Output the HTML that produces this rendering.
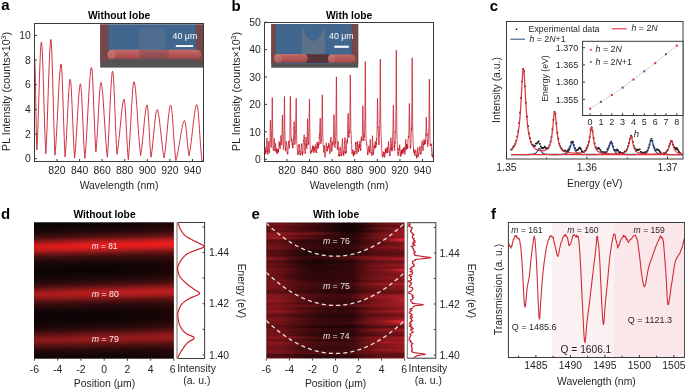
<!DOCTYPE html><html><head><meta charset="utf-8"><style>
html,body{margin:0;padding:0;background:#fff;}
svg{display:block;font-family:"Liberation Sans",sans-serif;will-change:transform;}
</style></head><body>
<svg width="685" height="390" viewBox="0 0 685 390">
<defs>
<clipPath id="clipa"><rect x="34.5" y="23" width="169" height="138.5"/></clipPath>
<clipPath id="clipb"><rect x="264.5" y="22" width="169.5" height="139.5"/></clipPath>
<clipPath id="clipc"><rect x="507" y="22" width="176" height="137"/></clipPath>
<clipPath id="clipe"><rect x="266.3" y="222.5" width="138.3" height="136.10000000000002"/></clipPath>
<clipPath id="clipf"><rect x="508.4" y="222.5" width="176.20000000000005" height="135.0"/></clipPath>
<linearGradient id="rod" x1="0" y1="0" x2="0" y2="1">
<stop offset="0" stop-color="#c46c6c"/><stop offset="0.3" stop-color="#bb5c5c"/><stop offset="0.8" stop-color="#a84e4e"/><stop offset="1" stop-color="#884040"/></linearGradient>
<linearGradient id="dgrad" gradientUnits="userSpaceOnUse" x1="104" y1="220.3" x2="104" y2="360.3" gradientTransform="rotate(-1.45 104 290)"><stop offset="0.0000" stop-color="#0b0304"/><stop offset="0.0071" stop-color="#0c0304"/><stop offset="0.0143" stop-color="#0d0405"/><stop offset="0.0214" stop-color="#0e0405"/><stop offset="0.0286" stop-color="#0f0405"/><stop offset="0.0357" stop-color="#110506"/><stop offset="0.0429" stop-color="#130506"/><stop offset="0.0500" stop-color="#160607"/><stop offset="0.0571" stop-color="#190708"/><stop offset="0.0643" stop-color="#1d0708"/><stop offset="0.0714" stop-color="#220809"/><stop offset="0.0786" stop-color="#27090a"/><stop offset="0.0857" stop-color="#2d0a0b"/><stop offset="0.0929" stop-color="#350c0d"/><stop offset="0.1000" stop-color="#3d0d0e"/><stop offset="0.1071" stop-color="#480f10"/><stop offset="0.1143" stop-color="#541112"/><stop offset="0.1214" stop-color="#631314"/><stop offset="0.1286" stop-color="#751617"/><stop offset="0.1357" stop-color="#891819"/><stop offset="0.1429" stop-color="#9e1b1c"/><stop offset="0.1500" stop-color="#b41c1d"/><stop offset="0.1571" stop-color="#c91c1d"/><stop offset="0.1643" stop-color="#db1c1d"/><stop offset="0.1714" stop-color="#e71c1d"/><stop offset="0.1786" stop-color="#ec1c1d"/><stop offset="0.1857" stop-color="#ec1c1d"/><stop offset="0.1929" stop-color="#e31c1d"/><stop offset="0.2000" stop-color="#d41c1d"/><stop offset="0.2071" stop-color="#c11c1d"/><stop offset="0.2143" stop-color="#ac1c1d"/><stop offset="0.2214" stop-color="#961a1b"/><stop offset="0.2286" stop-color="#811718"/><stop offset="0.2357" stop-color="#6e1516"/><stop offset="0.2429" stop-color="#5d1213"/><stop offset="0.2500" stop-color="#4f1011"/><stop offset="0.2571" stop-color="#430e0f"/><stop offset="0.2643" stop-color="#3a0d0e"/><stop offset="0.2714" stop-color="#310b0c"/><stop offset="0.2786" stop-color="#2b0a0b"/><stop offset="0.2857" stop-color="#25090a"/><stop offset="0.2929" stop-color="#200809"/><stop offset="0.3000" stop-color="#1c0708"/><stop offset="0.3071" stop-color="#180607"/><stop offset="0.3143" stop-color="#150607"/><stop offset="0.3214" stop-color="#130506"/><stop offset="0.3286" stop-color="#110506"/><stop offset="0.3357" stop-color="#100506"/><stop offset="0.3429" stop-color="#0f0405"/><stop offset="0.3500" stop-color="#0f0405"/><stop offset="0.3571" stop-color="#0f0405"/><stop offset="0.3643" stop-color="#0f0405"/><stop offset="0.3714" stop-color="#100506"/><stop offset="0.3786" stop-color="#110506"/><stop offset="0.3857" stop-color="#130506"/><stop offset="0.3929" stop-color="#150607"/><stop offset="0.4000" stop-color="#180607"/><stop offset="0.4071" stop-color="#1b0708"/><stop offset="0.4143" stop-color="#1f0809"/><stop offset="0.4214" stop-color="#23090a"/><stop offset="0.4286" stop-color="#290a0b"/><stop offset="0.4357" stop-color="#2f0b0c"/><stop offset="0.4429" stop-color="#360c0d"/><stop offset="0.4500" stop-color="#3f0d0e"/><stop offset="0.4571" stop-color="#4a0f10"/><stop offset="0.4643" stop-color="#571112"/><stop offset="0.4714" stop-color="#661314"/><stop offset="0.4786" stop-color="#761617"/><stop offset="0.4857" stop-color="#871819"/><stop offset="0.4929" stop-color="#981a1b"/><stop offset="0.5000" stop-color="#a71c1d"/><stop offset="0.5071" stop-color="#b21c1d"/><stop offset="0.5143" stop-color="#b91c1d"/><stop offset="0.5214" stop-color="#ba1c1d"/><stop offset="0.5286" stop-color="#b61c1d"/><stop offset="0.5357" stop-color="#ac1c1d"/><stop offset="0.5429" stop-color="#9e1b1c"/><stop offset="0.5500" stop-color="#8e191a"/><stop offset="0.5571" stop-color="#7d1718"/><stop offset="0.5643" stop-color="#6c1415"/><stop offset="0.5714" stop-color="#5d1213"/><stop offset="0.5786" stop-color="#4f1011"/><stop offset="0.5857" stop-color="#440e0f"/><stop offset="0.5929" stop-color="#3a0d0e"/><stop offset="0.6000" stop-color="#320b0c"/><stop offset="0.6071" stop-color="#2b0a0b"/><stop offset="0.6143" stop-color="#25090a"/><stop offset="0.6214" stop-color="#200809"/><stop offset="0.6286" stop-color="#1c0708"/><stop offset="0.6357" stop-color="#190708"/><stop offset="0.6429" stop-color="#160607"/><stop offset="0.6500" stop-color="#140506"/><stop offset="0.6571" stop-color="#120506"/><stop offset="0.6643" stop-color="#100506"/><stop offset="0.6714" stop-color="#100405"/><stop offset="0.6786" stop-color="#0f0405"/><stop offset="0.6857" stop-color="#0f0405"/><stop offset="0.6929" stop-color="#0f0405"/><stop offset="0.7000" stop-color="#100405"/><stop offset="0.7071" stop-color="#100506"/><stop offset="0.7143" stop-color="#120506"/><stop offset="0.7214" stop-color="#140506"/><stop offset="0.7286" stop-color="#160607"/><stop offset="0.7357" stop-color="#180607"/><stop offset="0.7429" stop-color="#1c0708"/><stop offset="0.7500" stop-color="#1f0809"/><stop offset="0.7571" stop-color="#24090a"/><stop offset="0.7643" stop-color="#290a0b"/><stop offset="0.7714" stop-color="#300b0c"/><stop offset="0.7786" stop-color="#370c0d"/><stop offset="0.7857" stop-color="#410e0f"/><stop offset="0.7929" stop-color="#4b0f10"/><stop offset="0.8000" stop-color="#571112"/><stop offset="0.8071" stop-color="#651314"/><stop offset="0.8143" stop-color="#721516"/><stop offset="0.8214" stop-color="#7f1718"/><stop offset="0.8286" stop-color="#8a1819"/><stop offset="0.8357" stop-color="#911a1b"/><stop offset="0.8429" stop-color="#951a1b"/><stop offset="0.8500" stop-color="#941a1b"/><stop offset="0.8571" stop-color="#8f191a"/><stop offset="0.8643" stop-color="#861819"/><stop offset="0.8714" stop-color="#7a1617"/><stop offset="0.8786" stop-color="#6d1415"/><stop offset="0.8857" stop-color="#5f1213"/><stop offset="0.8929" stop-color="#521011"/><stop offset="0.9000" stop-color="#470f10"/><stop offset="0.9071" stop-color="#3d0d0e"/><stop offset="0.9143" stop-color="#340c0d"/><stop offset="0.9214" stop-color="#2d0a0b"/><stop offset="0.9286" stop-color="#27090a"/><stop offset="0.9357" stop-color="#220809"/><stop offset="0.9429" stop-color="#1e0809"/><stop offset="0.9500" stop-color="#1a0708"/><stop offset="0.9571" stop-color="#170607"/><stop offset="0.9643" stop-color="#140607"/><stop offset="0.9714" stop-color="#120506"/><stop offset="0.9786" stop-color="#100506"/><stop offset="0.9857" stop-color="#0f0405"/><stop offset="0.9929" stop-color="#0e0405"/><stop offset="1.0000" stop-color="#0d0405"/></linearGradient>
<linearGradient id="dlr" x1="0" y1="0" x2="1" y2="0"><stop offset="0" stop-color="#000" stop-opacity="0.10"/><stop offset="0.5" stop-color="#000" stop-opacity="0"/><stop offset="1" stop-color="#f02020" stop-opacity="0.06"/></linearGradient>
<linearGradient id="er0"><stop offset="0.000" stop-color="#31080a"/><stop offset="0.015" stop-color="#580f13"/><stop offset="0.050" stop-color="#590f13"/><stop offset="0.100" stop-color="#5a0f13"/><stop offset="0.150" stop-color="#500d11"/><stop offset="0.200" stop-color="#460b0f"/><stop offset="0.250" stop-color="#3d0a0d"/><stop offset="0.300" stop-color="#38090c"/><stop offset="0.350" stop-color="#31080a"/><stop offset="0.400" stop-color="#2b0709"/><stop offset="0.450" stop-color="#240608"/><stop offset="0.500" stop-color="#1c0406"/><stop offset="0.550" stop-color="#160305"/><stop offset="0.600" stop-color="#140304"/><stop offset="0.640" stop-color="#150305"/><stop offset="0.670" stop-color="#1c0406"/><stop offset="0.700" stop-color="#260608"/><stop offset="0.750" stop-color="#37090c"/><stop offset="0.800" stop-color="#480c0f"/><stop offset="0.850" stop-color="#520d11"/><stop offset="0.900" stop-color="#580f13"/><stop offset="0.950" stop-color="#5d0f14"/><stop offset="1.000" stop-color="#611015"/></linearGradient>
<linearGradient id="er1"><stop offset="0.000" stop-color="#450b0f"/><stop offset="0.015" stop-color="#6c1217"/><stop offset="0.050" stop-color="#6c1217"/><stop offset="0.100" stop-color="#6c1217"/><stop offset="0.150" stop-color="#611014"/><stop offset="0.200" stop-color="#560e12"/><stop offset="0.250" stop-color="#4c0c10"/><stop offset="0.300" stop-color="#460b0f"/><stop offset="0.350" stop-color="#3e0a0d"/><stop offset="0.400" stop-color="#36090b"/><stop offset="0.450" stop-color="#2c0709"/><stop offset="0.500" stop-color="#220507"/><stop offset="0.550" stop-color="#190405"/><stop offset="0.600" stop-color="#160305"/><stop offset="0.640" stop-color="#180405"/><stop offset="0.670" stop-color="#210507"/><stop offset="0.700" stop-color="#2d0709"/><stop offset="0.750" stop-color="#410b0e"/><stop offset="0.800" stop-color="#560e12"/><stop offset="0.850" stop-color="#631015"/><stop offset="0.900" stop-color="#6c1217"/><stop offset="0.950" stop-color="#731318"/><stop offset="1.000" stop-color="#791419"/></linearGradient>
<linearGradient id="er2"><stop offset="0.000" stop-color="#4d0d10"/><stop offset="0.015" stop-color="#741318"/><stop offset="0.050" stop-color="#751319"/><stop offset="0.100" stop-color="#761419"/><stop offset="0.150" stop-color="#6c1217"/><stop offset="0.200" stop-color="#601014"/><stop offset="0.250" stop-color="#540e12"/><stop offset="0.300" stop-color="#4c0c10"/><stop offset="0.350" stop-color="#420b0e"/><stop offset="0.400" stop-color="#39090c"/><stop offset="0.450" stop-color="#2e070a"/><stop offset="0.500" stop-color="#230607"/><stop offset="0.550" stop-color="#1a0406"/><stop offset="0.600" stop-color="#170305"/><stop offset="0.640" stop-color="#190405"/><stop offset="0.670" stop-color="#210507"/><stop offset="0.700" stop-color="#2d070a"/><stop offset="0.750" stop-color="#430b0e"/><stop offset="0.800" stop-color="#590f13"/><stop offset="0.850" stop-color="#661115"/><stop offset="0.900" stop-color="#6f1217"/><stop offset="0.950" stop-color="#761419"/><stop offset="1.000" stop-color="#7d151a"/></linearGradient>
<linearGradient id="er3"><stop offset="0.000" stop-color="#440b0e"/><stop offset="0.015" stop-color="#6c1217"/><stop offset="0.050" stop-color="#6e1217"/><stop offset="0.100" stop-color="#701318"/><stop offset="0.150" stop-color="#671116"/><stop offset="0.200" stop-color="#5c0f13"/><stop offset="0.250" stop-color="#500d11"/><stop offset="0.300" stop-color="#480c0f"/><stop offset="0.350" stop-color="#3e0a0d"/><stop offset="0.400" stop-color="#35090b"/><stop offset="0.450" stop-color="#2a0709"/><stop offset="0.500" stop-color="#200507"/><stop offset="0.550" stop-color="#180405"/><stop offset="0.600" stop-color="#150304"/><stop offset="0.640" stop-color="#160305"/><stop offset="0.670" stop-color="#1e0506"/><stop offset="0.700" stop-color="#290609"/><stop offset="0.750" stop-color="#3c0a0d"/><stop offset="0.800" stop-color="#4f0d11"/><stop offset="0.850" stop-color="#5b0f13"/><stop offset="0.900" stop-color="#621015"/><stop offset="0.950" stop-color="#691116"/><stop offset="1.000" stop-color="#6e1217"/></linearGradient>
<linearGradient id="er4"><stop offset="0.000" stop-color="#3b0a0d"/><stop offset="0.015" stop-color="#631015"/><stop offset="0.050" stop-color="#651115"/><stop offset="0.100" stop-color="#691116"/><stop offset="0.150" stop-color="#601014"/><stop offset="0.200" stop-color="#550e12"/><stop offset="0.250" stop-color="#4a0c10"/><stop offset="0.300" stop-color="#420b0e"/><stop offset="0.350" stop-color="#39090c"/><stop offset="0.400" stop-color="#30080a"/><stop offset="0.450" stop-color="#270608"/><stop offset="0.500" stop-color="#1e0506"/><stop offset="0.550" stop-color="#160305"/><stop offset="0.600" stop-color="#130304"/><stop offset="0.640" stop-color="#150304"/><stop offset="0.670" stop-color="#1c0406"/><stop offset="0.700" stop-color="#260608"/><stop offset="0.750" stop-color="#37090c"/><stop offset="0.800" stop-color="#490c0f"/><stop offset="0.850" stop-color="#530e12"/><stop offset="0.900" stop-color="#5a0f13"/><stop offset="0.950" stop-color="#5f1014"/><stop offset="1.000" stop-color="#641115"/></linearGradient>
<linearGradient id="er5"><stop offset="0.000" stop-color="#3f0a0d"/><stop offset="0.015" stop-color="#661115"/><stop offset="0.050" stop-color="#651115"/><stop offset="0.100" stop-color="#641115"/><stop offset="0.150" stop-color="#580e12"/><stop offset="0.200" stop-color="#4b0c10"/><stop offset="0.250" stop-color="#410b0e"/><stop offset="0.300" stop-color="#3c0a0d"/><stop offset="0.350" stop-color="#36090b"/><stop offset="0.400" stop-color="#31080a"/><stop offset="0.450" stop-color="#2a0709"/><stop offset="0.500" stop-color="#210507"/><stop offset="0.550" stop-color="#1a0405"/><stop offset="0.600" stop-color="#170305"/><stop offset="0.640" stop-color="#190405"/><stop offset="0.670" stop-color="#220507"/><stop offset="0.700" stop-color="#2f080a"/><stop offset="0.750" stop-color="#460b0f"/><stop offset="0.800" stop-color="#5c0f13"/><stop offset="0.850" stop-color="#691116"/><stop offset="0.900" stop-color="#711318"/><stop offset="0.950" stop-color="#771419"/><stop offset="1.000" stop-color="#7b141a"/></linearGradient>
<linearGradient id="er6"><stop offset="0.000" stop-color="#480c0f"/><stop offset="0.015" stop-color="#6f1217"/><stop offset="0.050" stop-color="#6e1217"/><stop offset="0.100" stop-color="#6c1217"/><stop offset="0.150" stop-color="#5f1014"/><stop offset="0.200" stop-color="#530e11"/><stop offset="0.250" stop-color="#480c0f"/><stop offset="0.300" stop-color="#420b0e"/><stop offset="0.350" stop-color="#3c0a0d"/><stop offset="0.400" stop-color="#36090b"/><stop offset="0.450" stop-color="#2e070a"/><stop offset="0.500" stop-color="#240608"/><stop offset="0.550" stop-color="#1c0406"/><stop offset="0.600" stop-color="#190405"/><stop offset="0.640" stop-color="#1c0406"/><stop offset="0.670" stop-color="#260608"/><stop offset="0.700" stop-color="#33080b"/><stop offset="0.750" stop-color="#4b0c10"/><stop offset="0.800" stop-color="#631015"/><stop offset="0.850" stop-color="#711318"/><stop offset="0.900" stop-color="#7c151a"/><stop offset="0.950" stop-color="#84161c"/><stop offset="1.000" stop-color="#8a171d"/></linearGradient>
<linearGradient id="er7"><stop offset="0.000" stop-color="#4d0d10"/><stop offset="0.015" stop-color="#741318"/><stop offset="0.050" stop-color="#731318"/><stop offset="0.100" stop-color="#711318"/><stop offset="0.150" stop-color="#661116"/><stop offset="0.200" stop-color="#5b0f13"/><stop offset="0.250" stop-color="#510d11"/><stop offset="0.300" stop-color="#4a0c10"/><stop offset="0.350" stop-color="#400a0e"/><stop offset="0.400" stop-color="#37090c"/><stop offset="0.450" stop-color="#2e070a"/><stop offset="0.500" stop-color="#240608"/><stop offset="0.550" stop-color="#1b0406"/><stop offset="0.600" stop-color="#180405"/><stop offset="0.640" stop-color="#1b0406"/><stop offset="0.670" stop-color="#240608"/><stop offset="0.700" stop-color="#30080a"/><stop offset="0.750" stop-color="#460b0f"/><stop offset="0.800" stop-color="#5d0f14"/><stop offset="0.850" stop-color="#6c1217"/><stop offset="0.900" stop-color="#7c151a"/><stop offset="0.950" stop-color="#8c171e"/><stop offset="1.000" stop-color="#971920"/></linearGradient>
<linearGradient id="er8"><stop offset="0.000" stop-color="#3b0a0c"/><stop offset="0.015" stop-color="#621015"/><stop offset="0.050" stop-color="#611014"/><stop offset="0.100" stop-color="#611014"/><stop offset="0.150" stop-color="#560e12"/><stop offset="0.200" stop-color="#4c0d10"/><stop offset="0.250" stop-color="#430b0e"/><stop offset="0.300" stop-color="#3d0a0d"/><stop offset="0.350" stop-color="#34080b"/><stop offset="0.400" stop-color="#2d070a"/><stop offset="0.450" stop-color="#260608"/><stop offset="0.500" stop-color="#1f0507"/><stop offset="0.550" stop-color="#190405"/><stop offset="0.600" stop-color="#160305"/><stop offset="0.640" stop-color="#180405"/><stop offset="0.670" stop-color="#200507"/><stop offset="0.700" stop-color="#2b0709"/><stop offset="0.750" stop-color="#3d0a0d"/><stop offset="0.800" stop-color="#500d11"/><stop offset="0.850" stop-color="#5f1014"/><stop offset="0.900" stop-color="#731318"/><stop offset="0.950" stop-color="#8d171e"/><stop offset="1.000" stop-color="#9c1a21"/></linearGradient>
<linearGradient id="er9"><stop offset="0.000" stop-color="#3b0a0c"/><stop offset="0.015" stop-color="#631015"/><stop offset="0.050" stop-color="#651115"/><stop offset="0.100" stop-color="#681116"/><stop offset="0.150" stop-color="#601014"/><stop offset="0.200" stop-color="#570e12"/><stop offset="0.250" stop-color="#4f0d11"/><stop offset="0.300" stop-color="#4c0c10"/><stop offset="0.350" stop-color="#470c0f"/><stop offset="0.400" stop-color="#410b0e"/><stop offset="0.450" stop-color="#36090b"/><stop offset="0.500" stop-color="#290609"/><stop offset="0.550" stop-color="#1e0506"/><stop offset="0.600" stop-color="#190405"/><stop offset="0.640" stop-color="#190405"/><stop offset="0.670" stop-color="#210507"/><stop offset="0.700" stop-color="#2c0709"/><stop offset="0.750" stop-color="#3d0a0d"/><stop offset="0.800" stop-color="#4f0d11"/><stop offset="0.850" stop-color="#5e0f14"/><stop offset="0.900" stop-color="#711318"/><stop offset="0.950" stop-color="#8b171d"/><stop offset="1.000" stop-color="#9a1a21"/></linearGradient>
<linearGradient id="er10"><stop offset="0.000" stop-color="#520d11"/><stop offset="0.015" stop-color="#7a141a"/><stop offset="0.050" stop-color="#7c151a"/><stop offset="0.100" stop-color="#80151b"/><stop offset="0.150" stop-color="#781419"/><stop offset="0.200" stop-color="#6f1217"/><stop offset="0.250" stop-color="#671116"/><stop offset="0.300" stop-color="#641115"/><stop offset="0.350" stop-color="#5f1014"/><stop offset="0.400" stop-color="#560e12"/><stop offset="0.450" stop-color="#470c0f"/><stop offset="0.500" stop-color="#35080b"/><stop offset="0.550" stop-color="#260608"/><stop offset="0.600" stop-color="#1f0507"/><stop offset="0.640" stop-color="#200507"/><stop offset="0.670" stop-color="#2a0709"/><stop offset="0.700" stop-color="#36090b"/><stop offset="0.750" stop-color="#4a0c10"/><stop offset="0.800" stop-color="#5f1014"/><stop offset="0.850" stop-color="#6d1217"/><stop offset="0.900" stop-color="#7c151a"/><stop offset="0.950" stop-color="#8c171d"/><stop offset="1.000" stop-color="#971920"/></linearGradient>
<linearGradient id="er11"><stop offset="0.000" stop-color="#611014"/><stop offset="0.015" stop-color="#88171d"/><stop offset="0.050" stop-color="#8a171d"/><stop offset="0.100" stop-color="#8d181e"/><stop offset="0.150" stop-color="#85161c"/><stop offset="0.200" stop-color="#7b141a"/><stop offset="0.250" stop-color="#721318"/><stop offset="0.300" stop-color="#6e1217"/><stop offset="0.350" stop-color="#681116"/><stop offset="0.400" stop-color="#5f1014"/><stop offset="0.450" stop-color="#4f0d11"/><stop offset="0.500" stop-color="#3b0a0d"/><stop offset="0.550" stop-color="#2b0709"/><stop offset="0.600" stop-color="#250608"/><stop offset="0.640" stop-color="#270608"/><stop offset="0.670" stop-color="#31080a"/><stop offset="0.700" stop-color="#3e0a0d"/><stop offset="0.750" stop-color="#540e12"/><stop offset="0.800" stop-color="#6a1216"/><stop offset="0.850" stop-color="#791419"/><stop offset="0.900" stop-color="#84161c"/><stop offset="0.950" stop-color="#8e181e"/><stop offset="1.000" stop-color="#971920"/></linearGradient>
<linearGradient id="er12"><stop offset="0.000" stop-color="#691116"/><stop offset="0.015" stop-color="#90181e"/><stop offset="0.050" stop-color="#91181e"/><stop offset="0.100" stop-color="#91181f"/><stop offset="0.150" stop-color="#87161c"/><stop offset="0.200" stop-color="#7b151a"/><stop offset="0.250" stop-color="#711318"/><stop offset="0.300" stop-color="#6c1217"/><stop offset="0.350" stop-color="#651115"/><stop offset="0.400" stop-color="#5c0f13"/><stop offset="0.450" stop-color="#4e0d10"/><stop offset="0.500" stop-color="#3d0a0d"/><stop offset="0.550" stop-color="#2f070a"/><stop offset="0.600" stop-color="#2a0709"/><stop offset="0.640" stop-color="#2c0709"/><stop offset="0.670" stop-color="#38090c"/><stop offset="0.700" stop-color="#460b0f"/><stop offset="0.750" stop-color="#5d0f14"/><stop offset="0.800" stop-color="#741319"/><stop offset="0.850" stop-color="#83161c"/><stop offset="0.900" stop-color="#8e181e"/><stop offset="0.950" stop-color="#981920"/><stop offset="1.000" stop-color="#a01b22"/></linearGradient>
<linearGradient id="er13"><stop offset="0.000" stop-color="#6e1217"/><stop offset="0.015" stop-color="#95191f"/><stop offset="0.050" stop-color="#92181f"/><stop offset="0.100" stop-color="#8b171d"/><stop offset="0.150" stop-color="#79141a"/><stop offset="0.200" stop-color="#671116"/><stop offset="0.250" stop-color="#580e13"/><stop offset="0.300" stop-color="#4f0d11"/><stop offset="0.350" stop-color="#470c0f"/><stop offset="0.400" stop-color="#400b0e"/><stop offset="0.450" stop-color="#39090c"/><stop offset="0.500" stop-color="#30080a"/><stop offset="0.550" stop-color="#290609"/><stop offset="0.600" stop-color="#280608"/><stop offset="0.640" stop-color="#2b0709"/><stop offset="0.670" stop-color="#37090c"/><stop offset="0.700" stop-color="#440b0e"/><stop offset="0.750" stop-color="#5a0f13"/><stop offset="0.800" stop-color="#6f1217"/><stop offset="0.850" stop-color="#7c151a"/><stop offset="0.900" stop-color="#86161c"/><stop offset="0.950" stop-color="#8e181e"/><stop offset="1.000" stop-color="#961920"/></linearGradient>
<linearGradient id="er14"><stop offset="0.000" stop-color="#681116"/><stop offset="0.015" stop-color="#8e181e"/><stop offset="0.050" stop-color="#8c171d"/><stop offset="0.100" stop-color="#86161c"/><stop offset="0.150" stop-color="#741318"/><stop offset="0.200" stop-color="#621015"/><stop offset="0.250" stop-color="#530e11"/><stop offset="0.300" stop-color="#4a0c10"/><stop offset="0.350" stop-color="#430b0e"/><stop offset="0.400" stop-color="#3d0a0d"/><stop offset="0.450" stop-color="#37090c"/><stop offset="0.500" stop-color="#2f080a"/><stop offset="0.550" stop-color="#290609"/><stop offset="0.600" stop-color="#280608"/><stop offset="0.640" stop-color="#2b0709"/><stop offset="0.670" stop-color="#37090c"/><stop offset="0.700" stop-color="#440b0e"/><stop offset="0.750" stop-color="#580e13"/><stop offset="0.800" stop-color="#6b1217"/><stop offset="0.850" stop-color="#771419"/><stop offset="0.900" stop-color="#80151b"/><stop offset="0.950" stop-color="#88171d"/><stop offset="1.000" stop-color="#8f181e"/></linearGradient>
<linearGradient id="er15"><stop offset="0.000" stop-color="#681116"/><stop offset="0.015" stop-color="#90181e"/><stop offset="0.050" stop-color="#90181e"/><stop offset="0.100" stop-color="#8e181e"/><stop offset="0.150" stop-color="#80151b"/><stop offset="0.200" stop-color="#701318"/><stop offset="0.250" stop-color="#611014"/><stop offset="0.300" stop-color="#560e12"/><stop offset="0.350" stop-color="#4c0c10"/><stop offset="0.400" stop-color="#440b0e"/><stop offset="0.450" stop-color="#3b0a0d"/><stop offset="0.500" stop-color="#33080b"/><stop offset="0.550" stop-color="#2c0709"/><stop offset="0.600" stop-color="#2b0709"/><stop offset="0.640" stop-color="#2e070a"/><stop offset="0.670" stop-color="#3b0a0c"/><stop offset="0.700" stop-color="#480c0f"/><stop offset="0.750" stop-color="#5b0f13"/><stop offset="0.800" stop-color="#6d1217"/><stop offset="0.850" stop-color="#781419"/><stop offset="0.900" stop-color="#83161c"/><stop offset="0.950" stop-color="#8d181e"/><stop offset="1.000" stop-color="#95191f"/></linearGradient>
<linearGradient id="er16"><stop offset="0.000" stop-color="#741319"/><stop offset="0.015" stop-color="#9b1a21"/><stop offset="0.050" stop-color="#9b1a21"/><stop offset="0.100" stop-color="#991a20"/><stop offset="0.150" stop-color="#8a171d"/><stop offset="0.200" stop-color="#791419"/><stop offset="0.250" stop-color="#691116"/><stop offset="0.300" stop-color="#5e1014"/><stop offset="0.350" stop-color="#530e12"/><stop offset="0.400" stop-color="#4b0c10"/><stop offset="0.450" stop-color="#420b0e"/><stop offset="0.500" stop-color="#39090c"/><stop offset="0.550" stop-color="#32080b"/><stop offset="0.600" stop-color="#32080b"/><stop offset="0.640" stop-color="#36090b"/><stop offset="0.670" stop-color="#430b0e"/><stop offset="0.700" stop-color="#510d11"/><stop offset="0.750" stop-color="#651115"/><stop offset="0.800" stop-color="#781419"/><stop offset="0.850" stop-color="#87171d"/><stop offset="0.900" stop-color="#9b1a21"/><stop offset="0.950" stop-color="#b31e26"/><stop offset="1.000" stop-color="#c32129"/></linearGradient>
<linearGradient id="er17"><stop offset="0.000" stop-color="#470c0f"/><stop offset="0.015" stop-color="#6e1217"/><stop offset="0.050" stop-color="#6c1217"/><stop offset="0.100" stop-color="#6a1216"/><stop offset="0.150" stop-color="#5d0f14"/><stop offset="0.200" stop-color="#500d11"/><stop offset="0.250" stop-color="#440b0e"/><stop offset="0.300" stop-color="#3e0a0d"/><stop offset="0.350" stop-color="#39090c"/><stop offset="0.400" stop-color="#35090b"/><stop offset="0.450" stop-color="#31080a"/><stop offset="0.500" stop-color="#2d070a"/><stop offset="0.550" stop-color="#290709"/><stop offset="0.600" stop-color="#290609"/><stop offset="0.640" stop-color="#2c0709"/><stop offset="0.670" stop-color="#38090c"/><stop offset="0.700" stop-color="#440b0e"/><stop offset="0.750" stop-color="#550e12"/><stop offset="0.800" stop-color="#681116"/><stop offset="0.850" stop-color="#7c151a"/><stop offset="0.900" stop-color="#9f1b22"/><stop offset="0.950" stop-color="#cd222b"/><stop offset="1.000" stop-color="#e32630"/></linearGradient>
<linearGradient id="er18"><stop offset="0.000" stop-color="#3a090c"/><stop offset="0.015" stop-color="#601014"/><stop offset="0.050" stop-color="#5f1014"/><stop offset="0.100" stop-color="#5e0f14"/><stop offset="0.150" stop-color="#510d11"/><stop offset="0.200" stop-color="#440b0e"/><stop offset="0.250" stop-color="#3a090c"/><stop offset="0.300" stop-color="#35080b"/><stop offset="0.350" stop-color="#30080a"/><stop offset="0.400" stop-color="#2d070a"/><stop offset="0.450" stop-color="#2b0709"/><stop offset="0.500" stop-color="#280608"/><stop offset="0.550" stop-color="#250608"/><stop offset="0.600" stop-color="#240608"/><stop offset="0.640" stop-color="#260608"/><stop offset="0.670" stop-color="#32080b"/><stop offset="0.700" stop-color="#3e0a0d"/><stop offset="0.750" stop-color="#4d0d10"/><stop offset="0.800" stop-color="#5e1014"/><stop offset="0.850" stop-color="#721318"/><stop offset="0.900" stop-color="#961920"/><stop offset="0.950" stop-color="#c42129"/><stop offset="1.000" stop-color="#dc252e"/></linearGradient>
<linearGradient id="er19"><stop offset="0.000" stop-color="#31080a"/><stop offset="0.015" stop-color="#570e12"/><stop offset="0.050" stop-color="#570e12"/><stop offset="0.100" stop-color="#550e12"/><stop offset="0.150" stop-color="#490c0f"/><stop offset="0.200" stop-color="#3d0a0d"/><stop offset="0.250" stop-color="#33080b"/><stop offset="0.300" stop-color="#2e070a"/><stop offset="0.350" stop-color="#2a0709"/><stop offset="0.400" stop-color="#280609"/><stop offset="0.450" stop-color="#260608"/><stop offset="0.500" stop-color="#240608"/><stop offset="0.550" stop-color="#220507"/><stop offset="0.600" stop-color="#220507"/><stop offset="0.640" stop-color="#230607"/><stop offset="0.670" stop-color="#2f070a"/><stop offset="0.700" stop-color="#3a090c"/><stop offset="0.750" stop-color="#470c0f"/><stop offset="0.800" stop-color="#570e12"/><stop offset="0.850" stop-color="#651115"/><stop offset="0.900" stop-color="#7c151a"/><stop offset="0.950" stop-color="#95191f"/><stop offset="1.000" stop-color="#a21b22"/></linearGradient>
<linearGradient id="er20"><stop offset="0.000" stop-color="#3b0a0c"/><stop offset="0.015" stop-color="#611015"/><stop offset="0.050" stop-color="#601014"/><stop offset="0.100" stop-color="#5e1014"/><stop offset="0.150" stop-color="#510d11"/><stop offset="0.200" stop-color="#440b0e"/><stop offset="0.250" stop-color="#39090c"/><stop offset="0.300" stop-color="#34080b"/><stop offset="0.350" stop-color="#30080a"/><stop offset="0.400" stop-color="#2e070a"/><stop offset="0.450" stop-color="#2c0709"/><stop offset="0.500" stop-color="#290709"/><stop offset="0.550" stop-color="#270608"/><stop offset="0.600" stop-color="#270608"/><stop offset="0.640" stop-color="#2a0709"/><stop offset="0.670" stop-color="#36090b"/><stop offset="0.700" stop-color="#420b0e"/><stop offset="0.750" stop-color="#500d11"/><stop offset="0.800" stop-color="#5e1014"/><stop offset="0.850" stop-color="#691116"/><stop offset="0.900" stop-color="#761419"/><stop offset="0.950" stop-color="#82161b"/><stop offset="1.000" stop-color="#88171d"/></linearGradient>
<linearGradient id="er21"><stop offset="0.000" stop-color="#3f0a0d"/><stop offset="0.015" stop-color="#651115"/><stop offset="0.050" stop-color="#641115"/><stop offset="0.100" stop-color="#611014"/><stop offset="0.150" stop-color="#540e12"/><stop offset="0.200" stop-color="#470c0f"/><stop offset="0.250" stop-color="#3b0a0d"/><stop offset="0.300" stop-color="#36090b"/><stop offset="0.350" stop-color="#32080a"/><stop offset="0.400" stop-color="#30080a"/><stop offset="0.450" stop-color="#2e070a"/><stop offset="0.500" stop-color="#2c0709"/><stop offset="0.550" stop-color="#2a0709"/><stop offset="0.600" stop-color="#2a0709"/><stop offset="0.640" stop-color="#2c0709"/><stop offset="0.670" stop-color="#38090c"/><stop offset="0.700" stop-color="#430b0e"/><stop offset="0.750" stop-color="#4e0d11"/><stop offset="0.800" stop-color="#5a0f13"/><stop offset="0.850" stop-color="#611014"/><stop offset="0.900" stop-color="#691116"/><stop offset="0.950" stop-color="#701318"/><stop offset="1.000" stop-color="#771419"/></linearGradient>
<linearGradient id="er22"><stop offset="0.000" stop-color="#400a0e"/><stop offset="0.015" stop-color="#661115"/><stop offset="0.050" stop-color="#641115"/><stop offset="0.100" stop-color="#611015"/><stop offset="0.150" stop-color="#540e12"/><stop offset="0.200" stop-color="#460c0f"/><stop offset="0.250" stop-color="#3b0a0c"/><stop offset="0.300" stop-color="#36090b"/><stop offset="0.350" stop-color="#31080a"/><stop offset="0.400" stop-color="#30080a"/><stop offset="0.450" stop-color="#2e070a"/><stop offset="0.500" stop-color="#2d0709"/><stop offset="0.550" stop-color="#2b0709"/><stop offset="0.600" stop-color="#2c0709"/><stop offset="0.640" stop-color="#2e070a"/><stop offset="0.670" stop-color="#3a090c"/><stop offset="0.700" stop-color="#450b0f"/><stop offset="0.750" stop-color="#500d11"/><stop offset="0.800" stop-color="#5b0f13"/><stop offset="0.850" stop-color="#621015"/><stop offset="0.900" stop-color="#691116"/><stop offset="0.950" stop-color="#711318"/><stop offset="1.000" stop-color="#771419"/></linearGradient>
<linearGradient id="er23"><stop offset="0.000" stop-color="#440b0e"/><stop offset="0.015" stop-color="#6a1216"/><stop offset="0.050" stop-color="#681116"/><stop offset="0.100" stop-color="#651115"/><stop offset="0.150" stop-color="#560e12"/><stop offset="0.200" stop-color="#490c0f"/><stop offset="0.250" stop-color="#3d0a0d"/><stop offset="0.300" stop-color="#37090c"/><stop offset="0.350" stop-color="#33080b"/><stop offset="0.400" stop-color="#31080a"/><stop offset="0.450" stop-color="#30080a"/><stop offset="0.500" stop-color="#2f070a"/><stop offset="0.550" stop-color="#2d070a"/><stop offset="0.600" stop-color="#2f070a"/><stop offset="0.640" stop-color="#32080b"/><stop offset="0.670" stop-color="#3f0a0d"/><stop offset="0.700" stop-color="#4b0c10"/><stop offset="0.750" stop-color="#590f13"/><stop offset="0.800" stop-color="#661115"/><stop offset="0.850" stop-color="#6c1217"/><stop offset="0.900" stop-color="#721318"/><stop offset="0.950" stop-color="#771419"/><stop offset="1.000" stop-color="#7d151a"/></linearGradient>
<linearGradient id="er24"><stop offset="0.000" stop-color="#4c0d10"/><stop offset="0.015" stop-color="#721318"/><stop offset="0.050" stop-color="#701318"/><stop offset="0.100" stop-color="#6b1217"/><stop offset="0.150" stop-color="#5c0f13"/><stop offset="0.200" stop-color="#4e0d10"/><stop offset="0.250" stop-color="#410b0e"/><stop offset="0.300" stop-color="#3b0a0d"/><stop offset="0.350" stop-color="#36090b"/><stop offset="0.400" stop-color="#35080b"/><stop offset="0.450" stop-color="#33080b"/><stop offset="0.500" stop-color="#32080b"/><stop offset="0.550" stop-color="#31080a"/><stop offset="0.600" stop-color="#34080b"/><stop offset="0.640" stop-color="#37090c"/><stop offset="0.670" stop-color="#460b0f"/><stop offset="0.700" stop-color="#520e11"/><stop offset="0.750" stop-color="#601014"/><stop offset="0.800" stop-color="#6d1217"/><stop offset="0.850" stop-color="#741318"/><stop offset="0.900" stop-color="#7a141a"/><stop offset="0.950" stop-color="#81151b"/><stop offset="1.000" stop-color="#87161c"/></linearGradient>
<linearGradient id="er25"><stop offset="0.000" stop-color="#540e12"/><stop offset="0.015" stop-color="#7a141a"/><stop offset="0.050" stop-color="#771419"/><stop offset="0.100" stop-color="#721318"/><stop offset="0.150" stop-color="#621015"/><stop offset="0.200" stop-color="#520e11"/><stop offset="0.250" stop-color="#450b0f"/><stop offset="0.300" stop-color="#3e0a0d"/><stop offset="0.350" stop-color="#39090c"/><stop offset="0.400" stop-color="#38090c"/><stop offset="0.450" stop-color="#37090c"/><stop offset="0.500" stop-color="#36090b"/><stop offset="0.550" stop-color="#35090b"/><stop offset="0.600" stop-color="#38090c"/><stop offset="0.640" stop-color="#3d0a0d"/><stop offset="0.670" stop-color="#4b0c10"/><stop offset="0.700" stop-color="#590f13"/><stop offset="0.750" stop-color="#671116"/><stop offset="0.800" stop-color="#751319"/><stop offset="0.850" stop-color="#7c151a"/><stop offset="0.900" stop-color="#83161c"/><stop offset="0.950" stop-color="#8a171d"/><stop offset="1.000" stop-color="#91181e"/></linearGradient>
<linearGradient id="er26"><stop offset="0.000" stop-color="#510d11"/><stop offset="0.015" stop-color="#761419"/><stop offset="0.050" stop-color="#731318"/><stop offset="0.100" stop-color="#6e1217"/><stop offset="0.150" stop-color="#5e1014"/><stop offset="0.200" stop-color="#4e0d11"/><stop offset="0.250" stop-color="#410b0e"/><stop offset="0.300" stop-color="#3b0a0c"/><stop offset="0.350" stop-color="#35090b"/><stop offset="0.400" stop-color="#34080b"/><stop offset="0.450" stop-color="#33080b"/><stop offset="0.500" stop-color="#32080b"/><stop offset="0.550" stop-color="#31080a"/><stop offset="0.600" stop-color="#33080b"/><stop offset="0.640" stop-color="#37090c"/><stop offset="0.670" stop-color="#450b0f"/><stop offset="0.700" stop-color="#520d11"/><stop offset="0.750" stop-color="#601014"/><stop offset="0.800" stop-color="#6e1217"/><stop offset="0.850" stop-color="#751319"/><stop offset="0.900" stop-color="#7d151a"/><stop offset="0.950" stop-color="#84161c"/><stop offset="1.000" stop-color="#8b171d"/></linearGradient>
<linearGradient id="er27"><stop offset="0.000" stop-color="#450b0f"/><stop offset="0.015" stop-color="#6a1216"/><stop offset="0.050" stop-color="#671116"/><stop offset="0.100" stop-color="#631015"/><stop offset="0.150" stop-color="#530e12"/><stop offset="0.200" stop-color="#450b0e"/><stop offset="0.250" stop-color="#38090c"/><stop offset="0.300" stop-color="#32080b"/><stop offset="0.350" stop-color="#2e070a"/><stop offset="0.400" stop-color="#2d0709"/><stop offset="0.450" stop-color="#2c0709"/><stop offset="0.500" stop-color="#2c0709"/><stop offset="0.550" stop-color="#2b0709"/><stop offset="0.600" stop-color="#2d070a"/><stop offset="0.640" stop-color="#30080a"/><stop offset="0.670" stop-color="#3e0a0d"/><stop offset="0.700" stop-color="#4a0c10"/><stop offset="0.750" stop-color="#570e12"/><stop offset="0.800" stop-color="#631015"/><stop offset="0.850" stop-color="#6a1216"/><stop offset="0.900" stop-color="#701318"/><stop offset="0.950" stop-color="#771419"/><stop offset="1.000" stop-color="#7d151a"/></linearGradient>
<linearGradient id="er28"><stop offset="0.000" stop-color="#30080a"/><stop offset="0.015" stop-color="#560e12"/><stop offset="0.050" stop-color="#540e12"/><stop offset="0.100" stop-color="#510d11"/><stop offset="0.150" stop-color="#440b0e"/><stop offset="0.200" stop-color="#37090c"/><stop offset="0.250" stop-color="#2c0709"/><stop offset="0.300" stop-color="#270608"/><stop offset="0.350" stop-color="#240608"/><stop offset="0.400" stop-color="#230608"/><stop offset="0.450" stop-color="#240608"/><stop offset="0.500" stop-color="#240608"/><stop offset="0.550" stop-color="#250608"/><stop offset="0.600" stop-color="#260608"/><stop offset="0.640" stop-color="#280609"/><stop offset="0.670" stop-color="#35090b"/><stop offset="0.700" stop-color="#410b0e"/><stop offset="0.750" stop-color="#4c0c10"/><stop offset="0.800" stop-color="#560e12"/><stop offset="0.850" stop-color="#5a0f13"/><stop offset="0.900" stop-color="#5e0f14"/><stop offset="0.950" stop-color="#621015"/><stop offset="1.000" stop-color="#661115"/></linearGradient>
<linearGradient id="er29"><stop offset="0.000" stop-color="#37090c"/><stop offset="0.015" stop-color="#5c0f13"/><stop offset="0.050" stop-color="#5a0f13"/><stop offset="0.100" stop-color="#570e12"/><stop offset="0.150" stop-color="#480c0f"/><stop offset="0.200" stop-color="#3b0a0c"/><stop offset="0.250" stop-color="#2f080a"/><stop offset="0.300" stop-color="#2a0709"/><stop offset="0.350" stop-color="#260608"/><stop offset="0.400" stop-color="#250608"/><stop offset="0.450" stop-color="#260608"/><stop offset="0.500" stop-color="#270608"/><stop offset="0.550" stop-color="#280608"/><stop offset="0.600" stop-color="#2a0709"/><stop offset="0.640" stop-color="#2c0709"/><stop offset="0.670" stop-color="#3a090c"/><stop offset="0.700" stop-color="#460b0f"/><stop offset="0.750" stop-color="#510d11"/><stop offset="0.800" stop-color="#5c0f13"/><stop offset="0.850" stop-color="#601014"/><stop offset="0.900" stop-color="#651115"/><stop offset="0.950" stop-color="#691116"/><stop offset="1.000" stop-color="#6e1217"/></linearGradient>
<linearGradient id="er30"><stop offset="0.000" stop-color="#290709"/><stop offset="0.015" stop-color="#4f0d11"/><stop offset="0.050" stop-color="#4d0d10"/><stop offset="0.100" stop-color="#4a0c10"/><stop offset="0.150" stop-color="#3d0a0d"/><stop offset="0.200" stop-color="#31080a"/><stop offset="0.250" stop-color="#270608"/><stop offset="0.300" stop-color="#220507"/><stop offset="0.350" stop-color="#1f0507"/><stop offset="0.400" stop-color="#1f0507"/><stop offset="0.450" stop-color="#1f0507"/><stop offset="0.500" stop-color="#200507"/><stop offset="0.550" stop-color="#220507"/><stop offset="0.600" stop-color="#220507"/><stop offset="0.640" stop-color="#240608"/><stop offset="0.670" stop-color="#31080a"/><stop offset="0.700" stop-color="#3c0a0d"/><stop offset="0.750" stop-color="#470c0f"/><stop offset="0.800" stop-color="#500d11"/><stop offset="0.850" stop-color="#530e12"/><stop offset="0.900" stop-color="#560e12"/><stop offset="0.950" stop-color="#5a0f13"/><stop offset="1.000" stop-color="#5d0f14"/></linearGradient>
<linearGradient id="er31"><stop offset="0.000" stop-color="#3d0a0d"/><stop offset="0.015" stop-color="#631015"/><stop offset="0.050" stop-color="#611014"/><stop offset="0.100" stop-color="#5b0f13"/><stop offset="0.150" stop-color="#4b0c10"/><stop offset="0.200" stop-color="#3a090c"/><stop offset="0.250" stop-color="#2d070a"/><stop offset="0.300" stop-color="#260608"/><stop offset="0.350" stop-color="#220507"/><stop offset="0.400" stop-color="#220507"/><stop offset="0.450" stop-color="#220507"/><stop offset="0.500" stop-color="#230608"/><stop offset="0.550" stop-color="#250608"/><stop offset="0.600" stop-color="#260608"/><stop offset="0.640" stop-color="#280609"/><stop offset="0.670" stop-color="#36090b"/><stop offset="0.700" stop-color="#410b0e"/><stop offset="0.750" stop-color="#4c0c10"/><stop offset="0.800" stop-color="#560e12"/><stop offset="0.850" stop-color="#5a0f13"/><stop offset="0.900" stop-color="#5d0f14"/><stop offset="0.950" stop-color="#611015"/><stop offset="1.000" stop-color="#651115"/></linearGradient>
<linearGradient id="er32"><stop offset="0.000" stop-color="#35090b"/><stop offset="0.015" stop-color="#5a0f13"/><stop offset="0.050" stop-color="#590f13"/><stop offset="0.100" stop-color="#540e12"/><stop offset="0.150" stop-color="#440b0e"/><stop offset="0.200" stop-color="#34080b"/><stop offset="0.250" stop-color="#280608"/><stop offset="0.300" stop-color="#220507"/><stop offset="0.350" stop-color="#1e0506"/><stop offset="0.400" stop-color="#1e0506"/><stop offset="0.450" stop-color="#1f0507"/><stop offset="0.500" stop-color="#210507"/><stop offset="0.550" stop-color="#220507"/><stop offset="0.600" stop-color="#230507"/><stop offset="0.640" stop-color="#240608"/><stop offset="0.670" stop-color="#31080a"/><stop offset="0.700" stop-color="#3c0a0d"/><stop offset="0.750" stop-color="#460b0f"/><stop offset="0.800" stop-color="#4f0d11"/><stop offset="0.850" stop-color="#520d11"/><stop offset="0.900" stop-color="#550e12"/><stop offset="0.950" stop-color="#580f13"/><stop offset="1.000" stop-color="#5b0f13"/></linearGradient>
<linearGradient id="er33"><stop offset="0.000" stop-color="#34080b"/><stop offset="0.015" stop-color="#590f13"/><stop offset="0.050" stop-color="#560e12"/><stop offset="0.100" stop-color="#520d11"/><stop offset="0.150" stop-color="#430b0e"/><stop offset="0.200" stop-color="#36090b"/><stop offset="0.250" stop-color="#2c0709"/><stop offset="0.300" stop-color="#280608"/><stop offset="0.350" stop-color="#260608"/><stop offset="0.400" stop-color="#280609"/><stop offset="0.450" stop-color="#2c0709"/><stop offset="0.500" stop-color="#30080a"/><stop offset="0.550" stop-color="#33080b"/><stop offset="0.600" stop-color="#35080b"/><stop offset="0.640" stop-color="#36090b"/><stop offset="0.670" stop-color="#420b0e"/><stop offset="0.700" stop-color="#4c0c10"/><stop offset="0.750" stop-color="#540e12"/><stop offset="0.800" stop-color="#5c0f13"/><stop offset="0.850" stop-color="#5e1014"/><stop offset="0.900" stop-color="#611014"/><stop offset="0.950" stop-color="#651115"/><stop offset="1.000" stop-color="#6a1116"/></linearGradient>
<linearGradient id="er34"><stop offset="0.000" stop-color="#400a0d"/><stop offset="0.015" stop-color="#651115"/><stop offset="0.050" stop-color="#621015"/><stop offset="0.100" stop-color="#5d0f14"/><stop offset="0.150" stop-color="#4f0d11"/><stop offset="0.200" stop-color="#420b0e"/><stop offset="0.250" stop-color="#38090c"/><stop offset="0.300" stop-color="#35090b"/><stop offset="0.350" stop-color="#36090b"/><stop offset="0.400" stop-color="#3c0a0d"/><stop offset="0.450" stop-color="#450b0f"/><stop offset="0.500" stop-color="#4f0d11"/><stop offset="0.550" stop-color="#560e12"/><stop offset="0.600" stop-color="#5a0f13"/><stop offset="0.640" stop-color="#5b0f13"/><stop offset="0.670" stop-color="#651115"/><stop offset="0.700" stop-color="#6c1217"/><stop offset="0.750" stop-color="#701318"/><stop offset="0.800" stop-color="#731318"/><stop offset="0.850" stop-color="#721318"/><stop offset="0.900" stop-color="#721318"/><stop offset="0.950" stop-color="#751319"/><stop offset="1.000" stop-color="#791419"/></linearGradient>
<linearGradient id="er35"><stop offset="0.000" stop-color="#540e12"/><stop offset="0.015" stop-color="#781419"/><stop offset="0.050" stop-color="#741318"/><stop offset="0.100" stop-color="#6d1217"/><stop offset="0.150" stop-color="#5b0f13"/><stop offset="0.200" stop-color="#4a0c10"/><stop offset="0.250" stop-color="#3e0a0d"/><stop offset="0.300" stop-color="#38090c"/><stop offset="0.350" stop-color="#37090c"/><stop offset="0.400" stop-color="#3b0a0d"/><stop offset="0.450" stop-color="#430b0e"/><stop offset="0.500" stop-color="#4c0d10"/><stop offset="0.550" stop-color="#530e11"/><stop offset="0.600" stop-color="#590f13"/><stop offset="0.640" stop-color="#5c0f13"/><stop offset="0.670" stop-color="#681116"/><stop offset="0.700" stop-color="#721318"/><stop offset="0.750" stop-color="#7a141a"/><stop offset="0.800" stop-color="#80151b"/><stop offset="0.850" stop-color="#82161b"/><stop offset="0.900" stop-color="#86161c"/><stop offset="0.950" stop-color="#8b171d"/><stop offset="1.000" stop-color="#91181f"/></linearGradient>
<linearGradient id="er36"><stop offset="0.000" stop-color="#6c1217"/><stop offset="0.015" stop-color="#8f181e"/><stop offset="0.050" stop-color="#88171d"/><stop offset="0.100" stop-color="#7d151a"/><stop offset="0.150" stop-color="#661116"/><stop offset="0.200" stop-color="#510d11"/><stop offset="0.250" stop-color="#400a0d"/><stop offset="0.300" stop-color="#36090b"/><stop offset="0.350" stop-color="#32080b"/><stop offset="0.400" stop-color="#33080b"/><stop offset="0.450" stop-color="#38090c"/><stop offset="0.500" stop-color="#3e0a0d"/><stop offset="0.550" stop-color="#420b0e"/><stop offset="0.600" stop-color="#4c0c10"/><stop offset="0.640" stop-color="#540e12"/><stop offset="0.670" stop-color="#651115"/><stop offset="0.700" stop-color="#731318"/><stop offset="0.750" stop-color="#83161c"/><stop offset="0.800" stop-color="#91181f"/><stop offset="0.850" stop-color="#991a20"/><stop offset="0.900" stop-color="#a11b22"/><stop offset="0.950" stop-color="#a91c24"/><stop offset="1.000" stop-color="#b11e25"/></linearGradient>
<linearGradient id="er37"><stop offset="0.000" stop-color="#570e12"/><stop offset="0.015" stop-color="#7a141a"/><stop offset="0.050" stop-color="#751319"/><stop offset="0.100" stop-color="#6b1217"/><stop offset="0.150" stop-color="#560e12"/><stop offset="0.200" stop-color="#430b0e"/><stop offset="0.250" stop-color="#34080b"/><stop offset="0.300" stop-color="#2c0709"/><stop offset="0.350" stop-color="#270608"/><stop offset="0.400" stop-color="#280609"/><stop offset="0.450" stop-color="#2b0709"/><stop offset="0.500" stop-color="#30080a"/><stop offset="0.550" stop-color="#33080b"/><stop offset="0.600" stop-color="#3a090c"/><stop offset="0.640" stop-color="#410b0e"/><stop offset="0.670" stop-color="#510d11"/><stop offset="0.700" stop-color="#5f1014"/><stop offset="0.750" stop-color="#6f1217"/><stop offset="0.800" stop-color="#7c151a"/><stop offset="0.850" stop-color="#84161c"/><stop offset="0.900" stop-color="#8a171d"/><stop offset="0.950" stop-color="#91181f"/><stop offset="1.000" stop-color="#981920"/></linearGradient>
<linearGradient id="er38"><stop offset="0.000" stop-color="#4c0c10"/><stop offset="0.015" stop-color="#701318"/><stop offset="0.050" stop-color="#6b1217"/><stop offset="0.100" stop-color="#621015"/><stop offset="0.150" stop-color="#4f0d11"/><stop offset="0.200" stop-color="#3d0a0d"/><stop offset="0.250" stop-color="#2e070a"/><stop offset="0.300" stop-color="#270608"/><stop offset="0.350" stop-color="#230607"/><stop offset="0.400" stop-color="#240608"/><stop offset="0.450" stop-color="#270608"/><stop offset="0.500" stop-color="#2b0709"/><stop offset="0.550" stop-color="#2e070a"/><stop offset="0.600" stop-color="#34080b"/><stop offset="0.640" stop-color="#3a090c"/><stop offset="0.670" stop-color="#4a0c10"/><stop offset="0.700" stop-color="#570e12"/><stop offset="0.750" stop-color="#661115"/><stop offset="0.800" stop-color="#731318"/><stop offset="0.850" stop-color="#79141a"/><stop offset="0.900" stop-color="#7f151b"/><stop offset="0.950" stop-color="#85161c"/><stop offset="1.000" stop-color="#8b171d"/></linearGradient>
<linearGradient id="er39"><stop offset="0.000" stop-color="#36090b"/><stop offset="0.015" stop-color="#5a0f13"/><stop offset="0.050" stop-color="#560e12"/><stop offset="0.100" stop-color="#500d11"/><stop offset="0.150" stop-color="#3f0a0d"/><stop offset="0.200" stop-color="#30080a"/><stop offset="0.250" stop-color="#240608"/><stop offset="0.300" stop-color="#1f0507"/><stop offset="0.350" stop-color="#1c0406"/><stop offset="0.400" stop-color="#1d0406"/><stop offset="0.450" stop-color="#1f0507"/><stop offset="0.500" stop-color="#220507"/><stop offset="0.550" stop-color="#250608"/><stop offset="0.600" stop-color="#280609"/><stop offset="0.640" stop-color="#2c0709"/><stop offset="0.670" stop-color="#3a090c"/><stop offset="0.700" stop-color="#460b0f"/><stop offset="0.750" stop-color="#520d11"/><stop offset="0.800" stop-color="#5c0f13"/><stop offset="0.850" stop-color="#601014"/><stop offset="0.900" stop-color="#651115"/><stop offset="0.950" stop-color="#691116"/><stop offset="1.000" stop-color="#6e1217"/></linearGradient>
<linearGradient id="er40"><stop offset="0.000" stop-color="#3b0a0d"/><stop offset="0.015" stop-color="#5f1014"/><stop offset="0.050" stop-color="#5c0f13"/><stop offset="0.100" stop-color="#540e12"/><stop offset="0.150" stop-color="#430b0e"/><stop offset="0.200" stop-color="#33080b"/><stop offset="0.250" stop-color="#260608"/><stop offset="0.300" stop-color="#200507"/><stop offset="0.350" stop-color="#1d0406"/><stop offset="0.400" stop-color="#1e0506"/><stop offset="0.450" stop-color="#210507"/><stop offset="0.500" stop-color="#240608"/><stop offset="0.550" stop-color="#270608"/><stop offset="0.600" stop-color="#2b0709"/><stop offset="0.640" stop-color="#2f080a"/><stop offset="0.670" stop-color="#3d0a0d"/><stop offset="0.700" stop-color="#4a0c10"/><stop offset="0.750" stop-color="#560e12"/><stop offset="0.800" stop-color="#611015"/><stop offset="0.850" stop-color="#661116"/><stop offset="0.900" stop-color="#6b1217"/><stop offset="0.950" stop-color="#701318"/><stop offset="1.000" stop-color="#751319"/></linearGradient>
<linearGradient id="er41"><stop offset="0.000" stop-color="#440b0e"/><stop offset="0.015" stop-color="#671116"/><stop offset="0.050" stop-color="#631015"/><stop offset="0.100" stop-color="#5b0f13"/><stop offset="0.150" stop-color="#480c0f"/><stop offset="0.200" stop-color="#37090c"/><stop offset="0.250" stop-color="#2a0709"/><stop offset="0.300" stop-color="#230507"/><stop offset="0.350" stop-color="#1f0507"/><stop offset="0.400" stop-color="#200507"/><stop offset="0.450" stop-color="#230607"/><stop offset="0.500" stop-color="#270608"/><stop offset="0.550" stop-color="#2a0709"/><stop offset="0.600" stop-color="#2f080a"/><stop offset="0.640" stop-color="#34080b"/><stop offset="0.670" stop-color="#430b0e"/><stop offset="0.700" stop-color="#500d11"/><stop offset="0.750" stop-color="#5d0f14"/><stop offset="0.800" stop-color="#691116"/><stop offset="0.850" stop-color="#6e1217"/><stop offset="0.900" stop-color="#741318"/><stop offset="0.950" stop-color="#79141a"/><stop offset="1.000" stop-color="#7f151b"/></linearGradient>
<linearGradient id="er42"><stop offset="0.000" stop-color="#460b0f"/><stop offset="0.015" stop-color="#6a1216"/><stop offset="0.050" stop-color="#661115"/><stop offset="0.100" stop-color="#5e1014"/><stop offset="0.150" stop-color="#4d0d10"/><stop offset="0.200" stop-color="#3d0a0d"/><stop offset="0.250" stop-color="#30080a"/><stop offset="0.300" stop-color="#2a0709"/><stop offset="0.350" stop-color="#260608"/><stop offset="0.400" stop-color="#280608"/><stop offset="0.450" stop-color="#2c0709"/><stop offset="0.500" stop-color="#2f080a"/><stop offset="0.550" stop-color="#31080a"/><stop offset="0.600" stop-color="#35090b"/><stop offset="0.640" stop-color="#3a090c"/><stop offset="0.670" stop-color="#490c0f"/><stop offset="0.700" stop-color="#570e12"/><stop offset="0.750" stop-color="#671116"/><stop offset="0.800" stop-color="#761419"/><stop offset="0.850" stop-color="#7f151b"/><stop offset="0.900" stop-color="#87161c"/><stop offset="0.950" stop-color="#8d171e"/><stop offset="1.000" stop-color="#91181e"/></linearGradient>
<linearGradient id="er43"><stop offset="0.000" stop-color="#450b0f"/><stop offset="0.015" stop-color="#691116"/><stop offset="0.050" stop-color="#651115"/><stop offset="0.100" stop-color="#5e1014"/><stop offset="0.150" stop-color="#4e0d10"/><stop offset="0.200" stop-color="#3e0a0d"/><stop offset="0.250" stop-color="#32080b"/><stop offset="0.300" stop-color="#2c0709"/><stop offset="0.350" stop-color="#290709"/><stop offset="0.400" stop-color="#2b0709"/><stop offset="0.450" stop-color="#2f070a"/><stop offset="0.500" stop-color="#32080b"/><stop offset="0.550" stop-color="#34080b"/><stop offset="0.600" stop-color="#37090c"/><stop offset="0.640" stop-color="#3b0a0d"/><stop offset="0.670" stop-color="#4b0c10"/><stop offset="0.700" stop-color="#590f13"/><stop offset="0.750" stop-color="#6a1216"/><stop offset="0.800" stop-color="#7a141a"/><stop offset="0.850" stop-color="#85161c"/><stop offset="0.900" stop-color="#8d181e"/><stop offset="0.950" stop-color="#93191f"/><stop offset="1.000" stop-color="#961920"/></linearGradient>
<linearGradient id="er44"><stop offset="0.000" stop-color="#400a0e"/><stop offset="0.015" stop-color="#641115"/><stop offset="0.050" stop-color="#611014"/><stop offset="0.100" stop-color="#5b0f13"/><stop offset="0.150" stop-color="#4b0c10"/><stop offset="0.200" stop-color="#3c0a0d"/><stop offset="0.250" stop-color="#31080a"/><stop offset="0.300" stop-color="#2b0709"/><stop offset="0.350" stop-color="#290609"/><stop offset="0.400" stop-color="#2a0709"/><stop offset="0.450" stop-color="#2e070a"/><stop offset="0.500" stop-color="#31080a"/><stop offset="0.550" stop-color="#32080b"/><stop offset="0.600" stop-color="#35090b"/><stop offset="0.640" stop-color="#39090c"/><stop offset="0.670" stop-color="#480c0f"/><stop offset="0.700" stop-color="#550e12"/><stop offset="0.750" stop-color="#661116"/><stop offset="0.800" stop-color="#761419"/><stop offset="0.850" stop-color="#80151b"/><stop offset="0.900" stop-color="#88171d"/><stop offset="0.950" stop-color="#8e181e"/><stop offset="1.000" stop-color="#91181e"/></linearGradient>
<linearGradient id="er45"><stop offset="0.000" stop-color="#400a0d"/><stop offset="0.015" stop-color="#651115"/><stop offset="0.050" stop-color="#631015"/><stop offset="0.100" stop-color="#5f1014"/><stop offset="0.150" stop-color="#4e0d11"/><stop offset="0.200" stop-color="#3d0a0d"/><stop offset="0.250" stop-color="#2f070a"/><stop offset="0.300" stop-color="#260608"/><stop offset="0.350" stop-color="#210507"/><stop offset="0.400" stop-color="#210507"/><stop offset="0.450" stop-color="#230507"/><stop offset="0.500" stop-color="#250608"/><stop offset="0.550" stop-color="#280609"/><stop offset="0.600" stop-color="#2d0709"/><stop offset="0.640" stop-color="#31080a"/><stop offset="0.670" stop-color="#400a0e"/><stop offset="0.700" stop-color="#4d0d10"/><stop offset="0.750" stop-color="#5b0f13"/><stop offset="0.800" stop-color="#661115"/><stop offset="0.850" stop-color="#6b1216"/><stop offset="0.900" stop-color="#701318"/><stop offset="0.950" stop-color="#761419"/><stop offset="1.000" stop-color="#7a141a"/></linearGradient>
<linearGradient id="er46"><stop offset="0.000" stop-color="#4f0d11"/><stop offset="0.015" stop-color="#741319"/><stop offset="0.050" stop-color="#731318"/><stop offset="0.100" stop-color="#6f1217"/><stop offset="0.150" stop-color="#5d0f14"/><stop offset="0.200" stop-color="#4a0c10"/><stop offset="0.250" stop-color="#39090c"/><stop offset="0.300" stop-color="#2e070a"/><stop offset="0.350" stop-color="#280608"/><stop offset="0.400" stop-color="#270608"/><stop offset="0.450" stop-color="#280609"/><stop offset="0.500" stop-color="#2b0709"/><stop offset="0.550" stop-color="#2f070a"/><stop offset="0.600" stop-color="#34080b"/><stop offset="0.640" stop-color="#3b090c"/><stop offset="0.670" stop-color="#4b0c10"/><stop offset="0.700" stop-color="#590f13"/><stop offset="0.750" stop-color="#681116"/><stop offset="0.800" stop-color="#741319"/><stop offset="0.850" stop-color="#7c151a"/><stop offset="0.900" stop-color="#88171d"/><stop offset="0.950" stop-color="#991920"/><stop offset="1.000" stop-color="#a31b22"/></linearGradient>
<linearGradient id="er47"><stop offset="0.000" stop-color="#4e0d10"/><stop offset="0.015" stop-color="#731318"/><stop offset="0.050" stop-color="#721318"/><stop offset="0.100" stop-color="#6e1217"/><stop offset="0.150" stop-color="#5d0f14"/><stop offset="0.200" stop-color="#4a0c10"/><stop offset="0.250" stop-color="#39090c"/><stop offset="0.300" stop-color="#2f080a"/><stop offset="0.350" stop-color="#290609"/><stop offset="0.400" stop-color="#270608"/><stop offset="0.450" stop-color="#290609"/><stop offset="0.500" stop-color="#2b0709"/><stop offset="0.550" stop-color="#2e070a"/><stop offset="0.600" stop-color="#34080b"/><stop offset="0.640" stop-color="#3a090c"/><stop offset="0.670" stop-color="#4a0c10"/><stop offset="0.700" stop-color="#580e12"/><stop offset="0.750" stop-color="#671116"/><stop offset="0.800" stop-color="#741318"/><stop offset="0.850" stop-color="#7f151b"/><stop offset="0.900" stop-color="#95191f"/><stop offset="0.950" stop-color="#b41e26"/><stop offset="1.000" stop-color="#c6212a"/></linearGradient>
<linearGradient id="er48"><stop offset="0.000" stop-color="#550e12"/><stop offset="0.015" stop-color="#79141a"/><stop offset="0.050" stop-color="#751319"/><stop offset="0.100" stop-color="#6e1217"/><stop offset="0.150" stop-color="#5c0f13"/><stop offset="0.200" stop-color="#4a0c10"/><stop offset="0.250" stop-color="#3b0a0c"/><stop offset="0.300" stop-color="#32080b"/><stop offset="0.350" stop-color="#2c0709"/><stop offset="0.400" stop-color="#2c0709"/><stop offset="0.450" stop-color="#2d070a"/><stop offset="0.500" stop-color="#30080a"/><stop offset="0.550" stop-color="#33080b"/><stop offset="0.600" stop-color="#39090c"/><stop offset="0.640" stop-color="#3f0a0d"/><stop offset="0.670" stop-color="#4e0d11"/><stop offset="0.700" stop-color="#5c0f13"/><stop offset="0.750" stop-color="#6b1217"/><stop offset="0.800" stop-color="#791419"/><stop offset="0.850" stop-color="#86161c"/><stop offset="0.900" stop-color="#9e1a21"/><stop offset="0.950" stop-color="#c12029"/><stop offset="1.000" stop-color="#d7242d"/></linearGradient>
<linearGradient id="er49"><stop offset="0.000" stop-color="#4a0c10"/><stop offset="0.015" stop-color="#6f1217"/><stop offset="0.050" stop-color="#6c1217"/><stop offset="0.100" stop-color="#671116"/><stop offset="0.150" stop-color="#570e12"/><stop offset="0.200" stop-color="#470c0f"/><stop offset="0.250" stop-color="#39090c"/><stop offset="0.300" stop-color="#31080a"/><stop offset="0.350" stop-color="#2b0709"/><stop offset="0.400" stop-color="#2a0709"/><stop offset="0.450" stop-color="#2b0709"/><stop offset="0.500" stop-color="#2d0709"/><stop offset="0.550" stop-color="#2e070a"/><stop offset="0.600" stop-color="#33080b"/><stop offset="0.640" stop-color="#38090c"/><stop offset="0.670" stop-color="#460c0f"/><stop offset="0.700" stop-color="#530e12"/><stop offset="0.750" stop-color="#611014"/><stop offset="0.800" stop-color="#6d1217"/><stop offset="0.850" stop-color="#761419"/><stop offset="0.900" stop-color="#84161c"/><stop offset="0.950" stop-color="#961920"/><stop offset="1.000" stop-color="#a31b22"/></linearGradient>
<linearGradient id="er50"><stop offset="0.000" stop-color="#510d11"/><stop offset="0.015" stop-color="#761419"/><stop offset="0.050" stop-color="#731318"/><stop offset="0.100" stop-color="#6e1217"/><stop offset="0.150" stop-color="#5d0f14"/><stop offset="0.200" stop-color="#4d0d10"/><stop offset="0.250" stop-color="#3e0a0d"/><stop offset="0.300" stop-color="#35090b"/><stop offset="0.350" stop-color="#2f080a"/><stop offset="0.400" stop-color="#2e070a"/><stop offset="0.450" stop-color="#2f070a"/><stop offset="0.500" stop-color="#30080a"/><stop offset="0.550" stop-color="#32080b"/><stop offset="0.600" stop-color="#37090c"/><stop offset="0.640" stop-color="#3c0a0d"/><stop offset="0.670" stop-color="#4b0c10"/><stop offset="0.700" stop-color="#590f13"/><stop offset="0.750" stop-color="#671116"/><stop offset="0.800" stop-color="#731318"/><stop offset="0.850" stop-color="#7a141a"/><stop offset="0.900" stop-color="#82161b"/><stop offset="0.950" stop-color="#8b171d"/><stop offset="1.000" stop-color="#93191f"/></linearGradient>
<linearGradient id="er51"><stop offset="0.000" stop-color="#480c0f"/><stop offset="0.015" stop-color="#6d1217"/><stop offset="0.050" stop-color="#691116"/><stop offset="0.100" stop-color="#621015"/><stop offset="0.150" stop-color="#510d11"/><stop offset="0.200" stop-color="#400b0e"/><stop offset="0.250" stop-color="#33080b"/><stop offset="0.300" stop-color="#2d0709"/><stop offset="0.350" stop-color="#290609"/><stop offset="0.400" stop-color="#290609"/><stop offset="0.450" stop-color="#2a0709"/><stop offset="0.500" stop-color="#2d0709"/><stop offset="0.550" stop-color="#2e070a"/><stop offset="0.600" stop-color="#33080b"/><stop offset="0.640" stop-color="#37090c"/><stop offset="0.670" stop-color="#460b0f"/><stop offset="0.700" stop-color="#520e11"/><stop offset="0.750" stop-color="#601014"/><stop offset="0.800" stop-color="#6b1217"/><stop offset="0.850" stop-color="#711318"/><stop offset="0.900" stop-color="#761419"/><stop offset="0.950" stop-color="#7d151a"/><stop offset="1.000" stop-color="#83161c"/></linearGradient>
<linearGradient id="er52"><stop offset="0.000" stop-color="#4f0d11"/><stop offset="0.015" stop-color="#731318"/><stop offset="0.050" stop-color="#701318"/><stop offset="0.100" stop-color="#691116"/><stop offset="0.150" stop-color="#570e12"/><stop offset="0.200" stop-color="#460b0f"/><stop offset="0.250" stop-color="#38090c"/><stop offset="0.300" stop-color="#31080a"/><stop offset="0.350" stop-color="#2d070a"/><stop offset="0.400" stop-color="#2d0709"/><stop offset="0.450" stop-color="#2e070a"/><stop offset="0.500" stop-color="#30080a"/><stop offset="0.550" stop-color="#32080b"/><stop offset="0.600" stop-color="#36090c"/><stop offset="0.640" stop-color="#3b0a0d"/><stop offset="0.670" stop-color="#4a0c10"/><stop offset="0.700" stop-color="#570e12"/><stop offset="0.750" stop-color="#651115"/><stop offset="0.800" stop-color="#701318"/><stop offset="0.850" stop-color="#761419"/><stop offset="0.900" stop-color="#7c151a"/><stop offset="0.950" stop-color="#83161c"/><stop offset="1.000" stop-color="#8a171d"/></linearGradient>
<linearGradient id="er53"><stop offset="0.000" stop-color="#460b0f"/><stop offset="0.015" stop-color="#6b1217"/><stop offset="0.050" stop-color="#681116"/><stop offset="0.100" stop-color="#621015"/><stop offset="0.150" stop-color="#510d11"/><stop offset="0.200" stop-color="#420b0e"/><stop offset="0.250" stop-color="#35090b"/><stop offset="0.300" stop-color="#2f070a"/><stop offset="0.350" stop-color="#2b0709"/><stop offset="0.400" stop-color="#2a0709"/><stop offset="0.450" stop-color="#2b0709"/><stop offset="0.500" stop-color="#2d070a"/><stop offset="0.550" stop-color="#2e070a"/><stop offset="0.600" stop-color="#32080b"/><stop offset="0.640" stop-color="#36090b"/><stop offset="0.670" stop-color="#440b0e"/><stop offset="0.700" stop-color="#510d11"/><stop offset="0.750" stop-color="#5d0f14"/><stop offset="0.800" stop-color="#681116"/><stop offset="0.850" stop-color="#6e1217"/><stop offset="0.900" stop-color="#731318"/><stop offset="0.950" stop-color="#791419"/><stop offset="1.000" stop-color="#7f151b"/></linearGradient>
<linearGradient id="er54"><stop offset="0.000" stop-color="#4e0d10"/><stop offset="0.015" stop-color="#721318"/><stop offset="0.050" stop-color="#6e1217"/><stop offset="0.100" stop-color="#661116"/><stop offset="0.150" stop-color="#540e12"/><stop offset="0.200" stop-color="#430b0e"/><stop offset="0.250" stop-color="#36090b"/><stop offset="0.300" stop-color="#30080a"/><stop offset="0.350" stop-color="#2c0709"/><stop offset="0.400" stop-color="#2d0709"/><stop offset="0.450" stop-color="#2f070a"/><stop offset="0.500" stop-color="#31080a"/><stop offset="0.550" stop-color="#33080b"/><stop offset="0.600" stop-color="#38090c"/><stop offset="0.640" stop-color="#3d0a0d"/><stop offset="0.670" stop-color="#4c0d10"/><stop offset="0.700" stop-color="#590f13"/><stop offset="0.750" stop-color="#681116"/><stop offset="0.800" stop-color="#741318"/><stop offset="0.850" stop-color="#7a141a"/><stop offset="0.900" stop-color="#80151b"/><stop offset="0.950" stop-color="#87161c"/><stop offset="1.000" stop-color="#8d181e"/></linearGradient>
<linearGradient id="er55"><stop offset="0.000" stop-color="#4b0c10"/><stop offset="0.015" stop-color="#6f1217"/><stop offset="0.050" stop-color="#6a1216"/><stop offset="0.100" stop-color="#631015"/><stop offset="0.150" stop-color="#510d11"/><stop offset="0.200" stop-color="#400a0e"/><stop offset="0.250" stop-color="#34080b"/><stop offset="0.300" stop-color="#2e070a"/><stop offset="0.350" stop-color="#2b0709"/><stop offset="0.400" stop-color="#2b0709"/><stop offset="0.450" stop-color="#2d070a"/><stop offset="0.500" stop-color="#30080a"/><stop offset="0.550" stop-color="#32080a"/><stop offset="0.600" stop-color="#37090c"/><stop offset="0.640" stop-color="#3c0a0d"/><stop offset="0.670" stop-color="#4b0c10"/><stop offset="0.700" stop-color="#580e13"/><stop offset="0.750" stop-color="#661115"/><stop offset="0.800" stop-color="#721318"/><stop offset="0.850" stop-color="#781419"/><stop offset="0.900" stop-color="#7e151b"/><stop offset="0.950" stop-color="#84161c"/><stop offset="1.000" stop-color="#8b171d"/></linearGradient>
<linearGradient id="er56"><stop offset="0.000" stop-color="#550e12"/><stop offset="0.015" stop-color="#79141a"/><stop offset="0.050" stop-color="#741318"/><stop offset="0.100" stop-color="#6c1217"/><stop offset="0.150" stop-color="#590f13"/><stop offset="0.200" stop-color="#480c0f"/><stop offset="0.250" stop-color="#3b0a0c"/><stop offset="0.300" stop-color="#35090b"/><stop offset="0.350" stop-color="#31080a"/><stop offset="0.400" stop-color="#31080a"/><stop offset="0.450" stop-color="#33080b"/><stop offset="0.500" stop-color="#35090b"/><stop offset="0.550" stop-color="#36090c"/><stop offset="0.600" stop-color="#3c0a0d"/><stop offset="0.640" stop-color="#420b0e"/><stop offset="0.670" stop-color="#520d11"/><stop offset="0.700" stop-color="#5f1014"/><stop offset="0.750" stop-color="#6e1217"/><stop offset="0.800" stop-color="#7b141a"/><stop offset="0.850" stop-color="#82161b"/><stop offset="0.900" stop-color="#88171d"/><stop offset="0.950" stop-color="#8f181e"/><stop offset="1.000" stop-color="#971920"/></linearGradient>
<linearGradient id="er57"><stop offset="0.000" stop-color="#4d0d10"/><stop offset="0.015" stop-color="#721318"/><stop offset="0.050" stop-color="#6e1217"/><stop offset="0.100" stop-color="#681116"/><stop offset="0.150" stop-color="#570e12"/><stop offset="0.200" stop-color="#470c0f"/><stop offset="0.250" stop-color="#3a090c"/><stop offset="0.300" stop-color="#34080b"/><stop offset="0.350" stop-color="#30080a"/><stop offset="0.400" stop-color="#30080a"/><stop offset="0.450" stop-color="#31080a"/><stop offset="0.500" stop-color="#32080b"/><stop offset="0.550" stop-color="#33080b"/><stop offset="0.600" stop-color="#38090c"/><stop offset="0.640" stop-color="#3d0a0d"/><stop offset="0.670" stop-color="#4c0c10"/><stop offset="0.700" stop-color="#590f13"/><stop offset="0.750" stop-color="#671116"/><stop offset="0.800" stop-color="#731318"/><stop offset="0.850" stop-color="#791419"/><stop offset="0.900" stop-color="#7f151b"/><stop offset="0.950" stop-color="#86161c"/><stop offset="1.000" stop-color="#8c171d"/></linearGradient>
<linearGradient id="er58"><stop offset="0.000" stop-color="#590f13"/><stop offset="0.015" stop-color="#7f151b"/><stop offset="0.050" stop-color="#7d151a"/><stop offset="0.100" stop-color="#791419"/><stop offset="0.150" stop-color="#681116"/><stop offset="0.200" stop-color="#560e12"/><stop offset="0.250" stop-color="#470c0f"/><stop offset="0.300" stop-color="#3e0a0d"/><stop offset="0.350" stop-color="#37090c"/><stop offset="0.400" stop-color="#34080b"/><stop offset="0.450" stop-color="#33080b"/><stop offset="0.500" stop-color="#33080b"/><stop offset="0.550" stop-color="#32080b"/><stop offset="0.600" stop-color="#35090b"/><stop offset="0.640" stop-color="#39090c"/><stop offset="0.670" stop-color="#480c0f"/><stop offset="0.700" stop-color="#540e12"/><stop offset="0.750" stop-color="#611015"/><stop offset="0.800" stop-color="#6d1217"/><stop offset="0.850" stop-color="#731318"/><stop offset="0.900" stop-color="#781419"/><stop offset="0.950" stop-color="#7e151b"/><stop offset="1.000" stop-color="#84161c"/></linearGradient>
<linearGradient id="er59"><stop offset="0.000" stop-color="#510d11"/><stop offset="0.015" stop-color="#771419"/><stop offset="0.050" stop-color="#761419"/><stop offset="0.100" stop-color="#731318"/><stop offset="0.150" stop-color="#621015"/><stop offset="0.200" stop-color="#520d11"/><stop offset="0.250" stop-color="#430b0e"/><stop offset="0.300" stop-color="#3b090c"/><stop offset="0.350" stop-color="#34080b"/><stop offset="0.400" stop-color="#31080a"/><stop offset="0.450" stop-color="#30080a"/><stop offset="0.500" stop-color="#2f080a"/><stop offset="0.550" stop-color="#2f080a"/><stop offset="0.600" stop-color="#31080a"/><stop offset="0.640" stop-color="#34080b"/><stop offset="0.670" stop-color="#430b0e"/><stop offset="0.700" stop-color="#4f0d11"/><stop offset="0.750" stop-color="#5b0f13"/><stop offset="0.800" stop-color="#661115"/><stop offset="0.850" stop-color="#6b1217"/><stop offset="0.900" stop-color="#701318"/><stop offset="0.950" stop-color="#751319"/><stop offset="1.000" stop-color="#7b141a"/></linearGradient>
<linearGradient id="er60"><stop offset="0.000" stop-color="#500d11"/><stop offset="0.015" stop-color="#761419"/><stop offset="0.050" stop-color="#741318"/><stop offset="0.100" stop-color="#701318"/><stop offset="0.150" stop-color="#611015"/><stop offset="0.200" stop-color="#530e11"/><stop offset="0.250" stop-color="#470c0f"/><stop offset="0.300" stop-color="#410b0e"/><stop offset="0.350" stop-color="#3c0a0d"/><stop offset="0.400" stop-color="#3a090c"/><stop offset="0.450" stop-color="#3a090c"/><stop offset="0.500" stop-color="#39090c"/><stop offset="0.550" stop-color="#3a090c"/><stop offset="0.600" stop-color="#3e0a0d"/><stop offset="0.640" stop-color="#440b0e"/><stop offset="0.670" stop-color="#540e12"/><stop offset="0.700" stop-color="#621015"/><stop offset="0.750" stop-color="#721318"/><stop offset="0.800" stop-color="#80151b"/><stop offset="0.850" stop-color="#87171c"/><stop offset="0.900" stop-color="#8d181e"/><stop offset="0.950" stop-color="#92181f"/><stop offset="1.000" stop-color="#971920"/></linearGradient>
<linearGradient id="er61"><stop offset="0.000" stop-color="#550e12"/><stop offset="0.015" stop-color="#7b141a"/><stop offset="0.050" stop-color="#781419"/><stop offset="0.100" stop-color="#751319"/><stop offset="0.150" stop-color="#661116"/><stop offset="0.200" stop-color="#580e13"/><stop offset="0.250" stop-color="#4c0c10"/><stop offset="0.300" stop-color="#460b0f"/><stop offset="0.350" stop-color="#400b0e"/><stop offset="0.400" stop-color="#3f0a0d"/><stop offset="0.450" stop-color="#3e0a0d"/><stop offset="0.500" stop-color="#3d0a0d"/><stop offset="0.550" stop-color="#3e0a0d"/><stop offset="0.600" stop-color="#430b0e"/><stop offset="0.640" stop-color="#490c10"/><stop offset="0.670" stop-color="#5a0f13"/><stop offset="0.700" stop-color="#691116"/><stop offset="0.750" stop-color="#7b141a"/><stop offset="0.800" stop-color="#89171d"/><stop offset="0.850" stop-color="#91181f"/><stop offset="0.900" stop-color="#981920"/><stop offset="0.950" stop-color="#9d1a21"/><stop offset="1.000" stop-color="#a11b22"/></linearGradient>
<linearGradient id="er62"><stop offset="0.000" stop-color="#5d0f14"/><stop offset="0.015" stop-color="#83161c"/><stop offset="0.050" stop-color="#81151b"/><stop offset="0.100" stop-color="#7d151a"/><stop offset="0.150" stop-color="#6e1217"/><stop offset="0.200" stop-color="#5f1014"/><stop offset="0.250" stop-color="#530e11"/><stop offset="0.300" stop-color="#4c0c10"/><stop offset="0.350" stop-color="#460c0f"/><stop offset="0.400" stop-color="#440b0e"/><stop offset="0.450" stop-color="#430b0e"/><stop offset="0.500" stop-color="#420b0e"/><stop offset="0.550" stop-color="#420b0e"/><stop offset="0.600" stop-color="#480c0f"/><stop offset="0.640" stop-color="#4f0d11"/><stop offset="0.670" stop-color="#601014"/><stop offset="0.700" stop-color="#6f1217"/><stop offset="0.750" stop-color="#81151b"/><stop offset="0.800" stop-color="#91181e"/><stop offset="0.850" stop-color="#991a20"/><stop offset="0.900" stop-color="#a01b22"/><stop offset="0.950" stop-color="#a61c23"/><stop offset="1.000" stop-color="#aa1c24"/></linearGradient>
<linearGradient id="er63"><stop offset="0.000" stop-color="#500d11"/><stop offset="0.015" stop-color="#761419"/><stop offset="0.050" stop-color="#741318"/><stop offset="0.100" stop-color="#711318"/><stop offset="0.150" stop-color="#631015"/><stop offset="0.200" stop-color="#550e12"/><stop offset="0.250" stop-color="#490c10"/><stop offset="0.300" stop-color="#440b0e"/><stop offset="0.350" stop-color="#3e0a0d"/><stop offset="0.400" stop-color="#3c0a0d"/><stop offset="0.450" stop-color="#3b0a0c"/><stop offset="0.500" stop-color="#3a090c"/><stop offset="0.550" stop-color="#3a090c"/><stop offset="0.600" stop-color="#3e0a0d"/><stop offset="0.640" stop-color="#430b0e"/><stop offset="0.670" stop-color="#540e12"/><stop offset="0.700" stop-color="#621015"/><stop offset="0.750" stop-color="#711318"/><stop offset="0.800" stop-color="#7f151b"/><stop offset="0.850" stop-color="#86161c"/><stop offset="0.900" stop-color="#8c171d"/><stop offset="0.950" stop-color="#91181f"/><stop offset="1.000" stop-color="#95191f"/></linearGradient>
<linearGradient id="er64"><stop offset="0.000" stop-color="#510d11"/><stop offset="0.015" stop-color="#771419"/><stop offset="0.050" stop-color="#751319"/><stop offset="0.100" stop-color="#721318"/><stop offset="0.150" stop-color="#641015"/><stop offset="0.200" stop-color="#560e12"/><stop offset="0.250" stop-color="#490c10"/><stop offset="0.300" stop-color="#430b0e"/><stop offset="0.350" stop-color="#3e0a0d"/><stop offset="0.400" stop-color="#3b0a0d"/><stop offset="0.450" stop-color="#39090c"/><stop offset="0.500" stop-color="#38090c"/><stop offset="0.550" stop-color="#37090c"/><stop offset="0.600" stop-color="#3a090c"/><stop offset="0.640" stop-color="#3e0a0d"/><stop offset="0.670" stop-color="#4d0d10"/><stop offset="0.700" stop-color="#5a0f13"/><stop offset="0.750" stop-color="#671116"/><stop offset="0.800" stop-color="#731318"/><stop offset="0.850" stop-color="#79141a"/><stop offset="0.900" stop-color="#7f151b"/><stop offset="0.950" stop-color="#86161c"/><stop offset="1.000" stop-color="#8c171d"/></linearGradient>
<linearGradient id="er65"><stop offset="0.000" stop-color="#4e0d10"/><stop offset="0.015" stop-color="#741318"/><stop offset="0.050" stop-color="#721318"/><stop offset="0.100" stop-color="#701318"/><stop offset="0.150" stop-color="#621015"/><stop offset="0.200" stop-color="#540e12"/><stop offset="0.250" stop-color="#480c0f"/><stop offset="0.300" stop-color="#420b0e"/><stop offset="0.350" stop-color="#3d0a0d"/><stop offset="0.400" stop-color="#3a090c"/><stop offset="0.450" stop-color="#38090c"/><stop offset="0.500" stop-color="#37090c"/><stop offset="0.550" stop-color="#35090b"/><stop offset="0.600" stop-color="#38090c"/><stop offset="0.640" stop-color="#3c0a0d"/><stop offset="0.670" stop-color="#4b0c10"/><stop offset="0.700" stop-color="#580e12"/><stop offset="0.750" stop-color="#651115"/><stop offset="0.800" stop-color="#701318"/><stop offset="0.850" stop-color="#761419"/><stop offset="0.900" stop-color="#7c151a"/><stop offset="0.950" stop-color="#82161b"/><stop offset="1.000" stop-color="#89171d"/></linearGradient>
<linearGradient id="er66"><stop offset="0.000" stop-color="#4d0d10"/><stop offset="0.015" stop-color="#741318"/><stop offset="0.050" stop-color="#721318"/><stop offset="0.100" stop-color="#6f1217"/><stop offset="0.150" stop-color="#621015"/><stop offset="0.200" stop-color="#540e12"/><stop offset="0.250" stop-color="#480c0f"/><stop offset="0.300" stop-color="#420b0e"/><stop offset="0.350" stop-color="#3d0a0d"/><stop offset="0.400" stop-color="#3a090c"/><stop offset="0.450" stop-color="#38090c"/><stop offset="0.500" stop-color="#36090c"/><stop offset="0.550" stop-color="#35090b"/><stop offset="0.600" stop-color="#38090c"/><stop offset="0.640" stop-color="#3c0a0d"/><stop offset="0.670" stop-color="#4a0c10"/><stop offset="0.700" stop-color="#570e12"/><stop offset="0.750" stop-color="#641115"/><stop offset="0.800" stop-color="#701318"/><stop offset="0.850" stop-color="#761419"/><stop offset="0.900" stop-color="#7b151a"/><stop offset="0.950" stop-color="#82161b"/><stop offset="1.000" stop-color="#88171d"/></linearGradient>
<linearGradient id="er67"><stop offset="0.000" stop-color="#480c0f"/><stop offset="0.015" stop-color="#6f1217"/><stop offset="0.050" stop-color="#6d1217"/><stop offset="0.100" stop-color="#6b1217"/><stop offset="0.150" stop-color="#5e0f14"/><stop offset="0.200" stop-color="#510d11"/><stop offset="0.250" stop-color="#450b0f"/><stop offset="0.300" stop-color="#3f0a0d"/><stop offset="0.350" stop-color="#3a090c"/><stop offset="0.400" stop-color="#38090c"/><stop offset="0.450" stop-color="#35090b"/><stop offset="0.500" stop-color="#34080b"/><stop offset="0.550" stop-color="#33080b"/><stop offset="0.600" stop-color="#35090b"/><stop offset="0.640" stop-color="#38090c"/><stop offset="0.670" stop-color="#470c0f"/><stop offset="0.700" stop-color="#530e12"/><stop offset="0.750" stop-color="#601014"/><stop offset="0.800" stop-color="#6b1217"/><stop offset="0.850" stop-color="#711318"/><stop offset="0.900" stop-color="#761419"/><stop offset="0.950" stop-color="#7c151a"/><stop offset="1.000" stop-color="#82161b"/></linearGradient>
<linearGradient id="er68"><stop offset="0.000" stop-color="#410b0e"/><stop offset="0.015" stop-color="#671116"/><stop offset="0.050" stop-color="#661116"/><stop offset="0.100" stop-color="#641115"/><stop offset="0.150" stop-color="#580e12"/><stop offset="0.200" stop-color="#4b0c10"/><stop offset="0.250" stop-color="#400a0d"/><stop offset="0.300" stop-color="#3a090c"/><stop offset="0.350" stop-color="#35090b"/><stop offset="0.400" stop-color="#33080b"/><stop offset="0.450" stop-color="#31080a"/><stop offset="0.500" stop-color="#30080a"/><stop offset="0.550" stop-color="#2f070a"/><stop offset="0.600" stop-color="#30080a"/><stop offset="0.640" stop-color="#33080b"/><stop offset="0.670" stop-color="#410b0e"/><stop offset="0.700" stop-color="#4d0d10"/><stop offset="0.750" stop-color="#5a0f13"/><stop offset="0.800" stop-color="#641115"/><stop offset="0.850" stop-color="#691116"/><stop offset="0.900" stop-color="#6e1217"/><stop offset="0.950" stop-color="#731318"/><stop offset="1.000" stop-color="#781419"/></linearGradient>
<linearGradient id="er69"><stop offset="0.000" stop-color="#35090b"/><stop offset="0.015" stop-color="#5c0f13"/><stop offset="0.050" stop-color="#5b0f13"/><stop offset="0.100" stop-color="#5a0f13"/><stop offset="0.150" stop-color="#4e0d11"/><stop offset="0.200" stop-color="#420b0e"/><stop offset="0.250" stop-color="#38090c"/><stop offset="0.300" stop-color="#33080b"/><stop offset="0.350" stop-color="#2e070a"/><stop offset="0.400" stop-color="#2d0709"/><stop offset="0.450" stop-color="#2b0709"/><stop offset="0.500" stop-color="#2a0709"/><stop offset="0.550" stop-color="#290709"/><stop offset="0.600" stop-color="#2a0709"/><stop offset="0.640" stop-color="#2c0709"/><stop offset="0.670" stop-color="#3a090c"/><stop offset="0.700" stop-color="#450b0f"/><stop offset="0.750" stop-color="#510d11"/><stop offset="0.800" stop-color="#5a0f13"/><stop offset="0.850" stop-color="#5f1014"/><stop offset="0.900" stop-color="#621015"/><stop offset="0.950" stop-color="#671116"/><stop offset="1.000" stop-color="#6b1217"/></linearGradient>
<linearGradient id="er70"><stop offset="0.000" stop-color="#35080b"/><stop offset="0.015" stop-color="#5c0f13"/><stop offset="0.050" stop-color="#5d0f14"/><stop offset="0.100" stop-color="#5e0f14"/><stop offset="0.150" stop-color="#540e12"/><stop offset="0.200" stop-color="#4a0c10"/><stop offset="0.250" stop-color="#400a0e"/><stop offset="0.300" stop-color="#3b0a0d"/><stop offset="0.350" stop-color="#36090b"/><stop offset="0.400" stop-color="#32080b"/><stop offset="0.450" stop-color="#2f070a"/><stop offset="0.500" stop-color="#2c0709"/><stop offset="0.550" stop-color="#2b0709"/><stop offset="0.600" stop-color="#2e070a"/><stop offset="0.640" stop-color="#33080b"/><stop offset="0.670" stop-color="#430b0e"/><stop offset="0.700" stop-color="#510d11"/><stop offset="0.750" stop-color="#5d0f14"/><stop offset="0.800" stop-color="#641115"/><stop offset="0.850" stop-color="#631015"/><stop offset="0.900" stop-color="#621015"/><stop offset="0.950" stop-color="#641115"/><stop offset="1.000" stop-color="#681116"/></linearGradient>
<linearGradient id="er71"><stop offset="0.000" stop-color="#420b0e"/><stop offset="0.015" stop-color="#691116"/><stop offset="0.050" stop-color="#6a1216"/><stop offset="0.100" stop-color="#6b1217"/><stop offset="0.150" stop-color="#621015"/><stop offset="0.200" stop-color="#580f13"/><stop offset="0.250" stop-color="#4e0d11"/><stop offset="0.300" stop-color="#490c0f"/><stop offset="0.350" stop-color="#420b0e"/><stop offset="0.400" stop-color="#3c0a0d"/><stop offset="0.450" stop-color="#38090c"/><stop offset="0.500" stop-color="#34080b"/><stop offset="0.550" stop-color="#32080b"/><stop offset="0.600" stop-color="#37090c"/><stop offset="0.640" stop-color="#3e0a0d"/><stop offset="0.670" stop-color="#500d11"/><stop offset="0.700" stop-color="#601014"/><stop offset="0.750" stop-color="#6e1217"/><stop offset="0.800" stop-color="#741318"/><stop offset="0.850" stop-color="#711318"/><stop offset="0.900" stop-color="#701318"/><stop offset="0.950" stop-color="#721318"/><stop offset="1.000" stop-color="#761419"/></linearGradient>
<linearGradient id="er72"><stop offset="0.000" stop-color="#560e12"/><stop offset="0.015" stop-color="#7d151a"/><stop offset="0.050" stop-color="#7d151a"/><stop offset="0.100" stop-color="#7d151a"/><stop offset="0.150" stop-color="#731318"/><stop offset="0.200" stop-color="#681116"/><stop offset="0.250" stop-color="#5d0f14"/><stop offset="0.300" stop-color="#570e12"/><stop offset="0.350" stop-color="#4e0d11"/><stop offset="0.400" stop-color="#480c0f"/><stop offset="0.450" stop-color="#420b0e"/><stop offset="0.500" stop-color="#3d0a0d"/><stop offset="0.550" stop-color="#3b0a0d"/><stop offset="0.600" stop-color="#410b0e"/><stop offset="0.640" stop-color="#4a0c10"/><stop offset="0.670" stop-color="#5d0f14"/><stop offset="0.700" stop-color="#6d1217"/><stop offset="0.750" stop-color="#7d151a"/><stop offset="0.800" stop-color="#85161c"/><stop offset="0.850" stop-color="#84161c"/><stop offset="0.900" stop-color="#84161c"/><stop offset="0.950" stop-color="#87171d"/><stop offset="1.000" stop-color="#8d171e"/></linearGradient>
<linearGradient id="er73"><stop offset="0.000" stop-color="#631015"/><stop offset="0.015" stop-color="#89171d"/><stop offset="0.050" stop-color="#87171d"/><stop offset="0.100" stop-color="#84161c"/><stop offset="0.150" stop-color="#761419"/><stop offset="0.200" stop-color="#681116"/><stop offset="0.250" stop-color="#5b0f13"/><stop offset="0.300" stop-color="#540e12"/><stop offset="0.350" stop-color="#4c0c10"/><stop offset="0.400" stop-color="#480c0f"/><stop offset="0.450" stop-color="#440b0e"/><stop offset="0.500" stop-color="#420b0e"/><stop offset="0.550" stop-color="#420b0e"/><stop offset="0.600" stop-color="#490c10"/><stop offset="0.640" stop-color="#520e11"/><stop offset="0.670" stop-color="#651115"/><stop offset="0.700" stop-color="#751319"/><stop offset="0.750" stop-color="#86161c"/><stop offset="0.800" stop-color="#93191f"/><stop offset="0.850" stop-color="#971920"/><stop offset="0.900" stop-color="#9a1a20"/><stop offset="0.950" stop-color="#9e1a21"/><stop offset="1.000" stop-color="#a31b22"/></linearGradient>
<linearGradient id="er74"><stop offset="0.000" stop-color="#651115"/><stop offset="0.015" stop-color="#8b171d"/><stop offset="0.050" stop-color="#89171d"/><stop offset="0.100" stop-color="#86161c"/><stop offset="0.150" stop-color="#781419"/><stop offset="0.200" stop-color="#6a1216"/><stop offset="0.250" stop-color="#5d0f14"/><stop offset="0.300" stop-color="#550e12"/><stop offset="0.350" stop-color="#4d0d10"/><stop offset="0.400" stop-color="#490c0f"/><stop offset="0.450" stop-color="#450b0f"/><stop offset="0.500" stop-color="#430b0e"/><stop offset="0.550" stop-color="#440b0e"/><stop offset="0.600" stop-color="#4d0d10"/><stop offset="0.640" stop-color="#580e12"/><stop offset="0.670" stop-color="#6b1217"/><stop offset="0.700" stop-color="#7d151a"/><stop offset="0.750" stop-color="#8f181e"/><stop offset="0.800" stop-color="#9c1a21"/><stop offset="0.850" stop-color="#9f1b21"/><stop offset="0.900" stop-color="#a01b22"/><stop offset="0.950" stop-color="#a21b22"/><stop offset="1.000" stop-color="#a71c23"/></linearGradient>
<linearGradient id="er75"><stop offset="0.000" stop-color="#641015"/><stop offset="0.015" stop-color="#8a171d"/><stop offset="0.050" stop-color="#88171d"/><stop offset="0.100" stop-color="#85161c"/><stop offset="0.150" stop-color="#771419"/><stop offset="0.200" stop-color="#691116"/><stop offset="0.250" stop-color="#5c0f13"/><stop offset="0.300" stop-color="#540e12"/><stop offset="0.350" stop-color="#4c0d10"/><stop offset="0.400" stop-color="#480c0f"/><stop offset="0.450" stop-color="#440b0e"/><stop offset="0.500" stop-color="#420b0e"/><stop offset="0.550" stop-color="#430b0e"/><stop offset="0.600" stop-color="#4c0c10"/><stop offset="0.640" stop-color="#560e12"/><stop offset="0.670" stop-color="#6a1216"/><stop offset="0.700" stop-color="#7b141a"/><stop offset="0.750" stop-color="#8e181e"/><stop offset="0.800" stop-color="#9a1a20"/><stop offset="0.850" stop-color="#9d1a21"/><stop offset="0.900" stop-color="#a01b22"/><stop offset="0.950" stop-color="#a31b22"/><stop offset="1.000" stop-color="#a81c23"/></linearGradient>
<linearGradient id="er76"><stop offset="0.000" stop-color="#5d0f14"/><stop offset="0.015" stop-color="#83161c"/><stop offset="0.050" stop-color="#81161b"/><stop offset="0.100" stop-color="#7f151b"/><stop offset="0.150" stop-color="#711318"/><stop offset="0.200" stop-color="#631015"/><stop offset="0.250" stop-color="#560e12"/><stop offset="0.300" stop-color="#4f0d11"/><stop offset="0.350" stop-color="#480c0f"/><stop offset="0.400" stop-color="#430b0e"/><stop offset="0.450" stop-color="#3f0a0d"/><stop offset="0.500" stop-color="#3d0a0d"/><stop offset="0.550" stop-color="#3d0a0d"/><stop offset="0.600" stop-color="#450b0f"/><stop offset="0.640" stop-color="#4d0d10"/><stop offset="0.670" stop-color="#5f1014"/><stop offset="0.700" stop-color="#6f1217"/><stop offset="0.750" stop-color="#81151b"/><stop offset="0.800" stop-color="#8d181e"/><stop offset="0.850" stop-color="#93181f"/><stop offset="0.900" stop-color="#9a1a20"/><stop offset="0.950" stop-color="#a51c23"/><stop offset="1.000" stop-color="#ad1d24"/></linearGradient>
<linearGradient id="er77"><stop offset="0.000" stop-color="#661116"/><stop offset="0.015" stop-color="#8d181e"/><stop offset="0.050" stop-color="#8c171e"/><stop offset="0.100" stop-color="#89171d"/><stop offset="0.150" stop-color="#79141a"/><stop offset="0.200" stop-color="#681116"/><stop offset="0.250" stop-color="#590f13"/><stop offset="0.300" stop-color="#4f0d11"/><stop offset="0.350" stop-color="#460b0f"/><stop offset="0.400" stop-color="#400a0e"/><stop offset="0.450" stop-color="#3c0a0d"/><stop offset="0.500" stop-color="#39090c"/><stop offset="0.550" stop-color="#37090c"/><stop offset="0.600" stop-color="#3b0a0c"/><stop offset="0.640" stop-color="#400a0d"/><stop offset="0.670" stop-color="#4f0d11"/><stop offset="0.700" stop-color="#5d0f14"/><stop offset="0.750" stop-color="#6c1217"/><stop offset="0.800" stop-color="#79141a"/><stop offset="0.850" stop-color="#84161c"/><stop offset="0.900" stop-color="#95191f"/><stop offset="0.950" stop-color="#ac1d24"/><stop offset="1.000" stop-color="#bb1f27"/></linearGradient>
<linearGradient id="er78"><stop offset="0.000" stop-color="#6b1217"/><stop offset="0.015" stop-color="#93181f"/><stop offset="0.050" stop-color="#92181f"/><stop offset="0.100" stop-color="#8f181e"/><stop offset="0.150" stop-color="#7e151a"/><stop offset="0.200" stop-color="#6b1217"/><stop offset="0.250" stop-color="#5a0f13"/><stop offset="0.300" stop-color="#4f0d11"/><stop offset="0.350" stop-color="#450b0f"/><stop offset="0.400" stop-color="#3f0a0d"/><stop offset="0.450" stop-color="#3b0a0c"/><stop offset="0.500" stop-color="#38090c"/><stop offset="0.550" stop-color="#36090b"/><stop offset="0.600" stop-color="#3a090c"/><stop offset="0.640" stop-color="#3f0a0d"/><stop offset="0.670" stop-color="#4e0d11"/><stop offset="0.700" stop-color="#5c0f13"/><stop offset="0.750" stop-color="#6b1216"/><stop offset="0.800" stop-color="#781419"/><stop offset="0.850" stop-color="#83161c"/><stop offset="0.900" stop-color="#94191f"/><stop offset="0.950" stop-color="#ab1d24"/><stop offset="1.000" stop-color="#ba1f27"/></linearGradient>
<linearGradient id="er79"><stop offset="0.000" stop-color="#6f1217"/><stop offset="0.015" stop-color="#961920"/><stop offset="0.050" stop-color="#96191f"/><stop offset="0.100" stop-color="#92181f"/><stop offset="0.150" stop-color="#81151b"/><stop offset="0.200" stop-color="#6e1217"/><stop offset="0.250" stop-color="#5d0f14"/><stop offset="0.300" stop-color="#520d11"/><stop offset="0.350" stop-color="#480c0f"/><stop offset="0.400" stop-color="#410b0e"/><stop offset="0.450" stop-color="#3c0a0d"/><stop offset="0.500" stop-color="#39090c"/><stop offset="0.550" stop-color="#37090c"/><stop offset="0.600" stop-color="#3b0a0d"/><stop offset="0.640" stop-color="#410b0e"/><stop offset="0.670" stop-color="#500d11"/><stop offset="0.700" stop-color="#5e1014"/><stop offset="0.750" stop-color="#6d1217"/><stop offset="0.800" stop-color="#7b141a"/><stop offset="0.850" stop-color="#84161c"/><stop offset="0.900" stop-color="#90181e"/><stop offset="0.950" stop-color="#9e1a21"/><stop offset="1.000" stop-color="#a91c24"/></linearGradient>
<linearGradient id="er80"><stop offset="0.000" stop-color="#5c0f13"/><stop offset="0.015" stop-color="#82161b"/><stop offset="0.050" stop-color="#80151b"/><stop offset="0.100" stop-color="#7e151b"/><stop offset="0.150" stop-color="#701318"/><stop offset="0.200" stop-color="#621015"/><stop offset="0.250" stop-color="#560e12"/><stop offset="0.300" stop-color="#4e0d10"/><stop offset="0.350" stop-color="#460b0f"/><stop offset="0.400" stop-color="#400a0e"/><stop offset="0.450" stop-color="#3c0a0d"/><stop offset="0.500" stop-color="#38090c"/><stop offset="0.550" stop-color="#37090c"/><stop offset="0.600" stop-color="#3c0a0d"/><stop offset="0.640" stop-color="#420b0e"/><stop offset="0.670" stop-color="#520d11"/><stop offset="0.700" stop-color="#601014"/><stop offset="0.750" stop-color="#721318"/><stop offset="0.800" stop-color="#82161b"/><stop offset="0.850" stop-color="#8e181e"/><stop offset="0.900" stop-color="#991a20"/><stop offset="0.950" stop-color="#a41b22"/><stop offset="1.000" stop-color="#ac1d24"/></linearGradient>
<linearGradient id="er81"><stop offset="0.000" stop-color="#4f0d11"/><stop offset="0.015" stop-color="#761419"/><stop offset="0.050" stop-color="#751319"/><stop offset="0.100" stop-color="#731318"/><stop offset="0.150" stop-color="#671116"/><stop offset="0.200" stop-color="#5a0f13"/><stop offset="0.250" stop-color="#4f0d11"/><stop offset="0.300" stop-color="#490c0f"/><stop offset="0.350" stop-color="#420b0e"/><stop offset="0.400" stop-color="#3e0a0d"/><stop offset="0.450" stop-color="#3a090c"/><stop offset="0.500" stop-color="#37090c"/><stop offset="0.550" stop-color="#36090b"/><stop offset="0.600" stop-color="#3a090c"/><stop offset="0.640" stop-color="#3f0a0d"/><stop offset="0.670" stop-color="#4e0d10"/><stop offset="0.700" stop-color="#5c0f13"/><stop offset="0.750" stop-color="#6c1217"/><stop offset="0.800" stop-color="#7c151a"/><stop offset="0.850" stop-color="#87171d"/><stop offset="0.900" stop-color="#92181f"/><stop offset="0.950" stop-color="#9b1a21"/><stop offset="1.000" stop-color="#a11b22"/></linearGradient>
<linearGradient id="er82"><stop offset="0.000" stop-color="#4d0d10"/><stop offset="0.015" stop-color="#741318"/><stop offset="0.050" stop-color="#741318"/><stop offset="0.100" stop-color="#741319"/><stop offset="0.150" stop-color="#6a1216"/><stop offset="0.200" stop-color="#611014"/><stop offset="0.250" stop-color="#590f13"/><stop offset="0.300" stop-color="#560e12"/><stop offset="0.350" stop-color="#520e11"/><stop offset="0.400" stop-color="#500d11"/><stop offset="0.450" stop-color="#4d0d10"/><stop offset="0.500" stop-color="#4b0c10"/><stop offset="0.550" stop-color="#490c10"/><stop offset="0.600" stop-color="#4c0c10"/><stop offset="0.640" stop-color="#4f0d11"/><stop offset="0.670" stop-color="#5d0f14"/><stop offset="0.700" stop-color="#691116"/><stop offset="0.750" stop-color="#761419"/><stop offset="0.800" stop-color="#82161b"/><stop offset="0.850" stop-color="#8a171d"/><stop offset="0.900" stop-color="#92181f"/><stop offset="0.950" stop-color="#991a20"/><stop offset="1.000" stop-color="#9e1a21"/></linearGradient>
<linearGradient id="er83"><stop offset="0.000" stop-color="#5f1014"/><stop offset="0.015" stop-color="#86161c"/><stop offset="0.050" stop-color="#85161c"/><stop offset="0.100" stop-color="#86161c"/><stop offset="0.150" stop-color="#7d151a"/><stop offset="0.200" stop-color="#741319"/><stop offset="0.250" stop-color="#6e1217"/><stop offset="0.300" stop-color="#6c1217"/><stop offset="0.350" stop-color="#691116"/><stop offset="0.400" stop-color="#661116"/><stop offset="0.450" stop-color="#631015"/><stop offset="0.500" stop-color="#601014"/><stop offset="0.550" stop-color="#5e1014"/><stop offset="0.600" stop-color="#621015"/><stop offset="0.640" stop-color="#651115"/><stop offset="0.670" stop-color="#721318"/><stop offset="0.700" stop-color="#7c151a"/><stop offset="0.750" stop-color="#86161c"/><stop offset="0.800" stop-color="#8d171e"/><stop offset="0.850" stop-color="#8f181e"/><stop offset="0.900" stop-color="#91181f"/><stop offset="0.950" stop-color="#95191f"/><stop offset="1.000" stop-color="#9b1a21"/></linearGradient>
<linearGradient id="er84"><stop offset="0.000" stop-color="#5b0f13"/><stop offset="0.015" stop-color="#82161b"/><stop offset="0.050" stop-color="#81151b"/><stop offset="0.100" stop-color="#80151b"/><stop offset="0.150" stop-color="#741318"/><stop offset="0.200" stop-color="#691116"/><stop offset="0.250" stop-color="#5e1014"/><stop offset="0.300" stop-color="#590f13"/><stop offset="0.350" stop-color="#530e11"/><stop offset="0.400" stop-color="#4e0d11"/><stop offset="0.450" stop-color="#4a0c10"/><stop offset="0.500" stop-color="#470c0f"/><stop offset="0.550" stop-color="#460b0f"/><stop offset="0.600" stop-color="#4a0c10"/><stop offset="0.640" stop-color="#4f0d11"/><stop offset="0.670" stop-color="#5d0f14"/><stop offset="0.700" stop-color="#6a1216"/><stop offset="0.750" stop-color="#771419"/><stop offset="0.800" stop-color="#81161b"/><stop offset="0.850" stop-color="#86161c"/><stop offset="0.900" stop-color="#8b171d"/><stop offset="0.950" stop-color="#91181f"/><stop offset="1.000" stop-color="#971920"/></linearGradient>
<linearGradient id="er85"><stop offset="0.000" stop-color="#5a0f13"/><stop offset="0.015" stop-color="#80151b"/><stop offset="0.050" stop-color="#7f151b"/><stop offset="0.100" stop-color="#7d151a"/><stop offset="0.150" stop-color="#6f1217"/><stop offset="0.200" stop-color="#611014"/><stop offset="0.250" stop-color="#540e12"/><stop offset="0.300" stop-color="#4c0c10"/><stop offset="0.350" stop-color="#430b0e"/><stop offset="0.400" stop-color="#3c0a0d"/><stop offset="0.450" stop-color="#37090c"/><stop offset="0.500" stop-color="#32080b"/><stop offset="0.550" stop-color="#30080a"/><stop offset="0.600" stop-color="#33080b"/><stop offset="0.640" stop-color="#37090c"/><stop offset="0.670" stop-color="#460c0f"/><stop offset="0.700" stop-color="#540e12"/><stop offset="0.750" stop-color="#641115"/><stop offset="0.800" stop-color="#721318"/><stop offset="0.850" stop-color="#7b141a"/><stop offset="0.900" stop-color="#83161c"/><stop offset="0.950" stop-color="#8c171d"/><stop offset="1.000" stop-color="#94191f"/></linearGradient>
<linearGradient id="er86"><stop offset="0.000" stop-color="#560e12"/><stop offset="0.015" stop-color="#7d151a"/><stop offset="0.050" stop-color="#7b151a"/><stop offset="0.100" stop-color="#79141a"/><stop offset="0.150" stop-color="#6c1217"/><stop offset="0.200" stop-color="#5e0f14"/><stop offset="0.250" stop-color="#510d11"/><stop offset="0.300" stop-color="#480c0f"/><stop offset="0.350" stop-color="#3f0a0d"/><stop offset="0.400" stop-color="#39090c"/><stop offset="0.450" stop-color="#33080b"/><stop offset="0.500" stop-color="#2e070a"/><stop offset="0.550" stop-color="#2b0709"/><stop offset="0.600" stop-color="#2d070a"/><stop offset="0.640" stop-color="#31080a"/><stop offset="0.670" stop-color="#400a0d"/><stop offset="0.700" stop-color="#4d0d10"/><stop offset="0.750" stop-color="#5d0f14"/><stop offset="0.800" stop-color="#6c1217"/><stop offset="0.850" stop-color="#751319"/><stop offset="0.900" stop-color="#7e151b"/><stop offset="0.950" stop-color="#87161c"/><stop offset="1.000" stop-color="#8f181e"/></linearGradient>
<linearGradient id="er87"><stop offset="0.000" stop-color="#530e12"/><stop offset="0.015" stop-color="#7a141a"/><stop offset="0.050" stop-color="#781419"/><stop offset="0.100" stop-color="#761419"/><stop offset="0.150" stop-color="#691116"/><stop offset="0.200" stop-color="#5b0f13"/><stop offset="0.250" stop-color="#4e0d10"/><stop offset="0.300" stop-color="#460b0f"/><stop offset="0.350" stop-color="#3d0a0d"/><stop offset="0.400" stop-color="#37090c"/><stop offset="0.450" stop-color="#31080a"/><stop offset="0.500" stop-color="#2c0709"/><stop offset="0.550" stop-color="#290709"/><stop offset="0.600" stop-color="#2c0709"/><stop offset="0.640" stop-color="#2f080a"/><stop offset="0.670" stop-color="#3e0a0d"/><stop offset="0.700" stop-color="#4b0c10"/><stop offset="0.750" stop-color="#5a0f13"/><stop offset="0.800" stop-color="#691116"/><stop offset="0.850" stop-color="#721318"/><stop offset="0.900" stop-color="#7a141a"/><stop offset="0.950" stop-color="#83161c"/><stop offset="1.000" stop-color="#8b171d"/></linearGradient>
<linearGradient id="er88"><stop offset="0.000" stop-color="#6b1216"/><stop offset="0.015" stop-color="#91181e"/><stop offset="0.050" stop-color="#8f181e"/><stop offset="0.100" stop-color="#8b171d"/><stop offset="0.150" stop-color="#7d151a"/><stop offset="0.200" stop-color="#6e1217"/><stop offset="0.250" stop-color="#601014"/><stop offset="0.300" stop-color="#560e12"/><stop offset="0.350" stop-color="#4b0c10"/><stop offset="0.400" stop-color="#430b0e"/><stop offset="0.450" stop-color="#3c0a0d"/><stop offset="0.500" stop-color="#37090c"/><stop offset="0.550" stop-color="#34080b"/><stop offset="0.600" stop-color="#39090c"/><stop offset="0.640" stop-color="#3f0a0d"/><stop offset="0.670" stop-color="#4f0d11"/><stop offset="0.700" stop-color="#5e1014"/><stop offset="0.750" stop-color="#701318"/><stop offset="0.800" stop-color="#80151b"/><stop offset="0.850" stop-color="#8a171d"/><stop offset="0.900" stop-color="#94191f"/><stop offset="0.950" stop-color="#9e1a21"/><stop offset="1.000" stop-color="#a71c23"/></linearGradient>
<linearGradient id="er89"><stop offset="0.000" stop-color="#6a1216"/><stop offset="0.015" stop-color="#90181e"/><stop offset="0.050" stop-color="#8e181e"/><stop offset="0.100" stop-color="#8b171d"/><stop offset="0.150" stop-color="#7d151a"/><stop offset="0.200" stop-color="#6e1217"/><stop offset="0.250" stop-color="#5f1014"/><stop offset="0.300" stop-color="#560e12"/><stop offset="0.350" stop-color="#4b0c10"/><stop offset="0.400" stop-color="#440b0e"/><stop offset="0.450" stop-color="#3d0a0d"/><stop offset="0.500" stop-color="#39090c"/><stop offset="0.550" stop-color="#38090c"/><stop offset="0.600" stop-color="#3e0a0d"/><stop offset="0.640" stop-color="#450b0f"/><stop offset="0.670" stop-color="#550e12"/><stop offset="0.700" stop-color="#641115"/><stop offset="0.750" stop-color="#751319"/><stop offset="0.800" stop-color="#83161c"/><stop offset="0.850" stop-color="#8c171d"/><stop offset="0.900" stop-color="#94191f"/><stop offset="0.950" stop-color="#9d1a21"/><stop offset="1.000" stop-color="#a61c23"/></linearGradient>
<linearGradient id="er90"><stop offset="0.000" stop-color="#5e1014"/><stop offset="0.015" stop-color="#85161c"/><stop offset="0.050" stop-color="#83161c"/><stop offset="0.100" stop-color="#80151b"/><stop offset="0.150" stop-color="#731318"/><stop offset="0.200" stop-color="#641115"/><stop offset="0.250" stop-color="#570e12"/><stop offset="0.300" stop-color="#4e0d10"/><stop offset="0.350" stop-color="#440b0e"/><stop offset="0.400" stop-color="#3d0a0d"/><stop offset="0.450" stop-color="#37090c"/><stop offset="0.500" stop-color="#34080b"/><stop offset="0.550" stop-color="#33080b"/><stop offset="0.600" stop-color="#38090c"/><stop offset="0.640" stop-color="#3e0a0d"/><stop offset="0.670" stop-color="#4d0d10"/><stop offset="0.700" stop-color="#5b0f13"/><stop offset="0.750" stop-color="#6a1216"/><stop offset="0.800" stop-color="#771419"/><stop offset="0.850" stop-color="#7f151b"/><stop offset="0.900" stop-color="#86161c"/><stop offset="0.950" stop-color="#8f181e"/><stop offset="1.000" stop-color="#971920"/></linearGradient>
<linearGradient id="er91"><stop offset="0.000" stop-color="#520d11"/><stop offset="0.015" stop-color="#791419"/><stop offset="0.050" stop-color="#771419"/><stop offset="0.100" stop-color="#751319"/><stop offset="0.150" stop-color="#681116"/><stop offset="0.200" stop-color="#5a0f13"/><stop offset="0.250" stop-color="#4d0d10"/><stop offset="0.300" stop-color="#450b0f"/><stop offset="0.350" stop-color="#3d0a0d"/><stop offset="0.400" stop-color="#37090c"/><stop offset="0.450" stop-color="#32080b"/><stop offset="0.500" stop-color="#2f070a"/><stop offset="0.550" stop-color="#2e070a"/><stop offset="0.600" stop-color="#32080b"/><stop offset="0.640" stop-color="#37090c"/><stop offset="0.670" stop-color="#460b0f"/><stop offset="0.700" stop-color="#530e11"/><stop offset="0.750" stop-color="#611014"/><stop offset="0.800" stop-color="#6d1217"/><stop offset="0.850" stop-color="#731318"/><stop offset="0.900" stop-color="#79141a"/><stop offset="0.950" stop-color="#81151b"/><stop offset="1.000" stop-color="#89171d"/></linearGradient>
<linearGradient id="er92"><stop offset="0.000" stop-color="#440b0e"/><stop offset="0.015" stop-color="#6b1217"/><stop offset="0.050" stop-color="#6a1216"/><stop offset="0.100" stop-color="#691116"/><stop offset="0.150" stop-color="#5c0f13"/><stop offset="0.200" stop-color="#4f0d11"/><stop offset="0.250" stop-color="#430b0e"/><stop offset="0.300" stop-color="#3c0a0d"/><stop offset="0.350" stop-color="#35080b"/><stop offset="0.400" stop-color="#30080a"/><stop offset="0.450" stop-color="#2c0709"/><stop offset="0.500" stop-color="#290709"/><stop offset="0.550" stop-color="#290609"/><stop offset="0.600" stop-color="#2c0709"/><stop offset="0.640" stop-color="#30080a"/><stop offset="0.670" stop-color="#3e0a0d"/><stop offset="0.700" stop-color="#4a0c10"/><stop offset="0.750" stop-color="#570e12"/><stop offset="0.800" stop-color="#631015"/><stop offset="0.850" stop-color="#681116"/><stop offset="0.900" stop-color="#6d1217"/><stop offset="0.950" stop-color="#741318"/><stop offset="1.000" stop-color="#7a141a"/></linearGradient>
<linearGradient id="er93"><stop offset="0.000" stop-color="#3c0a0d"/><stop offset="0.015" stop-color="#621015"/><stop offset="0.050" stop-color="#621015"/><stop offset="0.100" stop-color="#611014"/><stop offset="0.150" stop-color="#550e12"/><stop offset="0.200" stop-color="#480c0f"/><stop offset="0.250" stop-color="#3d0a0d"/><stop offset="0.300" stop-color="#36090b"/><stop offset="0.350" stop-color="#2f080a"/><stop offset="0.400" stop-color="#2b0709"/><stop offset="0.450" stop-color="#280608"/><stop offset="0.500" stop-color="#260608"/><stop offset="0.550" stop-color="#250608"/><stop offset="0.600" stop-color="#280608"/><stop offset="0.640" stop-color="#2c0709"/><stop offset="0.670" stop-color="#3a090c"/><stop offset="0.700" stop-color="#460b0f"/><stop offset="0.750" stop-color="#540e12"/><stop offset="0.800" stop-color="#5f1014"/><stop offset="0.850" stop-color="#641115"/><stop offset="0.900" stop-color="#691116"/><stop offset="0.950" stop-color="#6d1217"/><stop offset="1.000" stop-color="#721318"/></linearGradient>
<linearGradient id="er94"><stop offset="0.000" stop-color="#430b0e"/><stop offset="0.015" stop-color="#691116"/><stop offset="0.050" stop-color="#681116"/><stop offset="0.100" stop-color="#671116"/><stop offset="0.150" stop-color="#5b0f13"/><stop offset="0.200" stop-color="#4e0d10"/><stop offset="0.250" stop-color="#420b0e"/><stop offset="0.300" stop-color="#3b0a0c"/><stop offset="0.350" stop-color="#33080b"/><stop offset="0.400" stop-color="#2f070a"/><stop offset="0.450" stop-color="#2b0709"/><stop offset="0.500" stop-color="#280609"/><stop offset="0.550" stop-color="#280608"/><stop offset="0.600" stop-color="#2b0709"/><stop offset="0.640" stop-color="#30080a"/><stop offset="0.670" stop-color="#3e0a0d"/><stop offset="0.700" stop-color="#4b0c10"/><stop offset="0.750" stop-color="#590f13"/><stop offset="0.800" stop-color="#651115"/><stop offset="0.850" stop-color="#6b1216"/><stop offset="0.900" stop-color="#701318"/><stop offset="0.950" stop-color="#751319"/><stop offset="1.000" stop-color="#7a141a"/></linearGradient>
<linearGradient id="er95"><stop offset="0.000" stop-color="#4e0d11"/><stop offset="0.015" stop-color="#751319"/><stop offset="0.050" stop-color="#741318"/><stop offset="0.100" stop-color="#721318"/><stop offset="0.150" stop-color="#651115"/><stop offset="0.200" stop-color="#570e12"/><stop offset="0.250" stop-color="#4a0c10"/><stop offset="0.300" stop-color="#430b0e"/><stop offset="0.350" stop-color="#3a090c"/><stop offset="0.400" stop-color="#34080b"/><stop offset="0.450" stop-color="#2f080a"/><stop offset="0.500" stop-color="#2d0709"/><stop offset="0.550" stop-color="#2c0709"/><stop offset="0.600" stop-color="#30080a"/><stop offset="0.640" stop-color="#36090b"/><stop offset="0.670" stop-color="#450b0f"/><stop offset="0.700" stop-color="#530e11"/><stop offset="0.750" stop-color="#621015"/><stop offset="0.800" stop-color="#6f1217"/><stop offset="0.850" stop-color="#751319"/><stop offset="0.900" stop-color="#7b151a"/><stop offset="0.950" stop-color="#82161b"/><stop offset="1.000" stop-color="#88171d"/></linearGradient>
<linearGradient id="er96"><stop offset="0.000" stop-color="#590f13"/><stop offset="0.015" stop-color="#7f151b"/><stop offset="0.050" stop-color="#7e151a"/><stop offset="0.100" stop-color="#7b141a"/><stop offset="0.150" stop-color="#6e1217"/><stop offset="0.200" stop-color="#601014"/><stop offset="0.250" stop-color="#520e11"/><stop offset="0.300" stop-color="#4a0c10"/><stop offset="0.350" stop-color="#400a0e"/><stop offset="0.400" stop-color="#3a090c"/><stop offset="0.450" stop-color="#34080b"/><stop offset="0.500" stop-color="#31080a"/><stop offset="0.550" stop-color="#30080a"/><stop offset="0.600" stop-color="#35090b"/><stop offset="0.640" stop-color="#3c0a0d"/><stop offset="0.670" stop-color="#4b0c10"/><stop offset="0.700" stop-color="#5a0f13"/><stop offset="0.750" stop-color="#6a1216"/><stop offset="0.800" stop-color="#781419"/><stop offset="0.850" stop-color="#7f151b"/><stop offset="0.900" stop-color="#86161c"/><stop offset="0.950" stop-color="#8e181e"/><stop offset="1.000" stop-color="#95191f"/></linearGradient>
<linearGradient id="er97"><stop offset="0.000" stop-color="#5a0f13"/><stop offset="0.015" stop-color="#80151b"/><stop offset="0.050" stop-color="#7f151b"/><stop offset="0.100" stop-color="#7c151a"/><stop offset="0.150" stop-color="#6f1217"/><stop offset="0.200" stop-color="#601014"/><stop offset="0.250" stop-color="#530e12"/><stop offset="0.300" stop-color="#4a0c10"/><stop offset="0.350" stop-color="#410b0e"/><stop offset="0.400" stop-color="#3a090c"/><stop offset="0.450" stop-color="#35080b"/><stop offset="0.500" stop-color="#31080a"/><stop offset="0.550" stop-color="#31080a"/><stop offset="0.600" stop-color="#36090b"/><stop offset="0.640" stop-color="#3c0a0d"/><stop offset="0.670" stop-color="#4c0c10"/><stop offset="0.700" stop-color="#5a0f13"/><stop offset="0.750" stop-color="#6b1217"/><stop offset="0.800" stop-color="#791419"/><stop offset="0.850" stop-color="#81161b"/><stop offset="0.900" stop-color="#8b171d"/><stop offset="0.950" stop-color="#961920"/><stop offset="1.000" stop-color="#9f1b21"/></linearGradient>
<linearGradient id="er98"><stop offset="0.000" stop-color="#530e11"/><stop offset="0.015" stop-color="#79141a"/><stop offset="0.050" stop-color="#781419"/><stop offset="0.100" stop-color="#761419"/><stop offset="0.150" stop-color="#681116"/><stop offset="0.200" stop-color="#5b0f13"/><stop offset="0.250" stop-color="#4e0d10"/><stop offset="0.300" stop-color="#460b0f"/><stop offset="0.350" stop-color="#3d0a0d"/><stop offset="0.400" stop-color="#37090c"/><stop offset="0.450" stop-color="#32080b"/><stop offset="0.500" stop-color="#2f070a"/><stop offset="0.550" stop-color="#2e070a"/><stop offset="0.600" stop-color="#34080b"/><stop offset="0.640" stop-color="#3b0a0d"/><stop offset="0.670" stop-color="#4d0d10"/><stop offset="0.700" stop-color="#5e0f14"/><stop offset="0.750" stop-color="#731318"/><stop offset="0.800" stop-color="#86161c"/><stop offset="0.850" stop-color="#94191f"/><stop offset="0.900" stop-color="#a41c23"/><stop offset="0.950" stop-color="#b91f27"/><stop offset="1.000" stop-color="#c32129"/></linearGradient>
<linearGradient id="er99"><stop offset="0.000" stop-color="#550e12"/><stop offset="0.015" stop-color="#7c151a"/><stop offset="0.050" stop-color="#7a141a"/><stop offset="0.100" stop-color="#781419"/><stop offset="0.150" stop-color="#6b1216"/><stop offset="0.200" stop-color="#5d0f14"/><stop offset="0.250" stop-color="#500d11"/><stop offset="0.300" stop-color="#480c0f"/><stop offset="0.350" stop-color="#3f0a0d"/><stop offset="0.400" stop-color="#38090c"/><stop offset="0.450" stop-color="#33080b"/><stop offset="0.500" stop-color="#30080a"/><stop offset="0.550" stop-color="#30080a"/><stop offset="0.600" stop-color="#35090b"/><stop offset="0.640" stop-color="#3d0a0d"/><stop offset="0.670" stop-color="#4f0d11"/><stop offset="0.700" stop-color="#5f1014"/><stop offset="0.750" stop-color="#751319"/><stop offset="0.800" stop-color="#8a171d"/><stop offset="0.850" stop-color="#9c1a21"/><stop offset="0.900" stop-color="#bb1f27"/><stop offset="0.950" stop-color="#e32630"/><stop offset="1.000" stop-color="#e32630"/></linearGradient>
<linearGradient id="er100"><stop offset="0.000" stop-color="#4a0c10"/><stop offset="0.015" stop-color="#701318"/><stop offset="0.050" stop-color="#6f1217"/><stop offset="0.100" stop-color="#6d1217"/><stop offset="0.150" stop-color="#611014"/><stop offset="0.200" stop-color="#540e12"/><stop offset="0.250" stop-color="#490c0f"/><stop offset="0.300" stop-color="#430b0e"/><stop offset="0.350" stop-color="#3c0a0d"/><stop offset="0.400" stop-color="#38090c"/><stop offset="0.450" stop-color="#35090b"/><stop offset="0.500" stop-color="#34080b"/><stop offset="0.550" stop-color="#36090b"/><stop offset="0.600" stop-color="#3d0a0d"/><stop offset="0.640" stop-color="#440b0e"/><stop offset="0.670" stop-color="#540e12"/><stop offset="0.700" stop-color="#621015"/><stop offset="0.750" stop-color="#711318"/><stop offset="0.800" stop-color="#7e151b"/><stop offset="0.850" stop-color="#8b171d"/><stop offset="0.900" stop-color="#a81c23"/><stop offset="0.950" stop-color="#d3232c"/><stop offset="1.000" stop-color="#e32630"/></linearGradient>
<linearGradient id="er101"><stop offset="0.000" stop-color="#520d11"/><stop offset="0.015" stop-color="#781419"/><stop offset="0.050" stop-color="#771419"/><stop offset="0.100" stop-color="#751319"/><stop offset="0.150" stop-color="#681116"/><stop offset="0.200" stop-color="#5b0f13"/><stop offset="0.250" stop-color="#4f0d11"/><stop offset="0.300" stop-color="#480c0f"/><stop offset="0.350" stop-color="#410b0e"/><stop offset="0.400" stop-color="#3c0a0d"/><stop offset="0.450" stop-color="#39090c"/><stop offset="0.500" stop-color="#38090c"/><stop offset="0.550" stop-color="#39090c"/><stop offset="0.600" stop-color="#410b0e"/><stop offset="0.640" stop-color="#480c0f"/><stop offset="0.670" stop-color="#590f13"/><stop offset="0.700" stop-color="#681116"/><stop offset="0.750" stop-color="#781419"/><stop offset="0.800" stop-color="#84161c"/><stop offset="0.850" stop-color="#8d181e"/><stop offset="0.900" stop-color="#9d1a21"/><stop offset="0.950" stop-color="#b31e26"/><stop offset="1.000" stop-color="#c02028"/></linearGradient>
<linearGradient id="er102"><stop offset="0.000" stop-color="#4d0d10"/><stop offset="0.015" stop-color="#731318"/><stop offset="0.050" stop-color="#721318"/><stop offset="0.100" stop-color="#701318"/><stop offset="0.150" stop-color="#631015"/><stop offset="0.200" stop-color="#560e12"/><stop offset="0.250" stop-color="#4a0c10"/><stop offset="0.300" stop-color="#420b0e"/><stop offset="0.350" stop-color="#3a090c"/><stop offset="0.400" stop-color="#35080b"/><stop offset="0.450" stop-color="#30080a"/><stop offset="0.500" stop-color="#2d070a"/><stop offset="0.550" stop-color="#2d0709"/><stop offset="0.600" stop-color="#31080a"/><stop offset="0.640" stop-color="#36090b"/><stop offset="0.670" stop-color="#450b0f"/><stop offset="0.700" stop-color="#520e11"/><stop offset="0.750" stop-color="#621015"/><stop offset="0.800" stop-color="#721318"/><stop offset="0.850" stop-color="#7e151b"/><stop offset="0.900" stop-color="#8b171d"/><stop offset="0.950" stop-color="#961920"/><stop offset="1.000" stop-color="#9b1a21"/></linearGradient>
<linearGradient id="er103"><stop offset="0.000" stop-color="#3b0a0c"/><stop offset="0.015" stop-color="#621015"/><stop offset="0.050" stop-color="#611014"/><stop offset="0.100" stop-color="#601014"/><stop offset="0.150" stop-color="#540e12"/><stop offset="0.200" stop-color="#470c0f"/><stop offset="0.250" stop-color="#3c0a0d"/><stop offset="0.300" stop-color="#36090b"/><stop offset="0.350" stop-color="#30080a"/><stop offset="0.400" stop-color="#2c0709"/><stop offset="0.450" stop-color="#280609"/><stop offset="0.500" stop-color="#260608"/><stop offset="0.550" stop-color="#260608"/><stop offset="0.600" stop-color="#280609"/><stop offset="0.640" stop-color="#2c0709"/><stop offset="0.670" stop-color="#3a090c"/><stop offset="0.700" stop-color="#460c0f"/><stop offset="0.750" stop-color="#550e12"/><stop offset="0.800" stop-color="#631015"/><stop offset="0.850" stop-color="#6c1217"/><stop offset="0.900" stop-color="#761419"/><stop offset="0.950" stop-color="#7c151a"/><stop offset="1.000" stop-color="#7e151a"/></linearGradient>
<linearGradient id="er104"><stop offset="0.000" stop-color="#36090b"/><stop offset="0.015" stop-color="#5d0f14"/><stop offset="0.050" stop-color="#5d0f14"/><stop offset="0.100" stop-color="#5c0f13"/><stop offset="0.150" stop-color="#4f0d11"/><stop offset="0.200" stop-color="#410b0e"/><stop offset="0.250" stop-color="#34080b"/><stop offset="0.300" stop-color="#2d070a"/><stop offset="0.350" stop-color="#270608"/><stop offset="0.400" stop-color="#230608"/><stop offset="0.450" stop-color="#210507"/><stop offset="0.500" stop-color="#200507"/><stop offset="0.550" stop-color="#1f0507"/><stop offset="0.600" stop-color="#200507"/><stop offset="0.640" stop-color="#220507"/><stop offset="0.670" stop-color="#2f080a"/><stop offset="0.700" stop-color="#3a090c"/><stop offset="0.750" stop-color="#450b0f"/><stop offset="0.800" stop-color="#4f0d11"/><stop offset="0.850" stop-color="#520e11"/><stop offset="0.900" stop-color="#550e12"/><stop offset="0.950" stop-color="#590f13"/><stop offset="1.000" stop-color="#5c0f13"/></linearGradient>
<linearGradient id="er105"><stop offset="0.000" stop-color="#3c0a0d"/><stop offset="0.015" stop-color="#631015"/><stop offset="0.050" stop-color="#621015"/><stop offset="0.100" stop-color="#611014"/><stop offset="0.150" stop-color="#530e12"/><stop offset="0.200" stop-color="#450b0f"/><stop offset="0.250" stop-color="#38090c"/><stop offset="0.300" stop-color="#31080a"/><stop offset="0.350" stop-color="#2a0709"/><stop offset="0.400" stop-color="#270608"/><stop offset="0.450" stop-color="#240608"/><stop offset="0.500" stop-color="#220507"/><stop offset="0.550" stop-color="#220507"/><stop offset="0.600" stop-color="#230507"/><stop offset="0.640" stop-color="#250608"/><stop offset="0.670" stop-color="#32080b"/><stop offset="0.700" stop-color="#3e0a0d"/><stop offset="0.750" stop-color="#4a0c10"/><stop offset="0.800" stop-color="#540e12"/><stop offset="0.850" stop-color="#570e12"/><stop offset="0.900" stop-color="#5b0f13"/><stop offset="0.950" stop-color="#5f1014"/><stop offset="1.000" stop-color="#631015"/></linearGradient>
<linearGradient id="er106"><stop offset="0.000" stop-color="#430b0e"/><stop offset="0.015" stop-color="#6a1216"/><stop offset="0.050" stop-color="#691116"/><stop offset="0.100" stop-color="#681116"/><stop offset="0.150" stop-color="#5b0f13"/><stop offset="0.200" stop-color="#4e0d11"/><stop offset="0.250" stop-color="#430b0e"/><stop offset="0.300" stop-color="#3c0a0d"/><stop offset="0.350" stop-color="#35090b"/><stop offset="0.400" stop-color="#31080a"/><stop offset="0.450" stop-color="#2d070a"/><stop offset="0.500" stop-color="#2b0709"/><stop offset="0.550" stop-color="#2b0709"/><stop offset="0.600" stop-color="#2f070a"/><stop offset="0.640" stop-color="#34080b"/><stop offset="0.670" stop-color="#430b0e"/><stop offset="0.700" stop-color="#510d11"/><stop offset="0.750" stop-color="#611015"/><stop offset="0.800" stop-color="#701318"/><stop offset="0.850" stop-color="#771419"/><stop offset="0.900" stop-color="#7d151a"/><stop offset="0.950" stop-color="#82161b"/><stop offset="1.000" stop-color="#86161c"/></linearGradient>
<linearGradient id="er107"><stop offset="0.000" stop-color="#500d11"/><stop offset="0.015" stop-color="#761419"/><stop offset="0.050" stop-color="#751319"/><stop offset="0.100" stop-color="#731318"/><stop offset="0.150" stop-color="#661115"/><stop offset="0.200" stop-color="#580f13"/><stop offset="0.250" stop-color="#4c0c10"/><stop offset="0.300" stop-color="#450b0f"/><stop offset="0.350" stop-color="#3d0a0d"/><stop offset="0.400" stop-color="#38090c"/><stop offset="0.450" stop-color="#34080b"/><stop offset="0.500" stop-color="#31080a"/><stop offset="0.550" stop-color="#31080a"/><stop offset="0.600" stop-color="#36090b"/><stop offset="0.640" stop-color="#3c0a0d"/><stop offset="0.670" stop-color="#4d0d10"/><stop offset="0.700" stop-color="#5c0f13"/><stop offset="0.750" stop-color="#6e1217"/><stop offset="0.800" stop-color="#7f151b"/><stop offset="0.850" stop-color="#88171d"/><stop offset="0.900" stop-color="#8f181e"/><stop offset="0.950" stop-color="#95191f"/><stop offset="1.000" stop-color="#991920"/></linearGradient>
<linearGradient id="er108"><stop offset="0.000" stop-color="#550e12"/><stop offset="0.015" stop-color="#7c151a"/><stop offset="0.050" stop-color="#7a141a"/><stop offset="0.100" stop-color="#781419"/><stop offset="0.150" stop-color="#6b1216"/><stop offset="0.200" stop-color="#5d0f14"/><stop offset="0.250" stop-color="#500d11"/><stop offset="0.300" stop-color="#490c0f"/><stop offset="0.350" stop-color="#410b0e"/><stop offset="0.400" stop-color="#3b0a0d"/><stop offset="0.450" stop-color="#37090c"/><stop offset="0.500" stop-color="#34080b"/><stop offset="0.550" stop-color="#33080b"/><stop offset="0.600" stop-color="#39090c"/><stop offset="0.640" stop-color="#400a0d"/><stop offset="0.670" stop-color="#510d11"/><stop offset="0.700" stop-color="#601014"/><stop offset="0.750" stop-color="#731318"/><stop offset="0.800" stop-color="#83161c"/><stop offset="0.850" stop-color="#8d181e"/><stop offset="0.900" stop-color="#95191f"/><stop offset="0.950" stop-color="#9b1a21"/><stop offset="1.000" stop-color="#9f1b22"/></linearGradient>
<linearGradient id="er109"><stop offset="0.000" stop-color="#440b0e"/><stop offset="0.015" stop-color="#6b1217"/><stop offset="0.050" stop-color="#6a1216"/><stop offset="0.100" stop-color="#691116"/><stop offset="0.150" stop-color="#5c0f13"/><stop offset="0.200" stop-color="#4f0d11"/><stop offset="0.250" stop-color="#440b0e"/><stop offset="0.300" stop-color="#3d0a0d"/><stop offset="0.350" stop-color="#37090c"/><stop offset="0.400" stop-color="#33080b"/><stop offset="0.450" stop-color="#2f080a"/><stop offset="0.500" stop-color="#2d070a"/><stop offset="0.550" stop-color="#2d0709"/><stop offset="0.600" stop-color="#30080a"/><stop offset="0.640" stop-color="#35090b"/><stop offset="0.670" stop-color="#450b0e"/><stop offset="0.700" stop-color="#530e11"/><stop offset="0.750" stop-color="#631015"/><stop offset="0.800" stop-color="#711318"/><stop offset="0.850" stop-color="#781419"/><stop offset="0.900" stop-color="#7e151b"/><stop offset="0.950" stop-color="#83161c"/><stop offset="1.000" stop-color="#87161c"/></linearGradient>
<linearGradient id="er110"><stop offset="0.000" stop-color="#520e11"/><stop offset="0.015" stop-color="#791419"/><stop offset="0.050" stop-color="#771419"/><stop offset="0.100" stop-color="#741318"/><stop offset="0.150" stop-color="#641115"/><stop offset="0.200" stop-color="#540e12"/><stop offset="0.250" stop-color="#470c0f"/><stop offset="0.300" stop-color="#3f0a0d"/><stop offset="0.350" stop-color="#38090c"/><stop offset="0.400" stop-color="#34080b"/><stop offset="0.450" stop-color="#30080a"/><stop offset="0.500" stop-color="#2e070a"/><stop offset="0.550" stop-color="#2d070a"/><stop offset="0.600" stop-color="#30080a"/><stop offset="0.640" stop-color="#34080b"/><stop offset="0.670" stop-color="#420b0e"/><stop offset="0.700" stop-color="#4f0d11"/><stop offset="0.750" stop-color="#5c0f13"/><stop offset="0.800" stop-color="#681116"/><stop offset="0.850" stop-color="#6d1217"/><stop offset="0.900" stop-color="#731318"/><stop offset="0.950" stop-color="#781419"/><stop offset="1.000" stop-color="#7e151b"/></linearGradient>
<linearGradient id="er111"><stop offset="0.000" stop-color="#4c0d10"/><stop offset="0.015" stop-color="#731318"/><stop offset="0.050" stop-color="#721318"/><stop offset="0.100" stop-color="#6e1217"/><stop offset="0.150" stop-color="#5f1014"/><stop offset="0.200" stop-color="#500d11"/><stop offset="0.250" stop-color="#420b0e"/><stop offset="0.300" stop-color="#3b0a0d"/><stop offset="0.350" stop-color="#35080b"/><stop offset="0.400" stop-color="#31080a"/><stop offset="0.450" stop-color="#2e070a"/><stop offset="0.500" stop-color="#2c0709"/><stop offset="0.550" stop-color="#2b0709"/><stop offset="0.600" stop-color="#2d070a"/><stop offset="0.640" stop-color="#30080a"/><stop offset="0.670" stop-color="#3f0a0d"/><stop offset="0.700" stop-color="#4b0c10"/><stop offset="0.750" stop-color="#580e13"/><stop offset="0.800" stop-color="#631015"/><stop offset="0.850" stop-color="#681116"/><stop offset="0.900" stop-color="#6d1217"/><stop offset="0.950" stop-color="#721318"/><stop offset="1.000" stop-color="#771419"/></linearGradient>
<linearGradient id="er112"><stop offset="0.000" stop-color="#530e11"/><stop offset="0.015" stop-color="#7a141a"/><stop offset="0.050" stop-color="#79141a"/><stop offset="0.100" stop-color="#761419"/><stop offset="0.150" stop-color="#651115"/><stop offset="0.200" stop-color="#530e11"/><stop offset="0.250" stop-color="#430b0e"/><stop offset="0.300" stop-color="#3a090c"/><stop offset="0.350" stop-color="#32080b"/><stop offset="0.400" stop-color="#2e070a"/><stop offset="0.450" stop-color="#2b0709"/><stop offset="0.500" stop-color="#290709"/><stop offset="0.550" stop-color="#280609"/><stop offset="0.600" stop-color="#2a0709"/><stop offset="0.640" stop-color="#2d0709"/><stop offset="0.670" stop-color="#3a090c"/><stop offset="0.700" stop-color="#460b0f"/><stop offset="0.750" stop-color="#520e11"/><stop offset="0.800" stop-color="#5d0f14"/><stop offset="0.850" stop-color="#611015"/><stop offset="0.900" stop-color="#661115"/><stop offset="0.950" stop-color="#6a1216"/><stop offset="1.000" stop-color="#6f1217"/></linearGradient>
<linearGradient id="er113"><stop offset="0.000" stop-color="#4c0d10"/><stop offset="0.015" stop-color="#741318"/><stop offset="0.050" stop-color="#731318"/><stop offset="0.100" stop-color="#701318"/><stop offset="0.150" stop-color="#5f1014"/><stop offset="0.200" stop-color="#4e0d10"/><stop offset="0.250" stop-color="#3e0a0d"/><stop offset="0.300" stop-color="#35090b"/><stop offset="0.350" stop-color="#2e070a"/><stop offset="0.400" stop-color="#2b0709"/><stop offset="0.450" stop-color="#280609"/><stop offset="0.500" stop-color="#270608"/><stop offset="0.550" stop-color="#260608"/><stop offset="0.600" stop-color="#270608"/><stop offset="0.640" stop-color="#290709"/><stop offset="0.670" stop-color="#36090c"/><stop offset="0.700" stop-color="#420b0e"/><stop offset="0.750" stop-color="#4e0d10"/><stop offset="0.800" stop-color="#570e12"/><stop offset="0.850" stop-color="#5b0f13"/><stop offset="0.900" stop-color="#5f1014"/><stop offset="0.950" stop-color="#631015"/><stop offset="1.000" stop-color="#681116"/></linearGradient>
<linearGradient id="er114"><stop offset="0.000" stop-color="#520e11"/><stop offset="0.015" stop-color="#7a141a"/><stop offset="0.050" stop-color="#7b141a"/><stop offset="0.100" stop-color="#7f151b"/><stop offset="0.150" stop-color="#781419"/><stop offset="0.200" stop-color="#6d1217"/><stop offset="0.250" stop-color="#5d0f14"/><stop offset="0.300" stop-color="#4f0d11"/><stop offset="0.350" stop-color="#430b0e"/><stop offset="0.400" stop-color="#3c0a0d"/><stop offset="0.450" stop-color="#38090c"/><stop offset="0.500" stop-color="#35090b"/><stop offset="0.550" stop-color="#33080b"/><stop offset="0.600" stop-color="#37090c"/><stop offset="0.640" stop-color="#3b0a0c"/><stop offset="0.670" stop-color="#4a0c10"/><stop offset="0.700" stop-color="#570e12"/><stop offset="0.750" stop-color="#651115"/><stop offset="0.800" stop-color="#711318"/><stop offset="0.850" stop-color="#781419"/><stop offset="0.900" stop-color="#7e151a"/><stop offset="0.950" stop-color="#84161c"/><stop offset="1.000" stop-color="#8a171d"/></linearGradient>
<linearGradient id="er115"><stop offset="0.000" stop-color="#651115"/><stop offset="0.015" stop-color="#8c171d"/><stop offset="0.050" stop-color="#8d171e"/><stop offset="0.100" stop-color="#90181e"/><stop offset="0.150" stop-color="#88171d"/><stop offset="0.200" stop-color="#7c151a"/><stop offset="0.250" stop-color="#6b1216"/><stop offset="0.300" stop-color="#5c0f13"/><stop offset="0.350" stop-color="#4f0d11"/><stop offset="0.400" stop-color="#470c0f"/><stop offset="0.450" stop-color="#420b0e"/><stop offset="0.500" stop-color="#3e0a0d"/><stop offset="0.550" stop-color="#3c0a0d"/><stop offset="0.600" stop-color="#400b0e"/><stop offset="0.640" stop-color="#460b0f"/><stop offset="0.670" stop-color="#560e12"/><stop offset="0.700" stop-color="#641115"/><stop offset="0.750" stop-color="#731318"/><stop offset="0.800" stop-color="#81161b"/><stop offset="0.850" stop-color="#89171d"/><stop offset="0.900" stop-color="#90181e"/><stop offset="0.950" stop-color="#981920"/><stop offset="1.000" stop-color="#a01b22"/></linearGradient>
<linearGradient id="er116"><stop offset="0.000" stop-color="#5b0f13"/><stop offset="0.015" stop-color="#81161b"/><stop offset="0.050" stop-color="#80151b"/><stop offset="0.100" stop-color="#7e151b"/><stop offset="0.150" stop-color="#721318"/><stop offset="0.200" stop-color="#651115"/><stop offset="0.250" stop-color="#590f13"/><stop offset="0.300" stop-color="#520d11"/><stop offset="0.350" stop-color="#490c0f"/><stop offset="0.400" stop-color="#440b0e"/><stop offset="0.450" stop-color="#400a0d"/><stop offset="0.500" stop-color="#3d0a0d"/><stop offset="0.550" stop-color="#3c0a0d"/><stop offset="0.600" stop-color="#420b0e"/><stop offset="0.640" stop-color="#490c0f"/><stop offset="0.670" stop-color="#5a0f13"/><stop offset="0.700" stop-color="#691116"/><stop offset="0.750" stop-color="#7b141a"/><stop offset="0.800" stop-color="#89171d"/><stop offset="0.850" stop-color="#91181f"/><stop offset="0.900" stop-color="#981920"/><stop offset="0.950" stop-color="#9e1a21"/><stop offset="1.000" stop-color="#a31b22"/></linearGradient>
<linearGradient id="er117"><stop offset="0.000" stop-color="#440b0e"/><stop offset="0.015" stop-color="#6b1216"/><stop offset="0.050" stop-color="#6a1216"/><stop offset="0.100" stop-color="#6a1216"/><stop offset="0.150" stop-color="#5f1014"/><stop offset="0.200" stop-color="#540e12"/><stop offset="0.250" stop-color="#490c0f"/><stop offset="0.300" stop-color="#430b0e"/><stop offset="0.350" stop-color="#3c0a0d"/><stop offset="0.400" stop-color="#38090c"/><stop offset="0.450" stop-color="#35090b"/><stop offset="0.500" stop-color="#34080b"/><stop offset="0.550" stop-color="#34080b"/><stop offset="0.600" stop-color="#39090c"/><stop offset="0.640" stop-color="#3f0a0d"/><stop offset="0.670" stop-color="#4f0d11"/><stop offset="0.700" stop-color="#5e0f14"/><stop offset="0.750" stop-color="#6e1217"/><stop offset="0.800" stop-color="#7c151a"/><stop offset="0.850" stop-color="#82161b"/><stop offset="0.900" stop-color="#87171c"/><stop offset="0.950" stop-color="#8b171d"/><stop offset="1.000" stop-color="#8e181e"/></linearGradient>
<linearGradient id="er118"><stop offset="0.000" stop-color="#450b0f"/><stop offset="0.015" stop-color="#6c1217"/><stop offset="0.050" stop-color="#6b1217"/><stop offset="0.100" stop-color="#6b1217"/><stop offset="0.150" stop-color="#601014"/><stop offset="0.200" stop-color="#550e12"/><stop offset="0.250" stop-color="#4a0c10"/><stop offset="0.300" stop-color="#440b0e"/><stop offset="0.350" stop-color="#3d0a0d"/><stop offset="0.400" stop-color="#39090c"/><stop offset="0.450" stop-color="#36090b"/><stop offset="0.500" stop-color="#35080b"/><stop offset="0.550" stop-color="#35090b"/><stop offset="0.600" stop-color="#3a090c"/><stop offset="0.640" stop-color="#400a0d"/><stop offset="0.670" stop-color="#500d11"/><stop offset="0.700" stop-color="#5f1014"/><stop offset="0.750" stop-color="#6f1217"/><stop offset="0.800" stop-color="#7d151a"/><stop offset="0.850" stop-color="#84161c"/><stop offset="0.900" stop-color="#89171d"/><stop offset="0.950" stop-color="#8c171e"/><stop offset="1.000" stop-color="#8f181e"/></linearGradient>
<linearGradient id="er119"><stop offset="0.000" stop-color="#530e11"/><stop offset="0.015" stop-color="#79141a"/><stop offset="0.050" stop-color="#781419"/><stop offset="0.100" stop-color="#761419"/><stop offset="0.150" stop-color="#691116"/><stop offset="0.200" stop-color="#5c0f13"/><stop offset="0.250" stop-color="#500d11"/><stop offset="0.300" stop-color="#490c0f"/><stop offset="0.350" stop-color="#430b0e"/><stop offset="0.400" stop-color="#3f0a0d"/><stop offset="0.450" stop-color="#3b0a0d"/><stop offset="0.500" stop-color="#39090c"/><stop offset="0.550" stop-color="#37090c"/><stop offset="0.600" stop-color="#3a090c"/><stop offset="0.640" stop-color="#3e0a0d"/><stop offset="0.670" stop-color="#4e0d10"/><stop offset="0.700" stop-color="#5d0f14"/><stop offset="0.750" stop-color="#711318"/><stop offset="0.800" stop-color="#86161c"/><stop offset="0.850" stop-color="#93191f"/><stop offset="0.900" stop-color="#971920"/><stop offset="0.950" stop-color="#95191f"/><stop offset="1.000" stop-color="#93191f"/></linearGradient>
<linearGradient id="er120"><stop offset="0.000" stop-color="#681116"/><stop offset="0.015" stop-color="#8e181e"/><stop offset="0.050" stop-color="#8c171e"/><stop offset="0.100" stop-color="#89171d"/><stop offset="0.150" stop-color="#7b151a"/><stop offset="0.200" stop-color="#6d1217"/><stop offset="0.250" stop-color="#601014"/><stop offset="0.300" stop-color="#590f13"/><stop offset="0.350" stop-color="#510d11"/><stop offset="0.400" stop-color="#4c0c10"/><stop offset="0.450" stop-color="#480c0f"/><stop offset="0.500" stop-color="#440b0e"/><stop offset="0.550" stop-color="#410b0e"/><stop offset="0.600" stop-color="#460b0f"/><stop offset="0.640" stop-color="#4c0c10"/><stop offset="0.670" stop-color="#5c0f13"/><stop offset="0.700" stop-color="#6c1217"/><stop offset="0.750" stop-color="#82161b"/><stop offset="0.800" stop-color="#991a20"/><stop offset="0.850" stop-color="#a81c23"/><stop offset="0.900" stop-color="#ad1d24"/><stop offset="0.950" stop-color="#ac1d24"/><stop offset="1.000" stop-color="#ac1d24"/></linearGradient>
<linearGradient id="er121"><stop offset="0.000" stop-color="#621015"/><stop offset="0.015" stop-color="#88171d"/><stop offset="0.050" stop-color="#87161c"/><stop offset="0.100" stop-color="#84161c"/><stop offset="0.150" stop-color="#761419"/><stop offset="0.200" stop-color="#681116"/><stop offset="0.250" stop-color="#5c0f13"/><stop offset="0.300" stop-color="#550e12"/><stop offset="0.350" stop-color="#4d0d10"/><stop offset="0.400" stop-color="#490c0f"/><stop offset="0.450" stop-color="#450b0f"/><stop offset="0.500" stop-color="#410b0e"/><stop offset="0.550" stop-color="#3f0a0d"/><stop offset="0.600" stop-color="#430b0e"/><stop offset="0.640" stop-color="#480c0f"/><stop offset="0.670" stop-color="#570e12"/><stop offset="0.700" stop-color="#651115"/><stop offset="0.750" stop-color="#741318"/><stop offset="0.800" stop-color="#81151b"/><stop offset="0.850" stop-color="#89171d"/><stop offset="0.900" stop-color="#90181e"/><stop offset="0.950" stop-color="#971920"/><stop offset="1.000" stop-color="#9f1b21"/></linearGradient>
<linearGradient id="er122"><stop offset="0.000" stop-color="#5b0f13"/><stop offset="0.015" stop-color="#81161b"/><stop offset="0.050" stop-color="#80151b"/><stop offset="0.100" stop-color="#7d151a"/><stop offset="0.150" stop-color="#701318"/><stop offset="0.200" stop-color="#621015"/><stop offset="0.250" stop-color="#560e12"/><stop offset="0.300" stop-color="#4f0d11"/><stop offset="0.350" stop-color="#490c0f"/><stop offset="0.400" stop-color="#450b0f"/><stop offset="0.450" stop-color="#410b0e"/><stop offset="0.500" stop-color="#3e0a0d"/><stop offset="0.550" stop-color="#3c0a0d"/><stop offset="0.600" stop-color="#3f0a0d"/><stop offset="0.640" stop-color="#430b0e"/><stop offset="0.670" stop-color="#530e11"/><stop offset="0.700" stop-color="#601014"/><stop offset="0.750" stop-color="#6e1217"/><stop offset="0.800" stop-color="#7b141a"/><stop offset="0.850" stop-color="#82161b"/><stop offset="0.900" stop-color="#88171d"/><stop offset="0.950" stop-color="#8f181e"/><stop offset="1.000" stop-color="#971920"/></linearGradient>
<linearGradient id="er123"><stop offset="0.000" stop-color="#601014"/><stop offset="0.015" stop-color="#86161c"/><stop offset="0.050" stop-color="#84161c"/><stop offset="0.100" stop-color="#82161b"/><stop offset="0.150" stop-color="#741318"/><stop offset="0.200" stop-color="#661116"/><stop offset="0.250" stop-color="#5a0f13"/><stop offset="0.300" stop-color="#530e12"/><stop offset="0.350" stop-color="#4c0d10"/><stop offset="0.400" stop-color="#480c0f"/><stop offset="0.450" stop-color="#440b0e"/><stop offset="0.500" stop-color="#410b0e"/><stop offset="0.550" stop-color="#3e0a0d"/><stop offset="0.600" stop-color="#420b0e"/><stop offset="0.640" stop-color="#470c0f"/><stop offset="0.670" stop-color="#560e12"/><stop offset="0.700" stop-color="#641115"/><stop offset="0.750" stop-color="#721318"/><stop offset="0.800" stop-color="#7f151b"/><stop offset="0.850" stop-color="#86161c"/><stop offset="0.900" stop-color="#8e181e"/><stop offset="0.950" stop-color="#95191f"/><stop offset="1.000" stop-color="#9c1a21"/></linearGradient>
<linearGradient id="er124"><stop offset="0.000" stop-color="#4e0d11"/><stop offset="0.015" stop-color="#741318"/><stop offset="0.050" stop-color="#721318"/><stop offset="0.100" stop-color="#6e1217"/><stop offset="0.150" stop-color="#611014"/><stop offset="0.200" stop-color="#540e12"/><stop offset="0.250" stop-color="#4a0c10"/><stop offset="0.300" stop-color="#450b0f"/><stop offset="0.350" stop-color="#410b0e"/><stop offset="0.400" stop-color="#3f0a0d"/><stop offset="0.450" stop-color="#3d0a0d"/><stop offset="0.500" stop-color="#3b0a0d"/><stop offset="0.550" stop-color="#39090c"/><stop offset="0.600" stop-color="#3d0a0d"/><stop offset="0.640" stop-color="#410b0e"/><stop offset="0.670" stop-color="#500d11"/><stop offset="0.700" stop-color="#5d0f14"/><stop offset="0.750" stop-color="#6b1217"/><stop offset="0.800" stop-color="#771419"/><stop offset="0.850" stop-color="#7e151b"/><stop offset="0.900" stop-color="#84161c"/><stop offset="0.950" stop-color="#8b171d"/><stop offset="1.000" stop-color="#92181f"/></linearGradient>
<linearGradient id="er125"><stop offset="0.000" stop-color="#520d11"/><stop offset="0.015" stop-color="#781419"/><stop offset="0.050" stop-color="#751319"/><stop offset="0.100" stop-color="#721318"/><stop offset="0.150" stop-color="#641115"/><stop offset="0.200" stop-color="#570e12"/><stop offset="0.250" stop-color="#4d0d10"/><stop offset="0.300" stop-color="#480c0f"/><stop offset="0.350" stop-color="#430b0e"/><stop offset="0.400" stop-color="#420b0e"/><stop offset="0.450" stop-color="#3f0a0d"/><stop offset="0.500" stop-color="#3d0a0d"/><stop offset="0.550" stop-color="#3b0a0d"/><stop offset="0.600" stop-color="#3f0a0d"/><stop offset="0.640" stop-color="#430b0e"/><stop offset="0.670" stop-color="#530e11"/><stop offset="0.700" stop-color="#601014"/><stop offset="0.750" stop-color="#6e1217"/><stop offset="0.800" stop-color="#7a141a"/><stop offset="0.850" stop-color="#81151b"/><stop offset="0.900" stop-color="#88171d"/><stop offset="0.950" stop-color="#8f181e"/><stop offset="1.000" stop-color="#961920"/></linearGradient>
<linearGradient id="er126"><stop offset="0.000" stop-color="#460b0f"/><stop offset="0.015" stop-color="#6c1217"/><stop offset="0.050" stop-color="#6b1217"/><stop offset="0.100" stop-color="#6a1216"/><stop offset="0.150" stop-color="#5d0f14"/><stop offset="0.200" stop-color="#510d11"/><stop offset="0.250" stop-color="#460b0f"/><stop offset="0.300" stop-color="#410b0e"/><stop offset="0.350" stop-color="#3b0a0d"/><stop offset="0.400" stop-color="#39090c"/><stop offset="0.450" stop-color="#37090c"/><stop offset="0.500" stop-color="#36090b"/><stop offset="0.550" stop-color="#35090b"/><stop offset="0.600" stop-color="#39090c"/><stop offset="0.640" stop-color="#3e0a0d"/><stop offset="0.670" stop-color="#4e0d10"/><stop offset="0.700" stop-color="#5c0f13"/><stop offset="0.750" stop-color="#6b1217"/><stop offset="0.800" stop-color="#791419"/><stop offset="0.850" stop-color="#80151b"/><stop offset="0.900" stop-color="#85161c"/><stop offset="0.950" stop-color="#8a171d"/><stop offset="1.000" stop-color="#8d181e"/></linearGradient>
<linearGradient id="er127"><stop offset="0.000" stop-color="#480c0f"/><stop offset="0.015" stop-color="#6f1217"/><stop offset="0.050" stop-color="#6e1217"/><stop offset="0.100" stop-color="#6c1217"/><stop offset="0.150" stop-color="#601014"/><stop offset="0.200" stop-color="#530e12"/><stop offset="0.250" stop-color="#480c0f"/><stop offset="0.300" stop-color="#430b0e"/><stop offset="0.350" stop-color="#3d0a0d"/><stop offset="0.400" stop-color="#3b0a0d"/><stop offset="0.450" stop-color="#39090c"/><stop offset="0.500" stop-color="#38090c"/><stop offset="0.550" stop-color="#38090c"/><stop offset="0.600" stop-color="#3d0a0d"/><stop offset="0.640" stop-color="#430b0e"/><stop offset="0.670" stop-color="#540e12"/><stop offset="0.700" stop-color="#621015"/><stop offset="0.750" stop-color="#731318"/><stop offset="0.800" stop-color="#82161b"/><stop offset="0.850" stop-color="#8a171d"/><stop offset="0.900" stop-color="#90181e"/><stop offset="0.950" stop-color="#94191f"/><stop offset="1.000" stop-color="#971920"/></linearGradient>
<linearGradient id="er128"><stop offset="0.000" stop-color="#530e11"/><stop offset="0.015" stop-color="#79141a"/><stop offset="0.050" stop-color="#781419"/><stop offset="0.100" stop-color="#761419"/><stop offset="0.150" stop-color="#691116"/><stop offset="0.200" stop-color="#5c0f13"/><stop offset="0.250" stop-color="#500d11"/><stop offset="0.300" stop-color="#4b0c10"/><stop offset="0.350" stop-color="#450b0f"/><stop offset="0.400" stop-color="#420b0e"/><stop offset="0.450" stop-color="#400a0d"/><stop offset="0.500" stop-color="#3e0a0d"/><stop offset="0.550" stop-color="#3e0a0d"/><stop offset="0.600" stop-color="#430b0e"/><stop offset="0.640" stop-color="#4a0c10"/><stop offset="0.670" stop-color="#5b0f13"/><stop offset="0.700" stop-color="#6a1216"/><stop offset="0.750" stop-color="#7c151a"/><stop offset="0.800" stop-color="#8c171d"/><stop offset="0.850" stop-color="#94191f"/><stop offset="0.900" stop-color="#9b1a21"/><stop offset="0.950" stop-color="#a01b22"/><stop offset="1.000" stop-color="#a31b22"/></linearGradient>
<linearGradient id="er129"><stop offset="0.000" stop-color="#5e1014"/><stop offset="0.015" stop-color="#85161c"/><stop offset="0.050" stop-color="#83161c"/><stop offset="0.100" stop-color="#81151b"/><stop offset="0.150" stop-color="#731318"/><stop offset="0.200" stop-color="#661115"/><stop offset="0.250" stop-color="#5a0f13"/><stop offset="0.300" stop-color="#530e12"/><stop offset="0.350" stop-color="#4d0d10"/><stop offset="0.400" stop-color="#490c10"/><stop offset="0.450" stop-color="#460b0f"/><stop offset="0.500" stop-color="#420b0e"/><stop offset="0.550" stop-color="#3f0a0d"/><stop offset="0.600" stop-color="#410b0e"/><stop offset="0.640" stop-color="#440b0e"/><stop offset="0.670" stop-color="#520e11"/><stop offset="0.700" stop-color="#5e1014"/><stop offset="0.750" stop-color="#6b1217"/><stop offset="0.800" stop-color="#761419"/><stop offset="0.850" stop-color="#7d151a"/><stop offset="0.900" stop-color="#84161c"/><stop offset="0.950" stop-color="#8c171e"/><stop offset="1.000" stop-color="#95191f"/></linearGradient>
<linearGradient id="er130"><stop offset="0.000" stop-color="#540e12"/><stop offset="0.015" stop-color="#7b141a"/><stop offset="0.050" stop-color="#7a141a"/><stop offset="0.100" stop-color="#791419"/><stop offset="0.150" stop-color="#6d1217"/><stop offset="0.200" stop-color="#611014"/><stop offset="0.250" stop-color="#570e12"/><stop offset="0.300" stop-color="#530e12"/><stop offset="0.350" stop-color="#4f0d11"/><stop offset="0.400" stop-color="#4e0d10"/><stop offset="0.450" stop-color="#4b0c10"/><stop offset="0.500" stop-color="#480c0f"/><stop offset="0.550" stop-color="#440b0e"/><stop offset="0.600" stop-color="#440b0e"/><stop offset="0.640" stop-color="#450b0f"/><stop offset="0.670" stop-color="#520d11"/><stop offset="0.700" stop-color="#5c0f13"/><stop offset="0.750" stop-color="#651115"/><stop offset="0.800" stop-color="#6e1217"/><stop offset="0.850" stop-color="#721318"/><stop offset="0.900" stop-color="#771419"/><stop offset="0.950" stop-color="#7e151b"/><stop offset="1.000" stop-color="#87161c"/></linearGradient>
<linearGradient id="er131"><stop offset="0.000" stop-color="#440b0e"/><stop offset="0.015" stop-color="#6b1217"/><stop offset="0.050" stop-color="#6c1217"/><stop offset="0.100" stop-color="#6d1217"/><stop offset="0.150" stop-color="#641115"/><stop offset="0.200" stop-color="#5c0f13"/><stop offset="0.250" stop-color="#570e12"/><stop offset="0.300" stop-color="#580e12"/><stop offset="0.350" stop-color="#580f13"/><stop offset="0.400" stop-color="#5a0f13"/><stop offset="0.450" stop-color="#5b0f13"/><stop offset="0.500" stop-color="#5a0f13"/><stop offset="0.550" stop-color="#560e12"/><stop offset="0.600" stop-color="#520d11"/><stop offset="0.640" stop-color="#4f0d11"/><stop offset="0.670" stop-color="#590f13"/><stop offset="0.700" stop-color="#601014"/><stop offset="0.750" stop-color="#641115"/><stop offset="0.800" stop-color="#671116"/><stop offset="0.850" stop-color="#671116"/><stop offset="0.900" stop-color="#691116"/><stop offset="0.950" stop-color="#6e1217"/><stop offset="1.000" stop-color="#741318"/></linearGradient>
<linearGradient id="er132"><stop offset="0.000" stop-color="#270608"/><stop offset="0.015" stop-color="#4e0d11"/><stop offset="0.050" stop-color="#4f0d11"/><stop offset="0.100" stop-color="#500d11"/><stop offset="0.150" stop-color="#480c0f"/><stop offset="0.200" stop-color="#400a0e"/><stop offset="0.250" stop-color="#3b0a0c"/><stop offset="0.300" stop-color="#3c0a0d"/><stop offset="0.350" stop-color="#3d0a0d"/><stop offset="0.400" stop-color="#410b0e"/><stop offset="0.450" stop-color="#430b0e"/><stop offset="0.500" stop-color="#430b0e"/><stop offset="0.550" stop-color="#420b0e"/><stop offset="0.600" stop-color="#3f0a0d"/><stop offset="0.640" stop-color="#3d0a0d"/><stop offset="0.670" stop-color="#480c0f"/><stop offset="0.700" stop-color="#500d11"/><stop offset="0.750" stop-color="#550e12"/><stop offset="0.800" stop-color="#5a0f13"/><stop offset="0.850" stop-color="#5a0f13"/><stop offset="0.900" stop-color="#5a0f13"/><stop offset="0.950" stop-color="#5c0f13"/><stop offset="1.000" stop-color="#5e1014"/></linearGradient>
<linearGradient id="er133"><stop offset="0.000" stop-color="#250608"/><stop offset="0.015" stop-color="#4b0c10"/><stop offset="0.050" stop-color="#4b0c10"/><stop offset="0.100" stop-color="#4b0c10"/><stop offset="0.150" stop-color="#400a0e"/><stop offset="0.200" stop-color="#36090b"/><stop offset="0.250" stop-color="#2d070a"/><stop offset="0.300" stop-color="#2b0709"/><stop offset="0.350" stop-color="#290709"/><stop offset="0.400" stop-color="#2a0709"/><stop offset="0.450" stop-color="#2b0709"/><stop offset="0.500" stop-color="#2b0709"/><stop offset="0.550" stop-color="#2a0709"/><stop offset="0.600" stop-color="#290709"/><stop offset="0.640" stop-color="#2a0709"/><stop offset="0.670" stop-color="#37090c"/><stop offset="0.700" stop-color="#410b0e"/><stop offset="0.750" stop-color="#4a0c10"/><stop offset="0.800" stop-color="#520e11"/><stop offset="0.850" stop-color="#550e12"/><stop offset="0.900" stop-color="#570e12"/><stop offset="0.950" stop-color="#5a0f13"/><stop offset="1.000" stop-color="#5e0f14"/></linearGradient>
<linearGradient id="er134"><stop offset="0.000" stop-color="#2a0709"/><stop offset="0.015" stop-color="#510d11"/><stop offset="0.050" stop-color="#500d11"/><stop offset="0.100" stop-color="#4f0d11"/><stop offset="0.150" stop-color="#440b0e"/><stop offset="0.200" stop-color="#39090c"/><stop offset="0.250" stop-color="#2f080a"/><stop offset="0.300" stop-color="#2c0709"/><stop offset="0.350" stop-color="#290709"/><stop offset="0.400" stop-color="#290609"/><stop offset="0.450" stop-color="#290609"/><stop offset="0.500" stop-color="#280609"/><stop offset="0.550" stop-color="#280608"/><stop offset="0.600" stop-color="#280608"/><stop offset="0.640" stop-color="#290709"/><stop offset="0.670" stop-color="#37090c"/><stop offset="0.700" stop-color="#420b0e"/><stop offset="0.750" stop-color="#4c0d10"/><stop offset="0.800" stop-color="#550e12"/><stop offset="0.850" stop-color="#590f13"/><stop offset="0.900" stop-color="#5c0f13"/><stop offset="0.950" stop-color="#601014"/><stop offset="1.000" stop-color="#641115"/></linearGradient>
<linearGradient id="er135"><stop offset="0.000" stop-color="#38090c"/><stop offset="0.015" stop-color="#5f1014"/><stop offset="0.050" stop-color="#5e0f14"/><stop offset="0.100" stop-color="#5d0f14"/><stop offset="0.150" stop-color="#510d11"/><stop offset="0.200" stop-color="#450b0f"/><stop offset="0.250" stop-color="#3b0a0c"/><stop offset="0.300" stop-color="#37090c"/><stop offset="0.350" stop-color="#33080b"/><stop offset="0.400" stop-color="#32080a"/><stop offset="0.450" stop-color="#31080a"/><stop offset="0.500" stop-color="#2f080a"/><stop offset="0.550" stop-color="#2e070a"/><stop offset="0.600" stop-color="#2f080a"/><stop offset="0.640" stop-color="#31080a"/><stop offset="0.670" stop-color="#3f0a0d"/><stop offset="0.700" stop-color="#4b0c10"/><stop offset="0.750" stop-color="#560e12"/><stop offset="0.800" stop-color="#601014"/><stop offset="0.850" stop-color="#651115"/><stop offset="0.900" stop-color="#691116"/><stop offset="0.950" stop-color="#6e1217"/><stop offset="1.000" stop-color="#731318"/></linearGradient>
<linearGradient id="er136"><stop offset="0.000" stop-color="#4b0c10"/><stop offset="0.015" stop-color="#721318"/><stop offset="0.050" stop-color="#711318"/><stop offset="0.100" stop-color="#6f1217"/><stop offset="0.150" stop-color="#621015"/><stop offset="0.200" stop-color="#560e12"/><stop offset="0.250" stop-color="#4b0c10"/><stop offset="0.300" stop-color="#450b0f"/><stop offset="0.350" stop-color="#400a0e"/><stop offset="0.400" stop-color="#3e0a0d"/><stop offset="0.450" stop-color="#3b0a0d"/><stop offset="0.500" stop-color="#39090c"/><stop offset="0.550" stop-color="#37090c"/><stop offset="0.600" stop-color="#38090c"/><stop offset="0.640" stop-color="#3b0a0d"/><stop offset="0.670" stop-color="#4a0c10"/><stop offset="0.700" stop-color="#560e12"/><stop offset="0.750" stop-color="#631015"/><stop offset="0.800" stop-color="#6e1217"/><stop offset="0.850" stop-color="#731318"/><stop offset="0.900" stop-color="#791419"/><stop offset="0.950" stop-color="#7f151b"/><stop offset="1.000" stop-color="#84161c"/></linearGradient>
</defs>
<rect width="685" height="390" fill="#fff"/>
<text x="1.20" y="10.30" font-size="15" text-anchor="start" font-weight="bold" fill="#000" >a</text>
<text x="231.50" y="10.50" font-size="15" text-anchor="start" font-weight="bold" fill="#000" >b</text>
<text x="489.80" y="10.50" font-size="15" text-anchor="start" font-weight="bold" fill="#000" >c</text>
<text x="1.00" y="218.50" font-size="15" text-anchor="start" font-weight="bold" fill="#000" >d</text>
<text x="251.50" y="218.50" font-size="15" text-anchor="start" font-weight="bold" fill="#000" >e</text>
<text x="491.00" y="218.50" font-size="15" text-anchor="start" font-weight="bold" fill="#000" >f</text>
<text x="119.10" y="19.10" font-size="10.3" text-anchor="middle" font-weight="bold" fill="#000" >Without lobe</text>
<text x="349.10" y="19.20" font-size="10.3" text-anchor="middle" font-weight="bold" fill="#000" >With lobe</text>
<text x="104.50" y="218.20" font-size="10.3" text-anchor="middle" font-weight="bold" fill="#000" >Without lobe</text>
<text x="336.00" y="218.20" font-size="10.3" text-anchor="middle" font-weight="bold" fill="#000" >With lobe</text>
<g clip-path="url(#clipa)">
<path d="M34.60,60.00 L34.93,63.80 L35.26,74.62 L35.59,90.77 L35.91,109.69 L36.24,128.23 L36.57,143.01 L36.90,150.00 L37.22,144.22 L37.54,137.08 L37.86,129.17 L38.19,119.46 L38.51,109.71 L38.83,99.07 L39.15,88.23 L39.47,78.20 L39.79,68.19 L40.11,59.81 L40.44,52.26 L40.76,46.65 L41.08,43.20 L41.40,42.03 L41.71,43.03 L42.03,46.91 L42.34,53.00 L42.66,60.75 L42.97,69.43 L43.29,79.30 L43.60,90.38 L43.91,100.70 L44.23,112.13 L44.54,122.14 L44.86,131.64 L45.17,140.15 L45.49,147.53 L45.80,153.72 L46.16,147.32 L46.53,140.20 L46.89,131.54 L47.26,121.55 L47.62,111.06 L47.99,99.63 L48.35,88.43 L48.71,77.64 L49.08,67.77 L49.44,58.47 L49.81,50.71 L50.17,44.97 L50.54,40.99 L50.90,39.36 L51.19,41.25 L51.49,45.13 L51.78,50.83 L52.07,58.86 L52.36,68.08 L52.66,78.68 L52.95,89.64 L53.24,100.69 L53.54,112.43 L53.83,122.60 L54.12,132.75 L54.41,141.83 L54.71,148.91 L55.00,155.19 L55.44,150.10 L55.87,144.61 L56.31,137.70 L56.74,129.71 L57.18,121.41 L57.61,112.12 L58.05,103.42 L58.49,94.61 L58.92,86.42 L59.36,79.02 L59.79,73.13 L60.23,68.45 L60.66,65.01 L61.10,63.91 L61.39,64.74 L61.67,68.36 L61.96,73.16 L62.24,79.68 L62.53,87.01 L62.81,94.96 L63.10,103.93 L63.39,113.27 L63.67,121.88 L63.96,130.85 L64.24,138.65 L64.53,145.73 L64.81,151.73 L65.10,157.09 L65.46,152.57 L65.83,147.60 L66.19,141.75 L66.56,135.39 L66.92,127.58 L67.29,120.26 L67.65,112.68 L68.01,105.47 L68.38,98.45 L68.74,92.25 L69.11,86.59 L69.47,82.64 L69.84,79.94 L70.20,79.27 L70.51,80.38 L70.83,82.51 L71.14,86.63 L71.46,91.99 L71.77,98.31 L72.09,105.56 L72.40,113.19 L72.71,120.71 L73.03,128.22 L73.34,135.87 L73.66,142.62 L73.97,148.79 L74.29,154.19 L74.60,158.13 L75.01,154.15 L75.43,149.43 L75.84,143.82 L76.26,137.03 L76.67,130.75 L77.09,123.47 L77.50,116.28 L77.91,109.16 L78.33,102.27 L78.74,96.36 L79.16,91.17 L79.57,87.70 L79.99,84.78 L80.40,83.80 L80.71,84.89 L81.03,87.40 L81.34,91.40 L81.66,96.22 L81.97,102.14 L82.29,108.91 L82.60,116.00 L82.91,123.50 L83.23,130.51 L83.54,138.04 L83.86,144.26 L84.17,149.63 L84.49,154.53 L84.80,158.49 L85.28,153.73 L85.76,147.63 L86.24,141.16 L86.71,133.40 L87.19,124.52 L87.67,115.64 L88.15,106.39 L88.63,97.66 L89.11,89.65 L89.59,82.29 L90.06,76.52 L90.54,71.30 L91.02,68.09 L91.50,67.52 L91.81,68.35 L92.13,70.97 L92.44,75.64 L92.76,80.98 L93.07,88.10 L93.39,95.99 L93.70,104.00 L94.01,112.19 L94.33,120.11 L94.64,128.06 L94.96,135.20 L95.27,142.08 L95.59,147.40 L95.90,152.00 L96.26,148.06 L96.63,143.49 L96.99,138.61 L97.36,132.77 L97.72,126.23 L98.09,119.45 L98.45,112.66 L98.81,105.98 L99.18,99.42 L99.54,94.07 L99.91,89.29 L100.27,85.46 L100.64,83.10 L101.00,82.35 L101.45,83.33 L101.90,86.17 L102.35,90.22 L102.80,94.88 L103.25,101.17 L103.70,107.87 L104.15,114.96 L104.60,121.85 L105.05,128.98 L105.50,135.92 L105.95,142.29 L106.40,147.98 L106.85,153.10 L107.30,157.18 L107.68,152.65 L108.06,146.82 L108.44,140.39 L108.81,133.10 L109.19,124.61 L109.57,116.65 L109.95,108.39 L110.33,100.09 L110.71,92.38 L111.09,85.32 L111.46,79.32 L111.84,75.28 L112.22,72.03 L112.60,71.21 L112.91,72.44 L113.23,74.88 L113.54,79.21 L113.86,85.19 L114.17,91.70 L114.49,98.75 L114.80,106.68 L115.11,114.86 L115.43,123.49 L115.74,131.16 L116.06,137.85 L116.37,144.68 L116.69,150.19 L117.00,154.31 L117.51,151.23 L118.01,147.80 L118.52,143.32 L119.03,138.52 L119.54,134.08 L120.04,128.51 L120.55,123.03 L121.06,118.07 L121.56,112.81 L122.07,108.72 L122.58,104.99 L123.09,101.70 L123.59,99.86 L124.10,99.16 L124.40,99.92 L124.70,102.22 L125.00,105.12 L125.30,109.29 L125.60,113.90 L125.90,119.84 L126.20,125.20 L126.50,131.18 L126.80,137.13 L127.10,142.96 L127.40,147.80 L127.70,152.74 L128.00,156.36 L128.30,159.52 L128.71,155.44 L129.11,150.03 L129.52,144.36 L129.93,137.48 L130.34,130.09 L130.74,123.06 L131.15,114.96 L131.56,107.72 L131.96,100.91 L132.37,94.55 L132.78,89.14 L133.19,85.22 L133.59,82.58 L134.00,81.70 L134.47,82.21 L134.94,85.06 L135.41,88.68 L135.89,93.69 L136.36,99.96 L136.83,106.40 L137.30,113.51 L137.77,120.91 L138.24,128.22 L138.71,134.78 L139.19,141.26 L139.66,146.84 L140.13,151.64 L140.60,155.63 L141.06,152.83 L141.53,149.61 L141.99,145.71 L142.46,141.70 L142.92,136.82 L143.39,132.04 L143.85,127.12 L144.31,121.82 L144.78,117.51 L145.24,113.74 L145.71,110.26 L146.17,107.14 L146.64,105.41 L147.10,104.96 L147.38,105.40 L147.66,107.28 L147.94,109.86 L148.21,113.78 L148.49,118.01 L148.77,122.73 L149.05,127.18 L149.33,132.67 L149.61,137.68 L149.89,142.15 L150.16,147.13 L150.44,151.15 L150.72,153.99 L151.00,157.22 L151.44,154.36 L151.87,151.36 L152.31,148.11 L152.74,143.94 L153.18,139.08 L153.61,134.67 L154.05,130.10 L154.49,125.46 L154.92,121.14 L155.36,117.45 L155.79,114.55 L156.23,111.61 L156.66,110.37 L157.10,109.66 L157.60,110.01 L158.10,111.89 L158.60,114.61 L159.10,117.80 L159.60,121.37 L160.10,126.35 L160.60,130.85 L161.10,135.74 L161.60,139.85 L162.10,144.48 L162.60,148.49 L163.10,152.71 L163.60,155.51 L164.10,157.94 L164.57,155.37 L165.04,152.26 L165.51,148.13 L165.99,143.16 L166.46,138.13 L166.93,133.50 L167.40,128.03 L167.87,123.03 L168.34,117.85 L168.81,113.57 L169.29,110.42 L169.76,107.47 L170.23,105.41 L170.70,105.31 L171.07,105.84 L171.44,107.86 L171.81,110.26 L172.19,114.56 L172.56,118.47 L172.93,124.02 L173.30,129.07 L173.67,134.47 L174.04,140.05 L174.41,145.50 L174.79,149.84 L175.16,154.00 L175.53,157.90 L175.90,160.62 L176.52,158.43 L177.14,155.87 L177.76,152.73 L178.39,149.38 L179.01,145.73 L179.63,141.82 L180.25,138.20 L180.87,134.04 L181.49,130.60 L182.11,127.17 L182.74,124.58 L183.36,122.27 L183.98,121.06 L184.60,120.36 L184.91,121.33 L185.23,122.39 L185.54,123.94 L185.86,126.49 L186.17,129.59 L186.49,132.13 L186.80,135.96 L187.11,139.10 L187.43,142.53 L187.74,146.01 L188.06,148.69 L188.37,151.43 L188.69,153.81 L189.00,155.84 L189.56,152.73 L190.13,149.76 L190.69,145.78 L191.26,141.34 L191.82,136.43 L192.39,131.43 L192.95,126.22 L193.51,121.39 L194.08,116.79 L194.64,113.18 L195.21,109.40 L195.77,106.69 L196.34,104.89 L196.90,104.74 L197.26,105.51 L197.63,107.29 L197.99,109.95 L198.36,113.71 L198.72,118.25 L199.09,123.41 L199.45,128.58 L199.81,134.31 L200.18,139.66 L200.54,145.39 L200.91,150.24 L201.27,154.24 L201.64,157.68 L202.00,161.13 L203.30,161.00" fill="none" stroke="#cf3441" stroke-width="1.0" stroke-linejoin="round" />
</g>
<g clip-path="url(#clipb)">
<path d="M264.80,145.90 L264.92,147.15 L265.04,150.06 L265.16,147.62 L265.28,150.65 L265.40,150.12 L265.52,154.21 L265.64,151.27 L265.76,153.86 L265.88,152.77 L266.00,152.49 L266.12,150.86 L266.24,152.04 L266.36,151.39 L266.48,147.96 L266.60,146.41 L266.72,142.04 L266.84,137.98 L266.96,138.75 L267.08,140.66 L267.20,143.92 L267.32,145.71 L267.44,147.81 L267.56,152.30 L267.68,150.94 L267.80,153.96 L267.92,154.67 L268.04,150.29 L268.16,151.27 L268.28,147.05 L268.40,146.02 L268.52,144.58 L268.64,142.00 L268.76,141.22 L268.88,142.31 L269.00,144.76 L269.12,147.75 L269.24,150.27 L269.36,153.25 L269.48,152.41 L269.60,151.86 L269.72,149.45 L269.84,147.53 L269.96,141.64 L270.08,136.35 L270.20,131.94 L270.32,121.86 L270.44,120.01 L270.56,120.40 L270.68,126.79 L270.80,133.70 L270.92,137.38 L271.04,144.49 L271.16,145.76 L271.28,147.46 L271.40,142.62 L271.52,140.91 L271.64,137.87 L271.76,130.92 L271.88,130.36 L272.00,122.01 L272.12,107.78 L272.24,97.56 L272.36,101.08 L272.48,115.57 L272.60,126.82 L272.72,133.07 L272.84,142.59 L272.96,146.66 L273.08,149.40 L273.20,149.87 L273.32,150.68 L273.44,150.23 L273.56,148.67 L273.68,147.72 L273.80,147.27 L273.92,145.42 L274.04,141.02 L274.16,139.43 L274.28,138.35 L274.40,142.38 L274.52,141.78 L274.64,144.29 L274.76,150.13 L274.88,151.00 L275.00,150.09 L275.12,151.22 L275.24,146.52 L275.36,146.82 L275.48,143.47 L275.60,144.79 L275.72,146.16 L275.84,148.18 L275.96,149.08 L276.08,149.54 L276.20,152.12 L276.32,149.69 L276.44,150.30 L276.56,148.25 L276.68,149.69 L276.80,151.37 L276.92,152.74 L277.04,153.90 L277.16,151.66 L277.28,152.86 L277.40,153.52 L277.52,149.44 L277.64,149.85 L277.76,151.97 L277.88,148.98 L278.00,149.93 L278.12,151.20 L278.24,151.52 L278.36,149.55 L278.48,152.32 L278.60,150.35 L278.72,148.87 L278.84,147.88 L278.96,145.32 L279.08,141.42 L279.20,141.78 L279.32,143.45 L279.44,143.81 L279.56,145.33 L279.68,142.74 L279.80,146.78 L279.92,145.05 L280.04,147.08 L280.16,148.76 L280.28,146.71 L280.40,145.32 L280.52,145.26 L280.64,140.70 L280.76,139.89 L280.88,135.54 L281.00,138.21 L281.12,139.33 L281.24,141.44 L281.36,143.70 L281.48,144.32 L281.60,144.77 L281.72,141.43 L281.84,137.62 L281.96,136.80 L282.08,131.28 L282.20,121.99 L282.32,117.93 L282.44,114.99 L282.56,116.97 L282.68,126.69 L282.80,130.39 L282.92,136.76 L283.04,143.36 L283.16,145.72 L283.28,145.71 L283.40,149.50 L283.52,149.12 L283.64,146.15 L283.76,142.58 L283.88,140.92 L284.00,133.85 L284.12,127.70 L284.24,112.82 L284.36,101.05 L284.48,96.48 L284.60,109.40 L284.72,117.17 L284.84,131.00 L284.96,136.87 L285.08,140.89 L285.20,145.42 L285.32,148.63 L285.44,151.23 L285.56,148.15 L285.68,150.86 L285.80,145.83 L285.92,144.87 L286.04,143.12 L286.16,142.27 L286.28,142.77 L286.40,142.12 L286.52,141.51 L286.64,142.86 L286.76,145.67 L286.88,145.68 L287.00,150.51 L287.12,151.32 L287.24,153.31 L287.36,153.39 L287.48,151.85 L287.60,152.16 L287.72,154.44 L287.84,153.18 L287.96,152.72 L288.08,148.73 L288.20,147.47 L288.32,146.02 L288.44,143.78 L288.56,140.80 L288.68,142.86 L288.80,142.13 L288.92,143.25 L289.04,145.06 L289.16,145.83 L289.28,147.58 L289.40,148.56 L289.52,146.77 L289.64,145.87 L289.76,142.38 L289.88,137.05 L290.00,124.03 L290.12,112.58 L290.24,99.72 L290.36,96.27 L290.48,102.37 L290.60,108.41 L290.72,118.52 L290.84,123.07 L290.96,130.89 L291.08,134.35 L291.20,139.30 L291.32,139.94 L291.44,141.50 L291.56,141.84 L291.68,141.65 L291.80,139.83 L291.92,138.88 L292.04,140.59 L292.16,142.98 L292.28,144.97 L292.40,142.96 L292.52,143.91 L292.64,148.25 L292.76,146.65 L292.88,146.93 L293.00,147.61 L293.12,145.11 L293.24,143.77 L293.36,144.45 L293.48,137.03 L293.60,137.51 L293.72,134.13 L293.84,127.50 L293.96,128.35 L294.08,123.64 L294.20,121.56 L294.32,127.53 L294.44,134.08 L294.56,136.86 L294.68,142.05 L294.80,143.72 L294.92,144.56 L295.04,143.93 L295.16,142.42 L295.28,140.26 L295.40,135.54 L295.52,134.47 L295.64,128.72 L295.76,125.03 L295.88,115.43 L296.00,108.31 L296.12,100.26 L296.24,98.27 L296.36,111.69 L296.48,125.48 L296.60,133.04 L296.72,140.06 L296.84,143.38 L296.96,144.95 L297.08,145.10 L297.20,145.32 L297.32,149.79 L297.44,149.45 L297.56,153.16 L297.68,153.05 L297.80,154.83 L297.92,154.76 L298.04,153.75 L298.16,154.78 L298.28,154.28 L298.40,151.95 L298.52,153.17 L298.64,150.94 L298.76,148.00 L298.88,146.04 L299.00,144.27 L299.12,146.68 L299.24,144.91 L299.36,146.43 L299.48,145.63 L299.60,146.42 L299.72,151.16 L299.84,152.12 L299.96,150.88 L300.08,154.44 L300.20,153.81 L300.32,153.12 L300.44,155.27 L300.56,152.52 L300.68,154.66 L300.80,152.29 L300.92,151.49 L301.04,149.29 L301.16,148.36 L301.28,147.71 L301.40,143.53 L301.52,145.60 L301.64,144.02 L301.76,145.24 L301.88,145.85 L302.00,148.07 L302.12,150.99 L302.24,154.19 L302.36,152.36 L302.48,155.49 L302.60,151.65 L302.72,153.99 L302.84,153.22 L302.96,151.95 L303.08,149.44 L303.20,145.55 L303.32,143.15 L303.44,141.75 L303.56,140.14 L303.68,140.99 L303.80,139.49 L303.92,138.42 L304.04,136.88 L304.16,134.70 L304.28,136.08 L304.40,143.97 L304.52,143.41 L304.64,146.50 L304.76,150.82 L304.88,150.86 L305.00,150.98 L305.12,153.96 L305.24,151.48 L305.36,148.40 L305.48,147.18 L305.60,144.52 L305.72,145.73 L305.84,140.08 L305.96,139.71 L306.08,137.20 L306.20,142.03 L306.32,141.84 L306.44,145.78 L306.56,143.93 L306.68,145.43 L306.80,148.93 L306.92,146.64 L307.04,144.78 L307.16,137.69 L307.28,131.26 L307.40,127.26 L307.52,118.71 L307.64,120.16 L307.76,127.95 L307.88,132.32 L308.00,138.16 L308.12,140.52 L308.24,144.26 L308.36,144.98 L308.48,142.40 L308.60,143.52 L308.72,139.55 L308.84,132.40 L308.96,130.75 L309.08,125.70 L309.20,113.08 L309.32,108.34 L309.44,99.10 L309.56,102.31 L309.68,115.24 L309.80,127.82 L309.92,136.03 L310.04,144.86 L310.16,147.16 L310.28,151.38 L310.40,152.92 L310.52,153.57 L310.64,154.04 L310.76,153.87 L310.88,153.91 L311.00,151.17 L311.12,151.39 L311.24,151.66 L311.36,150.11 L311.48,150.57 L311.60,152.43 L311.72,151.56 L311.84,151.15 L311.96,151.85 L312.08,150.27 L312.20,149.97 L312.32,147.86 L312.44,150.22 L312.56,148.13 L312.68,146.24 L312.80,147.77 L312.92,145.59 L313.04,148.74 L313.16,146.34 L313.28,148.80 L313.40,147.56 L313.52,150.02 L313.64,150.54 L313.76,152.52 L313.88,152.94 L314.00,150.25 L314.12,150.80 L314.24,149.92 L314.36,150.94 L314.48,149.70 L314.60,146.93 L314.72,151.35 L314.84,150.83 L314.96,150.35 L315.08,150.64 L315.20,149.10 L315.32,145.29 L315.44,144.63 L315.56,146.24 L315.68,145.71 L315.80,147.08 L315.92,147.73 L316.04,149.62 L316.16,152.81 L316.28,151.41 L316.40,152.42 L316.52,153.05 L316.64,150.33 L316.76,147.61 L316.88,145.98 L317.00,142.66 L317.12,141.91 L317.24,144.36 L317.36,147.82 L317.48,147.50 L317.60,149.05 L317.72,147.17 L317.84,143.60 L317.96,145.97 L318.08,144.16 L318.20,144.69 L318.32,145.97 L318.44,146.34 L318.56,147.94 L318.68,144.40 L318.80,142.01 L318.92,144.91 L319.04,143.88 L319.16,141.58 L319.28,137.28 L319.40,138.47 L319.52,133.87 L319.64,135.25 L319.76,130.90 L319.88,126.99 L320.00,123.02 L320.12,122.44 L320.24,118.12 L320.36,124.06 L320.48,132.84 L320.60,135.70 L320.72,140.38 L320.84,144.07 L320.96,142.95 L321.08,139.53 L321.20,140.42 L321.32,141.03 L321.44,138.90 L321.56,137.12 L321.68,132.67 L321.80,129.00 L321.92,124.58 L322.04,115.46 L322.16,99.08 L322.28,94.87 L322.40,97.93 L322.52,114.15 L322.64,123.78 L322.76,133.34 L322.88,138.48 L323.00,140.70 L323.12,143.73 L323.24,144.83 L323.36,145.71 L323.48,148.03 L323.60,148.57 L323.72,150.93 L323.84,152.48 L323.96,149.22 L324.08,149.16 L324.20,146.43 L324.32,145.09 L324.44,148.10 L324.56,151.17 L324.68,153.00 L324.80,154.26 L324.92,156.10 L325.04,157.37 L325.16,156.41 L325.28,155.11 L325.40,153.89 L325.52,153.29 L325.64,151.49 L325.76,150.22 L325.88,149.91 L326.00,146.80 L326.12,147.09 L326.24,142.78 L326.36,142.78 L326.48,145.41 L326.60,146.29 L326.72,149.11 L326.84,148.66 L326.96,151.51 L327.08,150.50 L327.20,149.75 L327.32,149.89 L327.44,150.81 L327.56,150.04 L327.68,146.51 L327.80,146.13 L327.92,148.93 L328.04,148.12 L328.16,146.06 L328.28,145.83 L328.40,147.21 L328.52,145.76 L328.64,142.97 L328.76,146.97 L328.88,146.70 L329.00,145.36 L329.12,144.59 L329.24,145.09 L329.36,148.49 L329.48,148.36 L329.60,148.85 L329.72,153.06 L329.84,154.03 L329.96,153.60 L330.08,149.83 L330.20,150.30 L330.32,145.52 L330.44,140.63 L330.56,141.93 L330.68,139.02 L330.80,139.31 L330.92,137.13 L331.04,139.90 L331.16,141.69 L331.28,142.42 L331.40,146.07 L331.52,151.01 L331.64,149.14 L331.76,151.64 L331.88,148.35 L332.00,147.30 L332.12,148.07 L332.24,146.35 L332.36,145.20 L332.48,143.47 L332.60,143.00 L332.72,143.22 L332.84,141.27 L332.96,145.69 L333.08,143.84 L333.20,143.47 L333.32,140.99 L333.44,138.82 L333.56,132.13 L333.68,129.50 L333.80,123.02 L333.92,114.52 L334.04,115.50 L334.16,116.99 L334.28,125.35 L334.40,133.78 L334.52,138.05 L334.64,144.92 L334.76,145.79 L334.88,147.43 L335.00,147.80 L335.12,147.06 L335.24,145.21 L335.36,142.29 L335.48,143.33 L335.60,137.74 L335.72,136.41 L335.84,126.37 L335.96,122.10 L336.08,111.05 L336.20,97.25 L336.32,79.10 L336.44,76.92 L336.56,90.46 L336.68,111.30 L336.80,127.22 L336.92,135.48 L337.04,143.46 L337.16,144.61 L337.28,148.65 L337.40,147.93 L337.52,149.86 L337.64,146.51 L337.76,145.81 L337.88,144.08 L338.00,142.59 L338.12,141.31 L338.24,146.01 L338.36,148.81 L338.48,150.60 L338.60,151.79 L338.72,156.02 L338.84,154.80 L338.96,154.62 L339.08,154.59 L339.20,156.41 L339.32,155.70 L339.44,153.97 L339.56,155.53 L339.68,153.59 L339.80,151.55 L339.92,148.88 L340.04,149.78 L340.16,146.84 L340.28,148.38 L340.40,149.38 L340.52,149.71 L340.64,150.73 L340.76,152.28 L340.88,151.96 L341.00,156.03 L341.12,154.97 L341.24,155.33 L341.36,156.12 L341.48,152.83 L341.60,155.34 L341.72,153.54 L341.84,152.26 L341.96,147.29 L342.08,144.35 L342.20,143.52 L342.32,138.57 L342.44,139.58 L342.56,142.90 L342.68,142.44 L342.80,146.08 L342.92,151.25 L343.04,150.66 L343.16,155.14 L343.28,155.04 L343.40,155.12 L343.52,152.69 L343.64,155.73 L343.76,155.08 L343.88,155.25 L344.00,151.52 L344.12,153.09 L344.24,148.31 L344.36,148.68 L344.48,145.46 L344.60,141.43 L344.72,141.97 L344.84,138.72 L344.96,137.40 L345.08,139.17 L345.20,143.18 L345.32,145.39 L345.44,149.63 L345.56,152.09 L345.68,153.67 L345.80,151.67 L345.92,151.97 L346.04,150.55 L346.16,153.07 L346.28,149.55 L346.40,149.11 L346.52,146.76 L346.64,143.06 L346.76,143.21 L346.88,142.73 L347.00,141.13 L347.12,143.26 L347.24,139.18 L347.36,140.63 L347.48,141.64 L347.60,137.17 L347.72,130.12 L347.84,123.26 L347.96,118.75 L348.08,114.87 L348.20,113.30 L348.32,124.03 L348.44,131.97 L348.56,135.45 L348.68,136.30 L348.80,135.34 L348.92,137.70 L349.04,135.04 L349.16,131.36 L349.28,132.74 L349.40,133.14 L349.52,129.59 L349.64,130.29 L349.76,125.92 L349.88,121.34 L350.00,108.21 L350.12,93.75 L350.24,74.92 L350.36,75.63 L350.48,91.11 L350.60,108.73 L350.72,118.96 L350.84,128.02 L350.96,133.14 L351.08,132.84 L351.20,135.59 L351.32,138.15 L351.44,140.24 L351.56,144.14 L351.68,144.70 L351.80,149.25 L351.92,148.95 L352.04,153.97 L352.16,153.81 L352.28,153.25 L352.40,151.75 L352.52,152.13 L352.64,149.98 L352.76,151.11 L352.88,149.97 L353.00,150.27 L353.12,152.32 L353.24,155.52 L353.36,153.87 L353.48,156.42 L353.60,155.23 L353.72,155.38 L353.84,152.25 L353.96,154.16 L354.08,151.66 L354.20,154.10 L354.32,153.83 L354.44,152.15 L354.56,151.40 L354.68,155.04 L354.80,152.89 L354.92,153.30 L355.04,151.38 L355.16,152.06 L355.28,150.54 L355.40,148.65 L355.52,143.60 L355.64,143.82 L355.76,142.15 L355.88,143.76 L356.00,142.30 L356.12,143.04 L356.24,148.40 L356.36,148.32 L356.48,149.99 L356.60,150.66 L356.72,153.36 L356.84,153.03 L356.96,153.72 L357.08,150.51 L357.20,150.60 L357.32,146.72 L357.44,144.24 L357.56,140.96 L357.68,141.83 L357.80,145.77 L357.92,147.21 L358.04,148.47 L358.16,150.05 L358.28,149.70 L358.40,152.07 L358.52,150.37 L358.64,149.93 L358.76,149.43 L358.88,146.88 L359.00,147.16 L359.12,144.20 L359.24,148.24 L359.36,144.95 L359.48,146.35 L359.60,146.75 L359.72,147.12 L359.84,142.93 L359.96,140.95 L360.08,143.77 L360.20,144.15 L360.32,147.37 L360.44,150.93 L360.56,148.02 L360.68,150.50 L360.80,148.44 L360.92,144.86 L361.04,141.62 L361.16,139.25 L361.28,140.01 L361.40,136.75 L361.52,140.40 L361.64,139.39 L361.76,141.23 L361.88,139.91 L362.00,140.82 L362.12,139.77 L362.24,135.71 L362.36,132.95 L362.48,124.85 L362.60,116.97 L362.72,107.37 L362.84,105.84 L362.96,108.26 L363.08,119.74 L363.20,122.96 L363.32,130.65 L363.44,135.65 L363.56,139.97 L363.68,139.71 L363.80,139.31 L363.92,140.95 L364.04,134.84 L364.16,137.22 L364.28,135.33 L364.40,134.70 L364.52,132.45 L364.64,130.29 L364.76,121.88 L364.88,118.07 L365.00,102.21 L365.12,80.01 L365.24,61.69 L365.36,63.16 L365.48,82.30 L365.60,106.63 L365.72,120.93 L365.84,130.85 L365.96,135.27 L366.08,139.93 L366.20,141.63 L366.32,141.38 L366.44,143.20 L366.56,142.49 L366.68,144.52 L366.80,144.04 L366.92,145.93 L367.04,147.29 L367.16,148.20 L367.28,150.29 L367.40,150.82 L367.52,155.01 L367.64,152.61 L367.76,154.99 L367.88,155.04 L368.00,153.98 L368.12,150.81 L368.24,149.17 L368.36,148.21 L368.48,148.77 L368.60,148.26 L368.72,147.49 L368.84,145.87 L368.96,146.65 L369.08,150.40 L369.20,151.92 L369.32,149.03 L369.44,152.35 L369.56,153.00 L369.68,150.31 L369.80,149.78 L369.92,144.57 L370.04,143.54 L370.16,141.44 L370.28,139.39 L370.40,143.54 L370.52,145.18 L370.64,145.30 L370.76,148.64 L370.88,151.53 L371.00,153.53 L371.12,153.54 L371.24,152.69 L371.36,153.00 L371.48,153.21 L371.60,152.75 L371.72,155.98 L371.84,155.39 L371.96,150.46 L372.08,150.25 L372.20,145.25 L372.32,141.21 L372.44,135.69 L372.56,137.72 L372.68,141.36 L372.80,145.15 L372.92,146.05 L373.04,149.57 L373.16,154.44 L373.28,151.67 L373.40,154.72 L373.52,152.74 L373.64,152.60 L373.76,149.73 L373.88,149.80 L374.00,150.04 L374.12,146.93 L374.24,145.25 L374.36,147.71 L374.48,145.99 L374.60,147.52 L374.72,146.61 L374.84,144.55 L374.96,143.44 L375.08,142.28 L375.20,141.42 L375.32,145.01 L375.44,145.12 L375.56,148.24 L375.68,147.22 L375.80,145.67 L375.92,145.98 L376.04,146.79 L376.16,142.06 L376.28,144.89 L376.40,141.33 L376.52,138.19 L376.64,140.36 L376.76,138.93 L376.88,136.67 L377.00,132.23 L377.12,123.90 L377.24,119.52 L377.36,108.71 L377.48,98.30 L377.60,103.23 L377.72,108.45 L377.84,115.53 L377.96,124.39 L378.08,127.92 L378.20,127.00 L378.32,128.73 L378.44,133.01 L378.56,137.31 L378.68,141.87 L378.80,141.71 L378.92,144.98 L379.04,143.86 L379.16,144.02 L379.28,139.30 L379.40,136.48 L379.52,133.66 L379.64,129.22 L379.76,123.62 L379.88,114.49 L380.00,99.78 L380.12,74.28 L380.24,62.05 L380.36,59.21 L380.48,81.26 L380.60,101.89 L380.72,118.44 L380.84,124.77 L380.96,130.12 L381.08,134.45 L381.20,136.56 L381.32,137.11 L381.44,143.30 L381.56,143.84 L381.68,148.07 L381.80,150.78 L381.92,152.70 L382.04,153.62 L382.16,156.18 L382.28,156.14 L382.40,156.08 L382.52,156.77 L382.64,157.33 L382.76,154.96 L382.88,155.97 L383.00,154.19 L383.12,154.92 L383.24,151.71 L383.36,153.83 L383.48,152.40 L383.60,152.90 L383.72,151.99 L383.84,155.53 L383.96,154.93 L384.08,156.04 L384.20,155.77 L384.32,157.46 L384.44,156.17 L384.56,153.89 L384.68,157.01 L384.80,152.78 L384.92,151.98 L385.04,153.35 L385.16,153.75 L385.28,151.40 L385.40,148.67 L385.52,152.09 L385.64,149.10 L385.76,149.00 L385.88,151.76 L386.00,149.93 L386.12,151.74 L386.24,152.05 L386.36,150.90 L386.48,152.46 L386.60,151.49 L386.72,152.14 L386.84,152.82 L386.96,148.83 L387.08,151.35 L387.20,147.30 L387.32,149.26 L387.44,146.99 L387.56,149.36 L387.68,151.19 L387.80,153.06 L387.92,150.54 L388.04,149.95 L388.16,147.92 L388.28,147.36 L388.40,143.16 L388.52,141.43 L388.64,142.11 L388.76,144.55 L388.88,145.32 L389.00,148.82 L389.12,148.96 L389.24,152.07 L389.36,151.85 L389.48,152.48 L389.60,153.51 L389.72,156.04 L389.84,155.38 L389.96,156.03 L390.08,154.56 L390.20,154.49 L390.32,152.80 L390.44,148.87 L390.56,149.74 L390.68,143.18 L390.80,139.84 L390.92,137.75 L391.04,139.28 L391.16,140.34 L391.28,141.94 L391.40,143.47 L391.52,143.77 L391.64,149.46 L391.76,150.32 L391.88,147.45 L392.00,151.30 L392.12,146.82 L392.24,149.47 L392.36,143.90 L392.48,144.48 L392.60,141.08 L392.72,136.73 L392.84,132.90 L392.96,129.71 L393.08,121.84 L393.20,110.69 L393.32,105.78 L393.44,105.11 L393.56,109.87 L393.68,120.51 L393.80,129.94 L393.92,139.11 L394.04,143.40 L394.16,147.31 L394.28,145.16 L394.40,150.44 L394.52,150.38 L394.64,150.81 L394.76,147.52 L394.88,141.74 L395.00,143.60 L395.12,138.94 L395.24,135.77 L395.36,131.51 L395.48,132.99 L395.60,132.99 L395.72,126.67 L395.84,117.79 L395.96,108.78 L396.08,88.24 L396.20,62.65 L396.32,50.24 L396.44,71.75 L396.56,95.47 L396.68,111.10 L396.80,124.33 L396.92,133.23 L397.04,139.53 L397.16,141.21 L397.28,145.54 L397.40,147.94 L397.52,150.04 L397.64,148.40 L397.76,153.19 L397.88,153.03 L398.00,152.43 L398.12,155.51 L398.24,155.21 L398.36,153.72 L398.48,154.68 L398.60,155.80 L398.72,153.91 L398.84,150.97 L398.96,150.51 L399.08,148.37 L399.20,150.50 L399.32,149.06 L399.44,146.57 L399.56,147.97 L399.68,144.67 L399.80,148.54 L399.92,149.00 L400.04,149.22 L400.16,152.78 L400.28,152.71 L400.40,156.19 L400.52,155.78 L400.64,154.88 L400.76,155.92 L400.88,156.60 L401.00,153.17 L401.12,154.50 L401.24,151.26 L401.36,153.16 L401.48,150.57 L401.60,153.29 L401.72,151.13 L401.84,149.86 L401.96,151.22 L402.08,151.94 L402.20,149.37 L402.32,149.72 L402.44,150.83 L402.56,153.69 L402.68,154.17 L402.80,151.84 L402.92,153.23 L403.04,152.82 L403.16,150.34 L403.28,148.10 L403.40,150.90 L403.52,148.56 L403.64,148.12 L403.76,148.47 L403.88,152.24 L404.00,151.86 L404.12,147.66 L404.24,146.79 L404.36,149.84 L404.48,150.21 L404.60,149.11 L404.72,153.05 L404.84,154.15 L404.96,154.59 L405.08,152.78 L405.20,152.70 L405.32,148.32 L405.44,148.19 L405.56,141.29 L405.68,139.19 L405.80,140.42 L405.92,140.81 L406.04,143.29 L406.16,148.65 L406.28,146.91 L406.40,149.93 L406.52,148.75 L406.64,145.11 L406.76,146.42 L406.88,144.08 L407.00,145.54 L407.12,144.46 L407.24,148.99 L407.36,147.94 L407.48,148.25 L407.60,145.95 L407.72,148.22 L407.84,144.62 L407.96,139.97 L408.08,139.55 L408.20,139.52 L408.32,136.72 L408.44,136.03 L408.56,137.68 L408.68,137.19 L408.80,136.23 L408.92,130.91 L409.04,122.04 L409.16,116.04 L409.28,104.02 L409.40,103.45 L409.52,107.01 L409.64,114.41 L409.76,122.97 L409.88,131.08 L410.00,139.33 L410.12,143.33 L410.24,147.69 L410.36,147.14 L410.48,145.87 L410.60,148.76 L410.72,146.33 L410.84,144.74 L410.96,139.43 L411.08,135.99 L411.20,130.11 L411.32,130.52 L411.44,127.56 L411.56,129.95 L411.68,124.10 L411.80,113.33 L411.92,101.23 L412.04,76.24 L412.16,57.87 L412.28,65.11 L412.40,85.21 L412.52,101.98 L412.64,120.35 L412.76,128.12 L412.88,135.12 L413.00,139.60 L413.12,140.91 L413.24,145.53 L413.36,145.63 L413.48,147.50 L413.60,149.77 L413.72,152.12 L413.84,151.76 L413.96,149.42 L414.08,152.49 L414.20,151.57 L414.32,153.53 L414.44,152.08 L414.56,152.92 L414.68,152.59 L414.80,154.17 L414.92,155.87 L415.04,152.71 L415.16,152.74 L415.28,149.99 L415.40,150.71 L415.52,150.71 L415.64,150.07 L415.76,150.06 L415.88,150.51 L416.00,152.14 L416.12,152.50 L416.24,155.09 L416.36,157.23 L416.48,155.16 L416.60,156.15 L416.72,158.47 L416.84,157.34 L416.96,155.44 L417.08,156.06 L417.20,156.68 L417.32,152.04 L417.44,150.65 L417.56,150.98 L417.68,148.03 L417.80,147.53 L417.92,150.16 L418.04,150.35 L418.16,153.94 L418.28,157.04 L418.40,155.29 L418.52,154.69 L418.64,154.14 L418.76,154.51 L418.88,153.06 L419.00,152.91 L419.12,153.31 L419.24,153.62 L419.36,152.14 L419.48,151.61 L419.60,147.36 L419.72,147.30 L419.84,146.23 L419.96,146.37 L420.08,147.68 L420.20,147.53 L420.32,150.34 L420.44,151.05 L420.56,151.36 L420.68,153.73 L420.80,153.61 L420.92,153.17 L421.04,154.52 L421.16,153.88 L421.28,153.09 L421.40,150.17 L421.52,146.81 L421.64,147.33 L421.76,145.17 L421.88,143.91 L422.00,141.94 L422.12,140.56 L422.24,141.44 L422.36,144.06 L422.48,145.70 L422.60,147.84 L422.72,149.84 L422.84,149.99 L422.96,150.70 L423.08,150.94 L423.20,150.16 L423.32,146.14 L423.44,143.39 L423.56,143.68 L423.68,145.03 L423.80,141.27 L423.92,139.30 L424.04,139.69 L424.16,139.83 L424.28,140.52 L424.40,144.07 L424.52,143.25 L424.64,144.84 L424.76,140.12 L424.88,140.33 L425.00,141.86 L425.12,140.58 L425.24,140.72 L425.36,143.57 L425.48,144.02 L425.60,140.47 L425.72,136.09 L425.84,132.54 L425.96,131.13 L426.08,123.89 L426.20,118.12 L426.32,117.09 L426.44,119.17 L426.56,127.05 L426.68,131.41 L426.80,132.56 L426.92,135.61 L427.04,133.64 L427.16,138.58 L427.28,139.54 L427.40,141.50 L427.52,140.07 L427.64,144.53 L427.76,146.71 L427.88,145.58 L428.00,143.51 L428.12,144.07 L428.24,140.61 L428.36,137.75 L428.48,136.78 L428.60,134.74 L428.72,127.53 L428.84,126.44 L428.96,121.11 L429.08,109.98 L429.20,93.28 L429.32,79.19 L429.44,79.05 L429.56,96.02 L429.68,114.38 L429.80,125.48 L429.92,136.07 L430.04,141.29 L430.16,143.59 L430.28,146.04 L430.40,145.30 L430.52,144.88 L430.64,146.03 L430.76,145.80 L430.88,144.39 L431.00,144.95 L431.12,145.29 L431.24,143.72 L431.36,146.23 L431.48,149.43 L431.60,149.99 L431.72,152.13 L431.84,154.71 L431.96,156.16 L432.08,154.87 L432.20,154.65 L432.32,154.86 L432.44,156.09 L432.56,157.44 L432.68,155.03 L432.80,155.52 L432.92,154.03 L433.04,151.54 L433.16,149.95 L433.28,147.84 L433.40,142.25 L433.52,145.67 L433.64,142.12 L433.76,145.01" fill="none" stroke="#c61f30" stroke-width="0.8" stroke-linejoin="round" />
</g>
<line x1="34.50" y1="158.70" x2="37.00" y2="158.70" stroke="#3a3a3a" stroke-width="1" />
<text x="30.90" y="162.40" font-size="10.4" text-anchor="end" fill="#231f20" >0</text>
<line x1="34.50" y1="134.04" x2="37.00" y2="134.04" stroke="#3a3a3a" stroke-width="1" />
<text x="30.90" y="137.74" font-size="10.4" text-anchor="end" fill="#231f20" >2</text>
<line x1="34.50" y1="109.38" x2="37.00" y2="109.38" stroke="#3a3a3a" stroke-width="1" />
<text x="30.90" y="113.08" font-size="10.4" text-anchor="end" fill="#231f20" >4</text>
<line x1="34.50" y1="84.72" x2="37.00" y2="84.72" stroke="#3a3a3a" stroke-width="1" />
<text x="30.90" y="88.42" font-size="10.4" text-anchor="end" fill="#231f20" >6</text>
<line x1="34.50" y1="60.06" x2="37.00" y2="60.06" stroke="#3a3a3a" stroke-width="1" />
<text x="30.90" y="63.76" font-size="10.4" text-anchor="end" fill="#231f20" >8</text>
<line x1="34.50" y1="35.40" x2="37.00" y2="35.40" stroke="#3a3a3a" stroke-width="1" />
<text x="30.90" y="39.10" font-size="10.4" text-anchor="end" fill="#231f20" >10</text>
<line x1="56.99" y1="161.50" x2="56.99" y2="159.00" stroke="#3a3a3a" stroke-width="1" />
<text x="56.99" y="173.60" font-size="10.4" text-anchor="middle" fill="#231f20" >820</text>
<line x1="79.57" y1="161.50" x2="79.57" y2="159.00" stroke="#3a3a3a" stroke-width="1" />
<text x="79.57" y="173.60" font-size="10.4" text-anchor="middle" fill="#231f20" >840</text>
<line x1="102.16" y1="161.50" x2="102.16" y2="159.00" stroke="#3a3a3a" stroke-width="1" />
<text x="102.16" y="173.60" font-size="10.4" text-anchor="middle" fill="#231f20" >860</text>
<line x1="124.74" y1="161.50" x2="124.74" y2="159.00" stroke="#3a3a3a" stroke-width="1" />
<text x="124.74" y="173.60" font-size="10.4" text-anchor="middle" fill="#231f20" >880</text>
<line x1="147.33" y1="161.50" x2="147.33" y2="159.00" stroke="#3a3a3a" stroke-width="1" />
<text x="147.33" y="173.60" font-size="10.4" text-anchor="middle" fill="#231f20" >900</text>
<line x1="169.92" y1="161.50" x2="169.92" y2="159.00" stroke="#3a3a3a" stroke-width="1" />
<text x="169.92" y="173.60" font-size="10.4" text-anchor="middle" fill="#231f20" >920</text>
<line x1="192.50" y1="161.50" x2="192.50" y2="159.00" stroke="#3a3a3a" stroke-width="1" />
<text x="192.50" y="173.60" font-size="10.4" text-anchor="middle" fill="#231f20" >940</text>
<text x="119.00" y="188.60" font-size="10.4" text-anchor="middle" fill="#231f20" >Wavelength (nm)</text>
<text transform="translate(10.4,91.4) rotate(-90)" font-size="10.7" text-anchor="middle" fill="#231f20">PL Intensity (counts×10<tspan dy="-4.2" font-size="7.2">3</tspan><tspan dy="4.2">)</tspan></text>
<line x1="264.50" y1="159.20" x2="267.00" y2="159.20" stroke="#3a3a3a" stroke-width="1" />
<text x="260.90" y="162.90" font-size="10.4" text-anchor="end" fill="#231f20" >0</text>
<line x1="264.50" y1="131.80" x2="267.00" y2="131.80" stroke="#3a3a3a" stroke-width="1" />
<text x="260.90" y="135.50" font-size="10.4" text-anchor="end" fill="#231f20" >10</text>
<line x1="264.50" y1="104.40" x2="267.00" y2="104.40" stroke="#3a3a3a" stroke-width="1" />
<text x="260.90" y="108.10" font-size="10.4" text-anchor="end" fill="#231f20" >20</text>
<line x1="264.50" y1="77.00" x2="267.00" y2="77.00" stroke="#3a3a3a" stroke-width="1" />
<text x="260.90" y="80.70" font-size="10.4" text-anchor="end" fill="#231f20" >30</text>
<line x1="264.50" y1="49.60" x2="267.00" y2="49.60" stroke="#3a3a3a" stroke-width="1" />
<text x="260.90" y="53.30" font-size="10.4" text-anchor="end" fill="#231f20" >40</text>
<line x1="264.50" y1="22.20" x2="267.00" y2="22.20" stroke="#3a3a3a" stroke-width="1" />
<text x="260.90" y="25.90" font-size="10.4" text-anchor="end" fill="#231f20" >50</text>
<line x1="286.99" y1="161.50" x2="286.99" y2="159.00" stroke="#3a3a3a" stroke-width="1" />
<text x="286.99" y="173.60" font-size="10.4" text-anchor="middle" fill="#231f20" >820</text>
<line x1="309.57" y1="161.50" x2="309.57" y2="159.00" stroke="#3a3a3a" stroke-width="1" />
<text x="309.57" y="173.60" font-size="10.4" text-anchor="middle" fill="#231f20" >840</text>
<line x1="332.16" y1="161.50" x2="332.16" y2="159.00" stroke="#3a3a3a" stroke-width="1" />
<text x="332.16" y="173.60" font-size="10.4" text-anchor="middle" fill="#231f20" >860</text>
<line x1="354.74" y1="161.50" x2="354.74" y2="159.00" stroke="#3a3a3a" stroke-width="1" />
<text x="354.74" y="173.60" font-size="10.4" text-anchor="middle" fill="#231f20" >880</text>
<line x1="377.33" y1="161.50" x2="377.33" y2="159.00" stroke="#3a3a3a" stroke-width="1" />
<text x="377.33" y="173.60" font-size="10.4" text-anchor="middle" fill="#231f20" >900</text>
<line x1="399.92" y1="161.50" x2="399.92" y2="159.00" stroke="#3a3a3a" stroke-width="1" />
<text x="399.92" y="173.60" font-size="10.4" text-anchor="middle" fill="#231f20" >920</text>
<line x1="422.50" y1="161.50" x2="422.50" y2="159.00" stroke="#3a3a3a" stroke-width="1" />
<text x="422.50" y="173.60" font-size="10.4" text-anchor="middle" fill="#231f20" >940</text>
<text x="349.00" y="188.60" font-size="10.4" text-anchor="middle" fill="#231f20" >Wavelength (nm)</text>
<text transform="translate(240.4,91.4) rotate(-90)" font-size="10.7" text-anchor="middle" fill="#231f20">PL Intensity (counts×10<tspan dy="-4.2" font-size="7.2">3</tspan><tspan dy="4.2">)</tspan></text>
<rect x="100.20" y="24.50" width="102.80" height="43.10" fill="#535353" stroke="none" stroke-width="1" />
<rect x="108.50" y="24.50" width="87.30" height="35.10" fill="#41678f" stroke="none" stroke-width="1" />
<rect x="100.20" y="24.50" width="8.30" height="37.50" fill="#744848" stroke="none" stroke-width="1" />
<rect x="195.80" y="24.50" width="7.20" height="37.50" fill="#744848" stroke="none" stroke-width="1" />
<rect x="139.30" y="27.50" width="25.50" height="32.50" fill="#4f6d8f" stroke="none" stroke-width="1" />
<rect x="107.2" y="49.8" width="94.2" height="9.7" rx="4.6" fill="url(#rod)"/>
<rect x="139.50" y="49.80" width="29.50" height="9.70" fill="#4a4050" stroke="none" stroke-width="1" opacity="0.28"/>
<ellipse cx="111.6" cy="54.65" rx="3.9" ry="4.7" fill="#e0a0a0" opacity="0.28"/>
<text x="172.60" y="38.60" font-size="8.8" text-anchor="start" fill="#fff" >40 μm</text>
<rect x="175.80" y="45.10" width="17.20" height="1.90" fill="#fff" stroke="none" stroke-width="1" />
<rect x="271.20" y="24.10" width="87.00" height="43.60" fill="#535353" stroke="none" stroke-width="1" />
<rect x="275.80" y="24.10" width="75.90" height="39.40" fill="#41678f" stroke="none" stroke-width="1" />
<rect x="271.20" y="24.10" width="4.60" height="39.40" fill="#744848" stroke="none" stroke-width="1" />
<rect x="351.70" y="24.10" width="6.50" height="39.40" fill="#744848" stroke="none" stroke-width="1" />
<path d="M302,29 L302,63 L325,63 L325,28 L323.5,28 C321,38 316,41 313.5,41 C310,41 305,37 303.5,29 Z" fill="#5d7189"/>
<rect x="304" y="54.3" width="26" height="8.6" rx="3" fill="#553539"/>
<rect x="273.8" y="54" width="34" height="8.8" rx="4.4" fill="url(#rod)"/>
<rect x="327.8" y="54.6" width="27.8" height="8.5" rx="4.2" fill="url(#rod)"/>
<ellipse cx="278" cy="58.4" rx="3.6" ry="4.3" fill="#e0a0a0" opacity="0.28"/>
<ellipse cx="331.5" cy="58.8" rx="3.4" ry="4.2" fill="#e0a0a0" opacity="0.22"/>
<text x="329.00" y="39.30" font-size="8.8" text-anchor="start" fill="#fff" >40 μm</text>
<rect x="334.40" y="45.70" width="14.40" height="2.10" fill="#fff" stroke="none" stroke-width="1" />
<rect x="34.50" y="23.50" width="169.00" height="138.00" fill="none" stroke="#3a3a3a" stroke-width="1" />
<rect x="264.50" y="22.50" width="169.00" height="139.00" fill="none" stroke="#3a3a3a" stroke-width="1" />
<g clip-path="url(#clipc)">
<path d="M510.45,148.72h1.7v1.7h-1.7zM511.43,147.88h1.7v1.7h-1.7zM512.41,146.18h1.7v1.7h-1.7zM513.39,145.11h1.7v1.7h-1.7zM514.37,143.05h1.7v1.7h-1.7zM515.35,140.13h1.7v1.7h-1.7zM516.33,135.66h1.7v1.7h-1.7zM517.31,130.52h1.7v1.7h-1.7zM518.29,122.11h1.7v1.7h-1.7zM519.27,111.73h1.7v1.7h-1.7zM520.25,97.00h1.7v1.7h-1.7zM521.23,80.63h1.7v1.7h-1.7zM522.21,68.21h1.7v1.7h-1.7zM523.19,70.61h1.7v1.7h-1.7zM524.17,85.52h1.7v1.7h-1.7zM525.15,101.91h1.7v1.7h-1.7zM526.13,115.68h1.7v1.7h-1.7zM527.11,125.26h1.7v1.7h-1.7zM528.09,132.48h1.7v1.7h-1.7zM529.07,137.31h1.7v1.7h-1.7zM530.05,140.94h1.7v1.7h-1.7zM531.03,143.63h1.7v1.7h-1.7zM532.01,144.41h1.7v1.7h-1.7zM532.99,144.78h1.7v1.7h-1.7zM533.97,145.19h1.7v1.7h-1.7zM534.95,142.88h1.7v1.7h-1.7zM535.93,142.46h1.7v1.7h-1.7zM536.91,141.45h1.7v1.7h-1.7zM537.89,140.45h1.7v1.7h-1.7zM538.87,142.93h1.7v1.7h-1.7zM539.85,145.49h1.7v1.7h-1.7zM540.83,147.00h1.7v1.7h-1.7zM541.81,147.57h1.7v1.7h-1.7zM542.79,147.07h1.7v1.7h-1.7zM543.77,145.77h1.7v1.7h-1.7zM544.75,146.88h1.7v1.7h-1.7zM545.73,147.52h1.7v1.7h-1.7zM546.71,147.79h1.7v1.7h-1.7zM547.69,146.53h1.7v1.7h-1.7zM548.67,144.40h1.7v1.7h-1.7zM549.65,140.77h1.7v1.7h-1.7zM550.63,136.25h1.7v1.7h-1.7zM551.61,128.60h1.7v1.7h-1.7zM552.59,118.99h1.7v1.7h-1.7zM553.57,110.94h1.7v1.7h-1.7zM554.55,113.05h1.7v1.7h-1.7zM555.53,122.59h1.7v1.7h-1.7zM556.51,131.83h1.7v1.7h-1.7zM557.49,137.79h1.7v1.7h-1.7zM558.47,143.05h1.7v1.7h-1.7zM559.45,145.52h1.7v1.7h-1.7zM560.43,147.55h1.7v1.7h-1.7zM561.41,148.86h1.7v1.7h-1.7zM562.39,149.79h1.7v1.7h-1.7zM563.37,150.05h1.7v1.7h-1.7zM564.35,149.64h1.7v1.7h-1.7zM565.33,150.75h1.7v1.7h-1.7zM566.31,150.38h1.7v1.7h-1.7zM567.29,149.28h1.7v1.7h-1.7zM568.27,147.87h1.7v1.7h-1.7zM569.25,145.60h1.7v1.7h-1.7zM570.23,141.66h1.7v1.7h-1.7zM571.21,140.68h1.7v1.7h-1.7zM572.19,141.23h1.7v1.7h-1.7zM573.17,144.14h1.7v1.7h-1.7zM574.15,147.22h1.7v1.7h-1.7zM575.13,149.54h1.7v1.7h-1.7zM576.11,149.13h1.7v1.7h-1.7zM577.09,148.77h1.7v1.7h-1.7zM578.07,147.55h1.7v1.7h-1.7zM579.05,146.81h1.7v1.7h-1.7zM580.03,148.36h1.7v1.7h-1.7zM581.01,150.25h1.7v1.7h-1.7zM581.99,151.24h1.7v1.7h-1.7zM582.97,151.20h1.7v1.7h-1.7zM583.95,150.37h1.7v1.7h-1.7zM584.93,149.37h1.7v1.7h-1.7zM585.91,147.01h1.7v1.7h-1.7zM586.89,144.69h1.7v1.7h-1.7zM587.87,141.10h1.7v1.7h-1.7zM588.85,136.14h1.7v1.7h-1.7zM589.83,128.73h1.7v1.7h-1.7zM590.81,126.39h1.7v1.7h-1.7zM591.79,130.47h1.7v1.7h-1.7zM592.77,137.29h1.7v1.7h-1.7zM593.75,142.56h1.7v1.7h-1.7zM594.73,146.22h1.7v1.7h-1.7zM595.71,147.76h1.7v1.7h-1.7zM596.69,147.87h1.7v1.7h-1.7zM597.67,147.00h1.7v1.7h-1.7zM598.65,147.92h1.7v1.7h-1.7zM599.63,149.48h1.7v1.7h-1.7zM600.61,150.95h1.7v1.7h-1.7zM601.59,151.14h1.7v1.7h-1.7zM602.57,152.35h1.7v1.7h-1.7zM603.55,151.22h1.7v1.7h-1.7zM604.53,151.93h1.7v1.7h-1.7zM605.51,151.16h1.7v1.7h-1.7zM606.49,148.64h1.7v1.7h-1.7zM607.47,147.24h1.7v1.7h-1.7zM608.45,144.87h1.7v1.7h-1.7zM609.43,142.27h1.7v1.7h-1.7zM610.41,140.85h1.7v1.7h-1.7zM611.39,142.70h1.7v1.7h-1.7zM612.37,145.67h1.7v1.7h-1.7zM613.35,149.05h1.7v1.7h-1.7zM614.33,149.14h1.7v1.7h-1.7zM615.31,149.68h1.7v1.7h-1.7zM616.29,148.81h1.7v1.7h-1.7zM617.27,149.82h1.7v1.7h-1.7zM618.25,151.54h1.7v1.7h-1.7zM619.23,151.29h1.7v1.7h-1.7zM620.21,152.59h1.7v1.7h-1.7zM621.19,152.12h1.7v1.7h-1.7zM622.17,152.43h1.7v1.7h-1.7zM623.15,151.78h1.7v1.7h-1.7zM624.13,150.50h1.7v1.7h-1.7zM625.11,150.48h1.7v1.7h-1.7zM626.09,148.45h1.7v1.7h-1.7zM627.07,145.56h1.7v1.7h-1.7zM628.05,142.09h1.7v1.7h-1.7zM629.03,138.13h1.7v1.7h-1.7zM630.01,134.83h1.7v1.7h-1.7zM630.99,136.59h1.7v1.7h-1.7zM631.97,141.05h1.7v1.7h-1.7zM632.95,145.17h1.7v1.7h-1.7zM633.93,147.61h1.7v1.7h-1.7zM634.91,149.68h1.7v1.7h-1.7zM635.89,148.77h1.7v1.7h-1.7zM636.87,149.25h1.7v1.7h-1.7zM637.85,148.89h1.7v1.7h-1.7zM638.83,148.42h1.7v1.7h-1.7zM639.81,150.90h1.7v1.7h-1.7zM640.79,151.82h1.7v1.7h-1.7zM641.77,152.65h1.7v1.7h-1.7zM642.75,151.86h1.7v1.7h-1.7zM643.73,151.76h1.7v1.7h-1.7zM644.71,151.33h1.7v1.7h-1.7zM645.69,151.37h1.7v1.7h-1.7zM646.67,149.44h1.7v1.7h-1.7zM647.65,146.89h1.7v1.7h-1.7zM648.63,143.69h1.7v1.7h-1.7zM649.61,139.87h1.7v1.7h-1.7zM650.59,137.92h1.7v1.7h-1.7zM651.57,139.89h1.7v1.7h-1.7zM652.55,144.55h1.7v1.7h-1.7zM653.53,146.84h1.7v1.7h-1.7zM654.51,149.40h1.7v1.7h-1.7zM655.49,148.77h1.7v1.7h-1.7zM656.47,148.54h1.7v1.7h-1.7zM657.45,149.13h1.7v1.7h-1.7zM658.43,149.74h1.7v1.7h-1.7zM659.41,151.23h1.7v1.7h-1.7zM660.39,152.78h1.7v1.7h-1.7zM661.37,152.89h1.7v1.7h-1.7zM662.35,152.70h1.7v1.7h-1.7zM663.33,152.19h1.7v1.7h-1.7zM664.31,152.15h1.7v1.7h-1.7zM665.29,151.52h1.7v1.7h-1.7zM666.27,149.95h1.7v1.7h-1.7zM667.25,148.64h1.7v1.7h-1.7zM668.23,145.35h1.7v1.7h-1.7zM669.21,143.06h1.7v1.7h-1.7zM670.19,139.89h1.7v1.7h-1.7zM671.17,140.84h1.7v1.7h-1.7zM672.15,143.83h1.7v1.7h-1.7zM673.13,146.10h1.7v1.7h-1.7zM674.11,147.03h1.7v1.7h-1.7zM675.09,148.27h1.7v1.7h-1.7zM676.07,147.25h1.7v1.7h-1.7zM677.05,149.01h1.7v1.7h-1.7zM678.03,150.68h1.7v1.7h-1.7zM679.01,151.91h1.7v1.7h-1.7zM679.99,153.10h1.7v1.7h-1.7zM680.97,153.66h1.7v1.7h-1.7z" fill="#151515"/>
<path d="M511.00,154.59 L511.25,154.59 L511.50,154.59 L511.75,154.59 L512.00,154.59 L512.25,154.59 L512.50,154.59 L512.75,154.59 L513.00,154.59 L513.25,154.59 L513.50,154.59 L513.75,154.59 L514.00,154.59 L514.25,154.59 L514.50,154.59 L514.75,154.59 L515.00,154.59 L515.25,154.59 L515.50,154.59 L515.75,154.59 L516.00,154.59 L516.25,154.59 L516.50,154.59 L516.75,154.59 L517.00,154.59 L517.25,154.59 L517.50,154.59 L517.75,154.59 L518.00,154.59 L518.25,154.59 L518.50,154.59 L518.75,154.59 L519.00,154.59 L519.25,154.58 L519.50,154.58 L519.75,154.58 L520.00,154.58 L520.25,154.58 L520.50,154.58 L520.75,154.58 L521.00,154.58 L521.25,154.58 L521.50,154.58 L521.75,154.58 L522.00,154.58 L522.25,154.58 L522.50,154.57 L522.75,154.57 L523.00,154.57 L523.25,154.57 L523.50,154.57 L523.75,154.57 L524.00,154.57 L524.25,154.56 L524.50,154.56 L524.75,154.56 L525.00,154.56 L525.25,154.56 L525.50,154.55 L525.75,154.55 L526.00,154.55 L526.25,154.55 L526.50,154.54 L526.75,154.54 L527.00,154.54 L527.25,154.53 L527.50,154.53 L527.75,154.52 L528.00,154.52 L528.25,154.51 L528.50,154.51 L528.75,154.50 L529.00,154.49 L529.25,154.49 L529.50,154.48 L529.75,154.47 L530.00,154.46 L530.25,154.45 L530.50,154.43 L530.75,154.42 L531.00,154.40 L531.25,154.39 L531.50,154.37 L531.75,154.34 L532.00,154.32 L532.25,154.29 L532.50,154.26 L532.75,154.23 L533.00,154.19 L533.25,154.14 L533.50,154.09 L533.75,154.03 L534.00,153.96 L534.25,153.88 L534.50,153.79 L534.75,153.69 L535.00,153.57 L535.25,153.43 L535.50,153.28 L535.75,153.09 L536.00,152.88 L536.25,152.63 L536.50,152.36 L536.75,152.04 L537.00,151.68 L537.25,151.29 L537.50,150.86 L537.75,150.42 L538.00,149.96 L538.25,149.52 L538.50,149.13 L538.75,148.81 L539.00,148.59 L539.25,148.50 L539.50,148.54 L539.75,148.71 L540.00,148.99 L540.25,149.36 L540.50,149.78 L540.75,150.23 L541.00,150.68 L541.25,151.12 L541.50,151.53 L541.75,151.90 L542.00,152.23 L542.25,152.52 L542.50,152.78 L542.75,153.01 L543.00,153.20 L543.25,153.37 L543.50,153.51 L543.75,153.64 L544.00,153.75 L544.25,153.84 L544.50,153.92 L544.75,154.00 L545.00,154.06 L545.25,154.11 L545.50,154.16 L545.75,154.20 L546.00,154.24 L546.25,154.27 L546.50,154.30 L546.75,154.32 L547.00,154.34 L547.25,154.36 L547.50,154.38 L547.75,154.40 L548.00,154.41 L548.25,154.42 L548.50,154.44 L548.75,154.45 L549.00,154.45 L549.25,154.46 L549.50,154.47 L549.75,154.48 L550.00,154.48 L550.25,154.49 L550.50,154.49 L550.75,154.50 L551.00,154.50 L551.25,154.50 L551.50,154.51 L551.75,154.51 L552.00,154.51 L552.25,154.51 L552.50,154.51 L552.75,154.52 L553.00,154.52 L553.25,154.52 L553.50,154.52 L553.75,154.52 L554.00,154.52 L554.25,154.52 L554.50,154.52 L554.75,154.52 L555.00,154.52 L555.25,154.52 L555.50,154.51 L555.75,154.51 L556.00,154.51 L556.25,154.51 L556.50,154.51 L556.75,154.50 L557.00,154.50 L557.25,154.50 L557.50,154.49 L557.75,154.49 L558.00,154.49 L558.25,154.48 L558.50,154.48 L558.75,154.47 L559.00,154.47 L559.25,154.46 L559.50,154.45 L559.75,154.44 L560.00,154.44 L560.25,154.43 L560.50,154.42 L560.75,154.41 L561.00,154.39 L561.25,154.38 L561.50,154.37 L561.75,154.35 L562.00,154.34 L562.25,154.32 L562.50,154.30 L562.75,154.27 L563.00,154.25 L563.25,154.22 L563.50,154.19 L563.75,154.16 L564.00,154.12 L564.25,154.08 L564.50,154.03 L564.75,153.98 L565.00,153.92 L565.25,153.85 L565.50,153.78 L565.75,153.70 L566.00,153.60 L566.25,153.49 L566.50,153.37 L566.75,153.23 L567.00,153.07 L567.25,152.89 L567.50,152.68 L567.75,152.45 L568.00,152.17 L568.25,151.86 L568.50,151.51 L568.75,151.10 L569.00,150.63 L569.25,150.11 L569.50,149.51 L569.75,148.86 L570.00,148.13 L570.25,147.35 L570.50,146.53 L570.75,145.69 L571.00,144.87 L571.25,144.11 L571.50,143.46 L571.75,142.96 L572.00,142.67 L572.25,142.60 L572.50,142.76 L572.75,143.14 L573.00,143.70 L573.25,144.40 L573.50,145.19 L573.75,146.03 L574.00,146.86 L574.25,147.67 L574.50,148.43 L574.75,149.13 L575.00,149.76 L575.25,150.32 L575.50,150.83 L575.75,151.27 L576.00,151.65 L576.25,151.99 L576.50,152.29 L576.75,152.54 L577.00,152.77 L577.25,152.97 L577.50,153.14 L577.75,153.29 L578.00,153.42 L578.25,153.54 L578.50,153.64 L578.75,153.73 L579.00,153.81 L579.25,153.88 L579.50,153.94 L579.75,154.00 L580.00,154.05 L580.25,154.09 L580.50,154.13 L580.75,154.17 L581.00,154.20 L581.25,154.23 L581.50,154.26 L581.75,154.28 L582.00,154.30 L582.25,154.32 L582.50,154.34 L582.75,154.36 L583.00,154.37 L583.25,154.38 L583.50,154.40 L583.75,154.41 L584.00,154.42 L584.25,154.43 L584.50,154.44 L584.75,154.44 L585.00,154.45 L585.25,154.46 L585.50,154.46 L585.75,154.47 L586.00,154.48 L586.25,154.48 L586.50,154.48 L586.75,154.49 L587.00,154.49 L587.25,154.50 L587.50,154.50 L587.75,154.50 L588.00,154.50 L588.25,154.51 L588.50,154.51 L588.75,154.51 L589.00,154.51 L589.25,154.51 L589.50,154.51 L589.75,154.52 L590.00,154.52 L590.25,154.52 L590.50,154.52 L590.75,154.52 L591.00,154.52 L591.25,154.52 L591.50,154.52 L591.75,154.52 L592.00,154.52 L592.25,154.52 L592.50,154.52 L592.75,154.51 L593.00,154.51 L593.25,154.51 L593.50,154.51 L593.75,154.51 L594.00,154.51 L594.25,154.50 L594.50,154.50 L594.75,154.50 L595.00,154.50 L595.25,154.49 L595.50,154.49 L595.75,154.49 L596.00,154.48 L596.25,154.48 L596.50,154.47 L596.75,154.47 L597.00,154.46 L597.25,154.45 L597.50,154.45 L597.75,154.44 L598.00,154.43 L598.25,154.42 L598.50,154.41 L598.75,154.40 L599.00,154.39 L599.25,154.38 L599.50,154.37 L599.75,154.35 L600.00,154.34 L600.25,154.32 L600.50,154.30 L600.75,154.28 L601.00,154.26 L601.25,154.24 L601.50,154.21 L601.75,154.18 L602.00,154.15 L602.25,154.11 L602.50,154.08 L602.75,154.03 L603.00,153.98 L603.25,153.93 L603.50,153.87 L603.75,153.80 L604.00,153.73 L604.25,153.64 L604.50,153.55 L604.75,153.44 L605.00,153.32 L605.25,153.18 L605.50,153.03 L605.75,152.86 L606.00,152.66 L606.25,152.43 L606.50,152.17 L606.75,151.88 L607.00,151.55 L607.25,151.18 L607.50,150.75 L607.75,150.27 L608.00,149.73 L608.25,149.14 L608.50,148.48 L608.75,147.77 L609.00,147.01 L609.25,146.21 L609.50,145.41 L609.75,144.63 L610.00,143.91 L610.25,143.28 L610.50,142.80 L610.75,142.50 L611.00,142.39 L611.25,142.50 L611.50,142.80 L611.75,143.28 L612.00,143.91 L612.25,144.63 L612.50,145.41 L612.75,146.21 L613.00,147.01 L613.25,147.77 L613.50,148.48 L613.75,149.14 L614.00,149.73 L614.25,150.27 L614.50,150.75 L614.75,151.18 L615.00,151.55 L615.25,151.88 L615.50,152.17 L615.75,152.43 L616.00,152.66 L616.25,152.85 L616.50,153.03 L616.75,153.18 L617.00,153.32 L617.25,153.44 L617.50,153.55 L617.75,153.64 L618.00,153.73 L618.25,153.80 L618.50,153.87 L618.75,153.93 L619.00,153.98 L619.25,154.03 L619.50,154.07 L619.75,154.11 L620.00,154.15 L620.25,154.18 L620.50,154.21 L620.75,154.24 L621.00,154.26 L621.25,154.28 L621.50,154.30 L621.75,154.32 L622.00,154.34 L622.25,154.35 L622.50,154.37 L622.75,154.38 L623.00,154.39 L623.25,154.40 L623.50,154.41 L623.75,154.42 L624.00,154.43 L624.25,154.44 L624.50,154.45 L624.75,154.45 L625.00,154.46 L625.25,154.46 L625.50,154.47 L625.75,154.47 L626.00,154.48 L626.25,154.48 L626.50,154.49 L626.75,154.49 L627.00,154.49 L627.25,154.50 L627.50,154.50 L627.75,154.50 L628.00,154.50 L628.25,154.50 L628.50,154.51 L628.75,154.51 L629.00,154.51 L629.25,154.51 L629.50,154.51 L629.75,154.51 L630.00,154.51 L630.25,154.51 L630.50,154.51 L630.75,154.51 L631.00,154.51 L631.25,154.51 L631.50,154.51 L631.75,154.51 L632.00,154.51 L632.25,154.51 L632.50,154.51 L632.75,154.51 L633.00,154.51 L633.25,154.50 L633.50,154.50 L633.75,154.50 L634.00,154.50 L634.25,154.50 L634.50,154.49 L634.75,154.49 L635.00,154.49 L635.25,154.48 L635.50,154.48 L635.75,154.48 L636.00,154.47 L636.25,154.47 L636.50,154.46 L636.75,154.45 L637.00,154.45 L637.25,154.44 L637.50,154.43 L637.75,154.43 L638.00,154.42 L638.25,154.41 L638.50,154.40 L638.75,154.39 L639.00,154.38 L639.25,154.36 L639.50,154.35 L639.75,154.34 L640.00,154.32 L640.25,154.30 L640.50,154.28 L640.75,154.26 L641.00,154.24 L641.25,154.21 L641.50,154.19 L641.75,154.16 L642.00,154.12 L642.25,154.09 L642.50,154.05 L642.75,154.00 L643.00,153.95 L643.25,153.90 L643.50,153.84 L643.75,153.77 L644.00,153.69 L644.25,153.61 L644.50,153.51 L644.75,153.41 L645.00,153.29 L645.25,153.15 L645.50,153.00 L645.75,152.83 L646.00,152.63 L646.25,152.41 L646.50,152.16 L646.75,151.87 L647.00,151.55 L647.25,151.18 L647.50,150.76 L647.75,150.28 L648.00,149.74 L648.25,149.14 L648.50,148.46 L648.75,147.72 L649.00,146.90 L649.25,146.01 L649.50,145.08 L649.75,144.11 L650.00,143.15 L650.25,142.23 L650.50,141.40 L650.75,140.72 L651.00,140.21 L651.25,139.94 L651.50,139.92 L651.75,140.14 L652.00,140.60 L652.25,141.25 L652.50,142.06 L652.75,142.97 L653.00,143.92 L653.25,144.89 L653.50,145.83 L653.75,146.73 L654.00,147.56 L654.25,148.32 L654.50,149.01 L654.75,149.63 L655.00,150.18 L655.25,150.67 L655.50,151.10 L655.75,151.48 L656.00,151.81 L656.25,152.11 L656.50,152.37 L656.75,152.59 L657.00,152.79 L657.25,152.97 L657.50,153.13 L657.75,153.27 L658.00,153.39 L658.25,153.50 L658.50,153.60 L658.75,153.68 L659.00,153.76 L659.25,153.83 L659.50,153.89 L659.75,153.95 L660.00,154.00 L660.25,154.05 L660.50,154.09 L660.75,154.12 L661.00,154.16 L661.25,154.19 L661.50,154.22 L661.75,154.24 L662.00,154.27 L662.25,154.29 L662.50,154.31 L662.75,154.33 L663.00,154.34 L663.25,154.36 L663.50,154.37 L663.75,154.39 L664.00,154.40 L664.25,154.41 L664.50,154.42 L664.75,154.43 L665.00,154.44 L665.25,154.45 L665.50,154.46 L665.75,154.46 L666.00,154.47 L666.25,154.48 L666.50,154.48 L666.75,154.49 L667.00,154.49 L667.25,154.50 L667.50,154.50 L667.75,154.51 L668.00,154.51 L668.25,154.52 L668.50,154.52 L668.75,154.52 L669.00,154.53 L669.25,154.53 L669.50,154.53 L669.75,154.54 L670.00,154.54 L670.25,154.54 L670.50,154.54 L670.75,154.54 L671.00,154.55 L671.25,154.55 L671.50,154.55 L671.75,154.55 L672.00,154.55 L672.25,154.56 L672.50,154.56 L672.75,154.56 L673.00,154.56 L673.25,154.56 L673.50,154.56 L673.75,154.56 L674.00,154.57 L674.25,154.57 L674.50,154.57 L674.75,154.57 L675.00,154.57 L675.25,154.57 L675.50,154.57 L675.75,154.57 L676.00,154.57 L676.25,154.57 L676.50,154.58 L676.75,154.58 L677.00,154.58 L677.25,154.58 L677.50,154.58 L677.75,154.58 L678.00,154.58 L678.25,154.58 L678.50,154.58 L678.75,154.58 L679.00,154.58 L679.25,154.58 L679.50,154.58 L679.75,154.58 L680.00,154.58 L680.25,154.58 L680.50,154.58 L680.75,154.58 L681.00,154.58 L681.25,154.59 L681.50,154.59 L681.75,154.59 L682.00,154.59 L682.25,154.59" fill="none" stroke="#2c4c88" stroke-width="1.3" stroke-linejoin="round" />
<path d="M511.00,149.70 L511.25,149.51 L511.50,149.31 L511.75,149.10 L512.00,148.88 L512.25,148.64 L512.50,148.39 L512.75,148.13 L513.00,147.84 L513.25,147.54 L513.50,147.21 L513.75,146.87 L514.00,146.49 L514.25,146.10 L514.50,145.67 L514.75,145.21 L515.00,144.72 L515.25,144.18 L515.50,143.61 L515.75,142.98 L516.00,142.31 L516.25,141.57 L516.50,140.78 L516.75,139.91 L517.00,138.96 L517.25,137.92 L517.50,136.79 L517.75,135.55 L518.00,134.18 L518.25,132.68 L518.50,131.02 L518.75,129.20 L519.00,127.19 L519.25,124.97 L519.50,122.53 L519.75,119.83 L520.00,116.87 L520.25,113.63 L520.50,110.09 L520.75,106.25 L521.00,102.13 L521.25,97.77 L521.50,93.23 L521.75,88.60 L522.00,84.02 L522.25,79.68 L522.50,75.77 L522.75,72.54 L523.00,70.19 L523.25,68.91 L523.50,68.78 L523.75,69.83 L524.00,71.97 L524.25,75.04 L524.50,78.81 L524.75,83.08 L525.00,87.62 L525.25,92.24 L525.50,96.80 L525.75,101.19 L526.00,105.35 L526.25,109.24 L526.50,112.83 L526.75,116.12 L527.00,119.13 L527.25,121.87 L527.50,124.35 L527.75,126.60 L528.00,128.64 L528.25,130.49 L528.50,132.17 L528.75,133.69 L529.00,135.07 L529.25,136.32 L529.50,137.47 L529.75,138.51 L530.00,139.47 L530.25,140.34 L530.50,141.14 L530.75,141.87 L531.00,142.54 L531.25,143.17 L531.50,143.74 L531.75,144.27 L532.00,144.76 L532.25,145.21 L532.50,145.63 L532.75,146.02 L533.00,146.38 L533.25,146.71 L533.50,147.03 L533.75,147.32 L534.00,147.59 L534.25,147.84 L534.50,148.08 L534.75,148.30 L535.00,148.51 L535.25,148.70 L535.50,148.88 L535.75,149.05 L536.00,149.21 L536.25,149.36 L536.50,149.49 L536.75,149.62 L537.00,149.74 L537.25,149.85 L537.50,149.96 L537.75,150.06 L538.00,150.15 L538.25,150.23 L538.50,150.31 L538.75,150.38 L539.00,150.44 L539.25,150.50 L539.50,150.55 L539.75,150.60 L540.00,150.64 L540.25,150.68 L540.50,150.71 L540.75,150.74 L541.00,150.76 L541.25,150.77 L541.50,150.78 L541.75,150.79 L542.00,150.79 L542.25,150.78 L542.50,150.77 L542.75,150.75 L543.00,150.73 L543.25,150.70 L543.50,150.66 L543.75,150.62 L544.00,150.57 L544.25,150.51 L544.50,150.44 L544.75,150.36 L545.00,150.28 L545.25,150.18 L545.50,150.08 L545.75,149.96 L546.00,149.83 L546.25,149.68 L546.50,149.52 L546.75,149.34 L547.00,149.14 L547.25,148.92 L547.50,148.68 L547.75,148.41 L548.00,148.12 L548.25,147.79 L548.50,147.42 L548.75,147.02 L549.00,146.57 L549.25,146.06 L549.50,145.50 L549.75,144.87 L550.00,144.16 L550.25,143.36 L550.50,142.47 L550.75,141.46 L551.00,140.33 L551.25,139.05 L551.50,137.61 L551.75,135.98 L552.00,134.17 L552.25,132.15 L552.50,129.91 L552.75,127.49 L553.00,124.89 L553.25,122.20 L553.50,119.50 L553.75,116.95 L554.00,114.71 L554.25,112.99 L554.50,111.95 L554.75,111.71 L555.00,112.30 L555.25,113.65 L555.50,115.63 L555.75,118.03 L556.00,120.68 L556.25,123.42 L556.50,126.10 L556.75,128.66 L557.00,131.03 L557.25,133.20 L557.50,135.16 L557.75,136.92 L558.00,138.49 L558.25,139.89 L558.50,141.14 L558.75,142.24 L559.00,143.23 L559.25,144.10 L559.50,144.89 L559.75,145.59 L560.00,146.21 L560.25,146.78 L560.50,147.29 L560.75,147.75 L561.00,148.16 L561.25,148.54 L561.50,148.89 L561.75,149.20 L562.00,149.49 L562.25,149.75 L562.50,149.99 L562.75,150.21 L563.00,150.41 L563.25,150.60 L563.50,150.78 L563.75,150.94 L564.00,151.09 L564.25,151.23 L564.50,151.36 L564.75,151.48 L565.00,151.59 L565.25,151.69 L565.50,151.79 L565.75,151.88 L566.00,151.97 L566.25,152.05 L566.50,152.12 L566.75,152.20 L567.00,152.26 L567.25,152.33 L567.50,152.38 L567.75,152.44 L568.00,152.49 L568.25,152.54 L568.50,152.59 L568.75,152.63 L569.00,152.67 L569.25,152.71 L569.50,152.75 L569.75,152.78 L570.00,152.81 L570.25,152.84 L570.50,152.87 L570.75,152.90 L571.00,152.92 L571.25,152.95 L571.50,152.97 L571.75,152.99 L572.00,153.01 L572.25,153.03 L572.50,153.04 L572.75,153.06 L573.00,153.07 L573.25,153.08 L573.50,153.09 L573.75,153.10 L574.00,153.11 L574.25,153.11 L574.50,153.12 L574.75,153.12 L575.00,153.13 L575.25,153.13 L575.50,153.13 L575.75,153.13 L576.00,153.13 L576.25,153.12 L576.50,153.12 L576.75,153.11 L577.00,153.10 L577.25,153.09 L577.50,153.08 L577.75,153.07 L578.00,153.06 L578.25,153.04 L578.50,153.02 L578.75,153.00 L579.00,152.98 L579.25,152.95 L579.50,152.93 L579.75,152.90 L580.00,152.86 L580.25,152.83 L580.50,152.79 L580.75,152.75 L581.00,152.70 L581.25,152.65 L581.50,152.60 L581.75,152.54 L582.00,152.48 L582.25,152.41 L582.50,152.33 L582.75,152.25 L583.00,152.16 L583.25,152.06 L583.50,151.95 L583.75,151.83 L584.00,151.70 L584.25,151.56 L584.50,151.40 L584.75,151.23 L585.00,151.04 L585.25,150.83 L585.50,150.60 L585.75,150.33 L586.00,150.04 L586.25,149.72 L586.50,149.36 L586.75,148.95 L587.00,148.48 L587.25,147.96 L587.50,147.37 L587.75,146.70 L588.00,145.94 L588.25,145.08 L588.50,144.09 L588.75,142.97 L589.00,141.71 L589.25,140.29 L589.50,138.71 L589.75,136.98 L590.00,135.13 L590.25,133.23 L590.50,131.36 L590.75,129.66 L591.00,128.28 L591.25,127.38 L591.50,127.07 L591.75,127.39 L592.00,128.29 L592.25,129.68 L592.50,131.39 L592.75,133.26 L593.00,135.17 L593.25,137.02 L593.50,138.76 L593.75,140.34 L594.00,141.77 L594.25,143.04 L594.50,144.16 L594.75,145.15 L595.00,146.03 L595.25,146.79 L595.50,147.47 L595.75,148.07 L596.00,148.59 L596.25,149.06 L596.50,149.48 L596.75,149.85 L597.00,150.18 L597.25,150.48 L597.50,150.74 L597.75,150.98 L598.00,151.20 L598.25,151.40 L598.50,151.58 L598.75,151.74 L599.00,151.89 L599.25,152.03 L599.50,152.15 L599.75,152.27 L600.00,152.38 L600.25,152.47 L600.50,152.56 L600.75,152.65 L601.00,152.72 L601.25,152.80 L601.50,152.86 L601.75,152.93 L602.00,152.98 L602.25,153.04 L602.50,153.09 L602.75,153.14 L603.00,153.18 L603.25,153.22 L603.50,153.26 L603.75,153.30 L604.00,153.33 L604.25,153.37 L604.50,153.40 L604.75,153.43 L605.00,153.45 L605.25,153.48 L605.50,153.50 L605.75,153.53 L606.00,153.55 L606.25,153.57 L606.50,153.59 L606.75,153.60 L607.00,153.62 L607.25,153.64 L607.50,153.65 L607.75,153.67 L608.00,153.68 L608.25,153.69 L608.50,153.70 L608.75,153.71 L609.00,153.72 L609.25,153.73 L609.50,153.74 L609.75,153.75 L610.00,153.76 L610.25,153.76 L610.50,153.77 L610.75,153.78 L611.00,153.78 L611.25,153.78 L611.50,153.79 L611.75,153.79 L612.00,153.79 L612.25,153.80 L612.50,153.80 L612.75,153.80 L613.00,153.80 L613.25,153.80 L613.50,153.80 L613.75,153.80 L614.00,153.79 L614.25,153.79 L614.50,153.79 L614.75,153.78 L615.00,153.78 L615.25,153.77 L615.50,153.77 L615.75,153.76 L616.00,153.75 L616.25,153.74 L616.50,153.73 L616.75,153.72 L617.00,153.71 L617.25,153.70 L617.50,153.68 L617.75,153.67 L618.00,153.65 L618.25,153.64 L618.50,153.62 L618.75,153.60 L619.00,153.58 L619.25,153.55 L619.50,153.53 L619.75,153.50 L620.00,153.47 L620.25,153.44 L620.50,153.41 L620.75,153.37 L621.00,153.33 L621.25,153.29 L621.50,153.24 L621.75,153.19 L622.00,153.14 L622.25,153.08 L622.50,153.01 L622.75,152.94 L623.00,152.87 L623.25,152.79 L623.50,152.69 L623.75,152.60 L624.00,152.49 L624.25,152.37 L624.50,152.23 L624.75,152.09 L625.00,151.93 L625.25,151.74 L625.50,151.54 L625.75,151.32 L626.00,151.07 L626.25,150.79 L626.50,150.47 L626.75,150.11 L627.00,149.70 L627.25,149.24 L627.50,148.72 L627.75,148.12 L628.00,147.45 L628.25,146.68 L628.50,145.81 L628.75,144.83 L629.00,143.75 L629.25,142.56 L629.50,141.29 L629.75,139.98 L630.00,138.70 L630.25,137.53 L630.50,136.58 L630.75,135.96 L631.00,135.75 L631.25,135.97 L631.50,136.59 L631.75,137.54 L632.00,138.71 L632.25,139.99 L632.50,141.30 L632.75,142.58 L633.00,143.76 L633.25,144.85 L633.50,145.83 L633.75,146.70 L634.00,147.47 L634.25,148.15 L634.50,148.75 L634.75,149.28 L635.00,149.74 L635.25,150.15 L635.50,150.51 L635.75,150.83 L636.00,151.12 L636.25,151.37 L636.50,151.60 L636.75,151.80 L637.00,151.98 L637.25,152.15 L637.50,152.30 L637.75,152.43 L638.00,152.55 L638.25,152.67 L638.50,152.77 L638.75,152.86 L639.00,152.95 L639.25,153.02 L639.50,153.10 L639.75,153.16 L640.00,153.23 L640.25,153.28 L640.50,153.34 L640.75,153.38 L641.00,153.43 L641.25,153.47 L641.50,153.51 L641.75,153.55 L642.00,153.58 L642.25,153.62 L642.50,153.65 L642.75,153.67 L643.00,153.70 L643.25,153.73 L643.50,153.75 L643.75,153.77 L644.00,153.79 L644.25,153.81 L644.50,153.83 L644.75,153.85 L645.00,153.86 L645.25,153.88 L645.50,153.89 L645.75,153.91 L646.00,153.92 L646.25,153.93 L646.50,153.94 L646.75,153.95 L647.00,153.96 L647.25,153.97 L647.50,153.98 L647.75,153.99 L648.00,154.00 L648.25,154.00 L648.50,154.01 L648.75,154.02 L649.00,154.02 L649.25,154.03 L649.50,154.03 L649.75,154.04 L650.00,154.04 L650.25,154.04 L650.50,154.05 L650.75,154.05 L651.00,154.05 L651.25,154.05 L651.50,154.05 L651.75,154.06 L652.00,154.06 L652.25,154.06 L652.50,154.06 L652.75,154.06 L653.00,154.06 L653.25,154.05 L653.50,154.05 L653.75,154.05 L654.00,154.05 L654.25,154.04 L654.50,154.04 L654.75,154.04 L655.00,154.03 L655.25,154.03 L655.50,154.02 L655.75,154.02 L656.00,154.01 L656.25,154.00 L656.50,154.00 L656.75,153.99 L657.00,153.98 L657.25,153.97 L657.50,153.96 L657.75,153.95 L658.00,153.93 L658.25,153.92 L658.50,153.91 L658.75,153.89 L659.00,153.88 L659.25,153.86 L659.50,153.84 L659.75,153.82 L660.00,153.80 L660.25,153.78 L660.50,153.75 L660.75,153.72 L661.00,153.69 L661.25,153.66 L661.50,153.63 L661.75,153.59 L662.00,153.56 L662.25,153.51 L662.50,153.47 L662.75,153.42 L663.00,153.37 L663.25,153.31 L663.50,153.24 L663.75,153.17 L664.00,153.10 L664.25,153.02 L664.50,152.93 L664.75,152.83 L665.00,152.72 L665.25,152.59 L665.50,152.46 L665.75,152.31 L666.00,152.14 L666.25,151.96 L666.50,151.75 L666.75,151.52 L667.00,151.25 L667.25,150.96 L667.50,150.63 L667.75,150.25 L668.00,149.82 L668.25,149.34 L668.50,148.80 L668.75,148.19 L669.00,147.50 L669.25,146.74 L669.50,145.91 L669.75,145.02 L670.00,144.09 L670.25,143.15 L670.50,142.27 L670.75,141.51 L671.00,140.94 L671.25,140.62 L671.50,140.59 L671.75,140.85 L672.00,141.38 L672.25,142.12 L672.50,142.98 L672.75,143.91 L673.00,144.85 L673.25,145.75 L673.50,146.60 L673.75,147.38 L674.00,148.08 L674.25,148.71 L674.50,149.27 L674.75,149.76 L675.00,150.20 L675.25,150.59 L675.50,150.93 L675.75,151.24 L676.00,151.51 L676.25,151.75 L676.50,151.96 L676.75,152.15 L677.00,152.33 L677.25,152.48 L677.50,152.62 L677.75,152.75 L678.00,152.86 L678.25,152.97 L678.50,153.06 L678.75,153.15 L679.00,153.23 L679.25,153.30 L679.50,153.37 L679.75,153.43 L680.00,153.49 L680.25,153.54 L680.50,153.59 L680.75,153.64 L681.00,153.68 L681.25,153.72 L681.50,153.75 L681.75,153.79 L682.00,153.82 L682.25,153.85" fill="none" stroke="#e0303a" stroke-width="1.2" stroke-linejoin="round" />
<line x1="511.00" y1="154.60" x2="682.00" y2="154.60" stroke="#e0303a" stroke-width="1.1" />
</g>
<rect x="506.50" y="21.50" width="176.50" height="137.50" fill="none" stroke="#3a3a3a" stroke-width="1" />
<line x1="506.40" y1="159.00" x2="506.40" y2="156.50" stroke="#3a3a3a" stroke-width="1" />
<text x="506.40" y="171.00" font-size="10.4" text-anchor="middle" fill="#231f20" >1.35</text>
<line x1="586.95" y1="159.00" x2="586.95" y2="156.50" stroke="#3a3a3a" stroke-width="1" />
<text x="586.95" y="171.00" font-size="10.4" text-anchor="middle" fill="#231f20" >1.36</text>
<line x1="667.50" y1="159.00" x2="667.50" y2="156.50" stroke="#3a3a3a" stroke-width="1" />
<text x="667.50" y="171.00" font-size="10.4" text-anchor="middle" fill="#231f20" >1.37</text>
<line x1="546.67" y1="159.00" x2="546.67" y2="157.30" stroke="#3a3a3a" stroke-width="1" />
<line x1="627.22" y1="159.00" x2="627.22" y2="157.30" stroke="#3a3a3a" stroke-width="1" />
<text x="594.80" y="186.50" font-size="10.4" text-anchor="middle" fill="#231f20" >Energy (eV)</text>
<text transform="translate(500.0,90) rotate(-90)" font-size="10.4" text-anchor="middle" fill="#231f20">Intensity (a.u.)</text>
<rect x="515.8" y="28.5" width="1.5" height="1.5" fill="#111"/>
<text x="528.60" y="32.30" font-size="8.8" text-anchor="start" fill="#231f20" >Experimental data</text>
<line x1="612.00" y1="28.80" x2="626.70" y2="28.80" stroke="#e0303a" stroke-width="1.1" />
<text x="631.50" y="31.30" font-size="8.8" text-anchor="start" fill="#231f20" ><tspan font-style="italic">h</tspan> = 2<tspan font-style="italic">N</tspan></text>
<line x1="510.40" y1="39.20" x2="525.00" y2="39.20" stroke="#3b5a8c" stroke-width="1.1" />
<text x="529.40" y="41.60" font-size="8.8" text-anchor="start" fill="#231f20" ><tspan font-style="italic">h</tspan> = 2<tspan font-style="italic">N</tspan>+1</text>
<rect x="582.60" y="41.30" width="100.40" height="74.20" fill="#fff" stroke="#3a3a3a" stroke-width="1" />
<line x1="582.60" y1="47.70" x2="585.00" y2="47.70" stroke="#3a3a3a" stroke-width="1" />
<text x="578.30" y="51.00" font-size="9" text-anchor="end" fill="#231f20" >1.370</text>
<line x1="582.60" y1="64.90" x2="585.00" y2="64.90" stroke="#3a3a3a" stroke-width="1" />
<text x="578.30" y="68.20" font-size="9" text-anchor="end" fill="#231f20" >1.365</text>
<line x1="582.60" y1="82.10" x2="585.00" y2="82.10" stroke="#3a3a3a" stroke-width="1" />
<text x="578.30" y="85.40" font-size="9" text-anchor="end" fill="#231f20" >1.360</text>
<line x1="582.60" y1="99.30" x2="585.00" y2="99.30" stroke="#3a3a3a" stroke-width="1" />
<text x="578.30" y="102.60" font-size="9" text-anchor="end" fill="#231f20" >1.355</text>
<line x1="590.10" y1="115.50" x2="590.10" y2="113.20" stroke="#3a3a3a" stroke-width="1" />
<text x="590.10" y="125.40" font-size="9" text-anchor="middle" fill="#231f20" >0</text>
<line x1="600.94" y1="115.50" x2="600.94" y2="113.20" stroke="#3a3a3a" stroke-width="1" />
<text x="600.94" y="125.40" font-size="9" text-anchor="middle" fill="#231f20" >1</text>
<line x1="611.78" y1="115.50" x2="611.78" y2="113.20" stroke="#3a3a3a" stroke-width="1" />
<text x="611.78" y="125.40" font-size="9" text-anchor="middle" fill="#231f20" >2</text>
<line x1="622.62" y1="115.50" x2="622.62" y2="113.20" stroke="#3a3a3a" stroke-width="1" />
<text x="622.62" y="125.40" font-size="9" text-anchor="middle" fill="#231f20" >3</text>
<line x1="633.46" y1="115.50" x2="633.46" y2="113.20" stroke="#3a3a3a" stroke-width="1" />
<text x="633.46" y="125.40" font-size="9" text-anchor="middle" fill="#231f20" >4</text>
<line x1="644.30" y1="115.50" x2="644.30" y2="113.20" stroke="#3a3a3a" stroke-width="1" />
<text x="644.30" y="125.40" font-size="9" text-anchor="middle" fill="#231f20" >5</text>
<line x1="655.14" y1="115.50" x2="655.14" y2="113.20" stroke="#3a3a3a" stroke-width="1" />
<text x="655.14" y="125.40" font-size="9" text-anchor="middle" fill="#231f20" >6</text>
<line x1="665.98" y1="115.50" x2="665.98" y2="113.20" stroke="#3a3a3a" stroke-width="1" />
<text x="665.98" y="125.40" font-size="9" text-anchor="middle" fill="#231f20" >7</text>
<line x1="676.82" y1="115.50" x2="676.82" y2="113.20" stroke="#3a3a3a" stroke-width="1" />
<text x="676.82" y="125.40" font-size="9" text-anchor="middle" fill="#231f20" >8</text>
<text x="636.30" y="137.00" font-size="9.5" text-anchor="middle" font-style="italic" fill="#231f20" >h</text>
<text transform="translate(547.5,78.5) rotate(-90)" font-size="8.7" text-anchor="middle" fill="#231f20">Energy (eV)</text>
<path d="M590.10,108.70 L600.94,101.80 L611.78,95.00 L622.62,87.60 L633.46,79.50 L644.30,71.30 L655.14,63.20 L665.98,54.20 L676.82,45.60" fill="none" stroke="#9a9a9a" stroke-width="0.75" stroke-linejoin="round" stroke-dasharray="1.8,1.3"/>
<rect x="589.10" y="107.70" width="2.0" height="2.0" fill="#e0303a"/>
<rect x="599.94" y="100.80" width="2.0" height="2.0" fill="#3b5a9c"/>
<rect x="610.78" y="94.00" width="2.0" height="2.0" fill="#e0303a"/>
<rect x="621.62" y="86.60" width="2.0" height="2.0" fill="#3b5a9c"/>
<rect x="632.46" y="78.50" width="2.0" height="2.0" fill="#e0303a"/>
<rect x="643.30" y="70.30" width="2.0" height="2.0" fill="#3b5a9c"/>
<rect x="654.14" y="62.20" width="2.0" height="2.0" fill="#e0303a"/>
<rect x="664.98" y="53.20" width="2.0" height="2.0" fill="#3b5a9c"/>
<rect x="675.82" y="44.60" width="2.0" height="2.0" fill="#e0303a"/>
<rect x="590" y="48.9" width="1.7" height="1.7" fill="#e0303a"/>
<text x="595.60" y="51.80" font-size="8.8" text-anchor="start" fill="#231f20" ><tspan font-style="italic">h</tspan> = 2<tspan font-style="italic">N</tspan></text>
<rect x="590" y="61.2" width="1.7" height="1.7" fill="#3b5a8c"/>
<text x="595.60" y="64.70" font-size="8.8" text-anchor="start" fill="#231f20" ><tspan font-style="italic">h</tspan> = 2<tspan font-style="italic">N</tspan>+1</text>
<rect x="34.00" y="222.30" width="139.90" height="136.40" fill="url(#dgrad)" stroke="none" stroke-width="1" />
<rect x="34.00" y="222.30" width="139.90" height="136.40" fill="url(#dlr)" stroke="none" stroke-width="1" />
<text x="104.60" y="248.70" font-size="9.0" text-anchor="middle" fill="#f4f0f0" textLength="25.6" lengthAdjust="spacingAndGlyphs"><tspan font-style="italic">m</tspan> = 81</text>
<text x="105.30" y="296.60" font-size="9.0" text-anchor="middle" fill="#f4f0f0" textLength="27.0" lengthAdjust="spacingAndGlyphs"><tspan font-style="italic">m</tspan> = 80</text>
<text x="105.30" y="342.20" font-size="9.0" text-anchor="middle" fill="#f4f0f0" textLength="27.0" lengthAdjust="spacingAndGlyphs"><tspan font-style="italic">m</tspan> = 79</text>
<line x1="34.40" y1="358.70" x2="34.40" y2="360.70" stroke="#3a3a3a" stroke-width="1" />
<text x="34.40" y="372.50" font-size="10.4" text-anchor="middle" fill="#231f20" >-6</text>
<line x1="57.66" y1="358.70" x2="57.66" y2="360.70" stroke="#3a3a3a" stroke-width="1" />
<text x="57.66" y="372.50" font-size="10.4" text-anchor="middle" fill="#231f20" >-4</text>
<line x1="80.92" y1="358.70" x2="80.92" y2="360.70" stroke="#3a3a3a" stroke-width="1" />
<text x="80.92" y="372.50" font-size="10.4" text-anchor="middle" fill="#231f20" >-2</text>
<line x1="104.18" y1="358.70" x2="104.18" y2="360.70" stroke="#3a3a3a" stroke-width="1" />
<text x="104.18" y="372.50" font-size="10.4" text-anchor="middle" fill="#231f20" >0</text>
<line x1="127.44" y1="358.70" x2="127.44" y2="360.70" stroke="#3a3a3a" stroke-width="1" />
<text x="127.44" y="372.50" font-size="10.4" text-anchor="middle" fill="#231f20" >2</text>
<line x1="150.70" y1="358.70" x2="150.70" y2="360.70" stroke="#3a3a3a" stroke-width="1" />
<text x="150.70" y="372.50" font-size="10.4" text-anchor="middle" fill="#231f20" >4</text>
<line x1="173.96" y1="358.70" x2="173.96" y2="360.70" stroke="#3a3a3a" stroke-width="1" />
<text x="172.76" y="372.50" font-size="10.4" text-anchor="middle" fill="#231f20" >6</text>
<text x="104.50" y="387.40" font-size="10.4" text-anchor="middle" fill="#231f20" >Position (μm)</text>
<rect x="177.20" y="222.50" width="27.40" height="136.00" fill="none" stroke="#3a3a3a" stroke-width="1" />
<line x1="177.10" y1="222.00" x2="177.10" y2="359.00" stroke="#b4b4b4" stroke-width="1.8" />
<line x1="204.60" y1="226.90" x2="202.60" y2="226.90" stroke="#3a3a3a" stroke-width="1" />
<line x1="204.60" y1="252.50" x2="202.60" y2="252.50" stroke="#3a3a3a" stroke-width="1" />
<line x1="204.60" y1="278.10" x2="202.60" y2="278.10" stroke="#3a3a3a" stroke-width="1" />
<line x1="204.60" y1="303.70" x2="202.60" y2="303.70" stroke="#3a3a3a" stroke-width="1" />
<line x1="204.60" y1="329.30" x2="202.60" y2="329.30" stroke="#3a3a3a" stroke-width="1" />
<line x1="204.60" y1="354.90" x2="202.60" y2="354.90" stroke="#3a3a3a" stroke-width="1" />
<text x="208.90" y="256.20" font-size="10.4" text-anchor="start" fill="#231f20" >1.44</text>
<text x="208.90" y="307.40" font-size="10.4" text-anchor="start" fill="#231f20" >1.42</text>
<text x="208.90" y="358.60" font-size="10.4" text-anchor="start" fill="#231f20" >1.40</text>
<text x="177.20" y="372.30" font-size="10.4" text-anchor="start" fill="#231f20" >Intensity</text>
<text x="196.80" y="384.30" font-size="10.4" text-anchor="middle" fill="#231f20" >(a. u.)</text>
<text transform="translate(237.6,290.9) rotate(90)" font-size="10.2" text-anchor="middle" fill="#231f20">Energy (eV)</text>
<path d="M178.00,222.70 L178.22,223.39 L178.51,224.33 L178.87,225.46 L179.29,226.67 L179.76,227.88 L180.30,229.00 L180.89,230.07 L181.54,231.17 L182.24,232.27 L183.02,233.34 L183.87,234.36 L184.80,235.30 L185.84,236.15 L187.00,236.94 L188.24,237.67 L189.51,238.36 L190.77,239.03 L192.00,239.70 L193.21,240.35 L194.45,240.97 L195.68,241.57 L196.89,242.15 L198.03,242.73 L199.10,243.30 L200.20,243.87 L201.39,244.43 L202.52,244.99 L203.46,245.53 L204.07,246.07 L204.20,246.60 L203.77,247.11 L202.86,247.60 L201.62,248.08 L200.19,248.57 L198.70,249.07 L197.30,249.60 L195.89,250.15 L194.35,250.72 L192.76,251.31 L191.18,251.91 L189.70,252.54 L188.40,253.20 L187.28,253.89 L186.27,254.60 L185.37,255.34 L184.54,256.10 L183.76,256.89 L183.00,257.70 L182.28,258.55 L181.60,259.43 L180.97,260.34 L180.40,261.27 L179.88,262.19 L179.40,263.10 L178.95,263.98 L178.53,264.83 L178.16,265.69 L177.87,266.57 L177.67,267.50 L177.60,268.50 L177.65,269.61 L177.80,270.80 L178.05,272.04 L178.40,273.30 L178.85,274.53 L179.40,275.70 L180.05,276.79 L180.80,277.84 L181.66,278.86 L182.61,279.87 L183.66,280.91 L184.80,282.00 L186.12,283.17 L187.63,284.40 L189.23,285.66 L190.84,286.89 L192.36,288.05 L193.70,289.10 L195.02,290.01 L196.42,290.81 L197.73,291.54 L198.78,292.24 L199.40,292.95 L199.40,293.70 L198.62,294.48 L197.14,295.25 L195.24,296.03 L193.14,296.83 L191.12,297.65 L189.40,298.50 L187.93,299.37 L186.51,300.26 L185.14,301.17 L183.87,302.12 L182.71,303.12 L181.70,304.20 L180.84,305.41 L180.11,306.76 L179.49,308.16 L178.98,309.54 L178.56,310.81 L178.20,311.90 L177.93,312.70 L177.75,313.27 L177.66,313.73 L177.64,314.22 L177.69,314.86 L177.80,315.80 L177.95,317.09 L178.15,318.65 L178.42,320.36 L178.77,322.13 L179.22,323.84 L179.80,325.40 L180.50,326.83 L181.31,328.21 L182.23,329.55 L183.24,330.82 L184.33,332.01 L185.50,333.10 L186.95,334.07 L188.75,334.91 L190.62,335.68 L192.33,336.41 L193.61,337.13 L194.20,337.90 L193.96,338.67 L193.07,339.39 L191.76,340.12 L190.24,340.89 L188.74,341.73 L187.50,342.70 L186.46,343.82 L185.44,345.06 L184.44,346.38 L183.48,347.73 L182.56,349.09 L181.70,350.40 L180.86,351.76 L180.03,353.22 L179.24,354.68 L178.53,356.03 L177.94,357.17 L177.50,358.00" fill="none" stroke="#cc2832" stroke-width="1.25" stroke-linejoin="round" />
<g clip-path="url(#clipe)">
<rect x="266.3" y="222" width="138.3" height="1" fill="url(#er0)" shape-rendering="crispEdges"/>
<rect x="266.3" y="223" width="138.3" height="1" fill="url(#er1)" shape-rendering="crispEdges"/>
<rect x="266.3" y="224" width="138.3" height="1" fill="url(#er2)" shape-rendering="crispEdges"/>
<rect x="266.3" y="225" width="138.3" height="1" fill="url(#er3)" shape-rendering="crispEdges"/>
<rect x="266.3" y="226" width="138.3" height="1" fill="url(#er4)" shape-rendering="crispEdges"/>
<rect x="266.3" y="227" width="138.3" height="1" fill="url(#er5)" shape-rendering="crispEdges"/>
<rect x="266.3" y="228" width="138.3" height="1" fill="url(#er6)" shape-rendering="crispEdges"/>
<rect x="266.3" y="229" width="138.3" height="1" fill="url(#er7)" shape-rendering="crispEdges"/>
<rect x="266.3" y="230" width="138.3" height="1" fill="url(#er8)" shape-rendering="crispEdges"/>
<rect x="266.3" y="231" width="138.3" height="1" fill="url(#er9)" shape-rendering="crispEdges"/>
<rect x="266.3" y="232" width="138.3" height="1" fill="url(#er10)" shape-rendering="crispEdges"/>
<rect x="266.3" y="233" width="138.3" height="1" fill="url(#er11)" shape-rendering="crispEdges"/>
<rect x="266.3" y="234" width="138.3" height="1" fill="url(#er12)" shape-rendering="crispEdges"/>
<rect x="266.3" y="235" width="138.3" height="1" fill="url(#er13)" shape-rendering="crispEdges"/>
<rect x="266.3" y="236" width="138.3" height="1" fill="url(#er14)" shape-rendering="crispEdges"/>
<rect x="266.3" y="237" width="138.3" height="1" fill="url(#er15)" shape-rendering="crispEdges"/>
<rect x="266.3" y="238" width="138.3" height="1" fill="url(#er16)" shape-rendering="crispEdges"/>
<rect x="266.3" y="239" width="138.3" height="1" fill="url(#er17)" shape-rendering="crispEdges"/>
<rect x="266.3" y="240" width="138.3" height="1" fill="url(#er18)" shape-rendering="crispEdges"/>
<rect x="266.3" y="241" width="138.3" height="1" fill="url(#er19)" shape-rendering="crispEdges"/>
<rect x="266.3" y="242" width="138.3" height="1" fill="url(#er20)" shape-rendering="crispEdges"/>
<rect x="266.3" y="243" width="138.3" height="1" fill="url(#er21)" shape-rendering="crispEdges"/>
<rect x="266.3" y="244" width="138.3" height="1" fill="url(#er22)" shape-rendering="crispEdges"/>
<rect x="266.3" y="245" width="138.3" height="1" fill="url(#er23)" shape-rendering="crispEdges"/>
<rect x="266.3" y="246" width="138.3" height="1" fill="url(#er24)" shape-rendering="crispEdges"/>
<rect x="266.3" y="247" width="138.3" height="1" fill="url(#er25)" shape-rendering="crispEdges"/>
<rect x="266.3" y="248" width="138.3" height="1" fill="url(#er26)" shape-rendering="crispEdges"/>
<rect x="266.3" y="249" width="138.3" height="1" fill="url(#er27)" shape-rendering="crispEdges"/>
<rect x="266.3" y="250" width="138.3" height="1" fill="url(#er28)" shape-rendering="crispEdges"/>
<rect x="266.3" y="251" width="138.3" height="1" fill="url(#er29)" shape-rendering="crispEdges"/>
<rect x="266.3" y="252" width="138.3" height="1" fill="url(#er30)" shape-rendering="crispEdges"/>
<rect x="266.3" y="253" width="138.3" height="1" fill="url(#er31)" shape-rendering="crispEdges"/>
<rect x="266.3" y="254" width="138.3" height="1" fill="url(#er32)" shape-rendering="crispEdges"/>
<rect x="266.3" y="255" width="138.3" height="1" fill="url(#er33)" shape-rendering="crispEdges"/>
<rect x="266.3" y="256" width="138.3" height="1" fill="url(#er34)" shape-rendering="crispEdges"/>
<rect x="266.3" y="257" width="138.3" height="1" fill="url(#er35)" shape-rendering="crispEdges"/>
<rect x="266.3" y="258" width="138.3" height="1" fill="url(#er36)" shape-rendering="crispEdges"/>
<rect x="266.3" y="259" width="138.3" height="1" fill="url(#er37)" shape-rendering="crispEdges"/>
<rect x="266.3" y="260" width="138.3" height="1" fill="url(#er38)" shape-rendering="crispEdges"/>
<rect x="266.3" y="261" width="138.3" height="1" fill="url(#er39)" shape-rendering="crispEdges"/>
<rect x="266.3" y="262" width="138.3" height="1" fill="url(#er40)" shape-rendering="crispEdges"/>
<rect x="266.3" y="263" width="138.3" height="1" fill="url(#er41)" shape-rendering="crispEdges"/>
<rect x="266.3" y="264" width="138.3" height="1" fill="url(#er42)" shape-rendering="crispEdges"/>
<rect x="266.3" y="265" width="138.3" height="1" fill="url(#er43)" shape-rendering="crispEdges"/>
<rect x="266.3" y="266" width="138.3" height="1" fill="url(#er44)" shape-rendering="crispEdges"/>
<rect x="266.3" y="267" width="138.3" height="1" fill="url(#er45)" shape-rendering="crispEdges"/>
<rect x="266.3" y="268" width="138.3" height="1" fill="url(#er46)" shape-rendering="crispEdges"/>
<rect x="266.3" y="269" width="138.3" height="1" fill="url(#er47)" shape-rendering="crispEdges"/>
<rect x="266.3" y="270" width="138.3" height="1" fill="url(#er48)" shape-rendering="crispEdges"/>
<rect x="266.3" y="271" width="138.3" height="1" fill="url(#er49)" shape-rendering="crispEdges"/>
<rect x="266.3" y="272" width="138.3" height="1" fill="url(#er50)" shape-rendering="crispEdges"/>
<rect x="266.3" y="273" width="138.3" height="1" fill="url(#er51)" shape-rendering="crispEdges"/>
<rect x="266.3" y="274" width="138.3" height="1" fill="url(#er52)" shape-rendering="crispEdges"/>
<rect x="266.3" y="275" width="138.3" height="1" fill="url(#er53)" shape-rendering="crispEdges"/>
<rect x="266.3" y="276" width="138.3" height="1" fill="url(#er54)" shape-rendering="crispEdges"/>
<rect x="266.3" y="277" width="138.3" height="1" fill="url(#er55)" shape-rendering="crispEdges"/>
<rect x="266.3" y="278" width="138.3" height="1" fill="url(#er56)" shape-rendering="crispEdges"/>
<rect x="266.3" y="279" width="138.3" height="1" fill="url(#er57)" shape-rendering="crispEdges"/>
<rect x="266.3" y="280" width="138.3" height="1" fill="url(#er58)" shape-rendering="crispEdges"/>
<rect x="266.3" y="281" width="138.3" height="1" fill="url(#er59)" shape-rendering="crispEdges"/>
<rect x="266.3" y="282" width="138.3" height="1" fill="url(#er60)" shape-rendering="crispEdges"/>
<rect x="266.3" y="283" width="138.3" height="1" fill="url(#er61)" shape-rendering="crispEdges"/>
<rect x="266.3" y="284" width="138.3" height="1" fill="url(#er62)" shape-rendering="crispEdges"/>
<rect x="266.3" y="285" width="138.3" height="1" fill="url(#er63)" shape-rendering="crispEdges"/>
<rect x="266.3" y="286" width="138.3" height="1" fill="url(#er64)" shape-rendering="crispEdges"/>
<rect x="266.3" y="287" width="138.3" height="1" fill="url(#er65)" shape-rendering="crispEdges"/>
<rect x="266.3" y="288" width="138.3" height="1" fill="url(#er66)" shape-rendering="crispEdges"/>
<rect x="266.3" y="289" width="138.3" height="1" fill="url(#er67)" shape-rendering="crispEdges"/>
<rect x="266.3" y="290" width="138.3" height="1" fill="url(#er68)" shape-rendering="crispEdges"/>
<rect x="266.3" y="291" width="138.3" height="1" fill="url(#er69)" shape-rendering="crispEdges"/>
<rect x="266.3" y="292" width="138.3" height="1" fill="url(#er70)" shape-rendering="crispEdges"/>
<rect x="266.3" y="293" width="138.3" height="1" fill="url(#er71)" shape-rendering="crispEdges"/>
<rect x="266.3" y="294" width="138.3" height="1" fill="url(#er72)" shape-rendering="crispEdges"/>
<rect x="266.3" y="295" width="138.3" height="1" fill="url(#er73)" shape-rendering="crispEdges"/>
<rect x="266.3" y="296" width="138.3" height="1" fill="url(#er74)" shape-rendering="crispEdges"/>
<rect x="266.3" y="297" width="138.3" height="1" fill="url(#er75)" shape-rendering="crispEdges"/>
<rect x="266.3" y="298" width="138.3" height="1" fill="url(#er76)" shape-rendering="crispEdges"/>
<rect x="266.3" y="299" width="138.3" height="1" fill="url(#er77)" shape-rendering="crispEdges"/>
<rect x="266.3" y="300" width="138.3" height="1" fill="url(#er78)" shape-rendering="crispEdges"/>
<rect x="266.3" y="301" width="138.3" height="1" fill="url(#er79)" shape-rendering="crispEdges"/>
<rect x="266.3" y="302" width="138.3" height="1" fill="url(#er80)" shape-rendering="crispEdges"/>
<rect x="266.3" y="303" width="138.3" height="1" fill="url(#er81)" shape-rendering="crispEdges"/>
<rect x="266.3" y="304" width="138.3" height="1" fill="url(#er82)" shape-rendering="crispEdges"/>
<rect x="266.3" y="305" width="138.3" height="1" fill="url(#er83)" shape-rendering="crispEdges"/>
<rect x="266.3" y="306" width="138.3" height="1" fill="url(#er84)" shape-rendering="crispEdges"/>
<rect x="266.3" y="307" width="138.3" height="1" fill="url(#er85)" shape-rendering="crispEdges"/>
<rect x="266.3" y="308" width="138.3" height="1" fill="url(#er86)" shape-rendering="crispEdges"/>
<rect x="266.3" y="309" width="138.3" height="1" fill="url(#er87)" shape-rendering="crispEdges"/>
<rect x="266.3" y="310" width="138.3" height="1" fill="url(#er88)" shape-rendering="crispEdges"/>
<rect x="266.3" y="311" width="138.3" height="1" fill="url(#er89)" shape-rendering="crispEdges"/>
<rect x="266.3" y="312" width="138.3" height="1" fill="url(#er90)" shape-rendering="crispEdges"/>
<rect x="266.3" y="313" width="138.3" height="1" fill="url(#er91)" shape-rendering="crispEdges"/>
<rect x="266.3" y="314" width="138.3" height="1" fill="url(#er92)" shape-rendering="crispEdges"/>
<rect x="266.3" y="315" width="138.3" height="1" fill="url(#er93)" shape-rendering="crispEdges"/>
<rect x="266.3" y="316" width="138.3" height="1" fill="url(#er94)" shape-rendering="crispEdges"/>
<rect x="266.3" y="317" width="138.3" height="1" fill="url(#er95)" shape-rendering="crispEdges"/>
<rect x="266.3" y="318" width="138.3" height="1" fill="url(#er96)" shape-rendering="crispEdges"/>
<rect x="266.3" y="319" width="138.3" height="1" fill="url(#er97)" shape-rendering="crispEdges"/>
<rect x="266.3" y="320" width="138.3" height="1" fill="url(#er98)" shape-rendering="crispEdges"/>
<rect x="266.3" y="321" width="138.3" height="1" fill="url(#er99)" shape-rendering="crispEdges"/>
<rect x="266.3" y="322" width="138.3" height="1" fill="url(#er100)" shape-rendering="crispEdges"/>
<rect x="266.3" y="323" width="138.3" height="1" fill="url(#er101)" shape-rendering="crispEdges"/>
<rect x="266.3" y="324" width="138.3" height="1" fill="url(#er102)" shape-rendering="crispEdges"/>
<rect x="266.3" y="325" width="138.3" height="1" fill="url(#er103)" shape-rendering="crispEdges"/>
<rect x="266.3" y="326" width="138.3" height="1" fill="url(#er104)" shape-rendering="crispEdges"/>
<rect x="266.3" y="327" width="138.3" height="1" fill="url(#er105)" shape-rendering="crispEdges"/>
<rect x="266.3" y="328" width="138.3" height="1" fill="url(#er106)" shape-rendering="crispEdges"/>
<rect x="266.3" y="329" width="138.3" height="1" fill="url(#er107)" shape-rendering="crispEdges"/>
<rect x="266.3" y="330" width="138.3" height="1" fill="url(#er108)" shape-rendering="crispEdges"/>
<rect x="266.3" y="331" width="138.3" height="1" fill="url(#er109)" shape-rendering="crispEdges"/>
<rect x="266.3" y="332" width="138.3" height="1" fill="url(#er110)" shape-rendering="crispEdges"/>
<rect x="266.3" y="333" width="138.3" height="1" fill="url(#er111)" shape-rendering="crispEdges"/>
<rect x="266.3" y="334" width="138.3" height="1" fill="url(#er112)" shape-rendering="crispEdges"/>
<rect x="266.3" y="335" width="138.3" height="1" fill="url(#er113)" shape-rendering="crispEdges"/>
<rect x="266.3" y="336" width="138.3" height="1" fill="url(#er114)" shape-rendering="crispEdges"/>
<rect x="266.3" y="337" width="138.3" height="1" fill="url(#er115)" shape-rendering="crispEdges"/>
<rect x="266.3" y="338" width="138.3" height="1" fill="url(#er116)" shape-rendering="crispEdges"/>
<rect x="266.3" y="339" width="138.3" height="1" fill="url(#er117)" shape-rendering="crispEdges"/>
<rect x="266.3" y="340" width="138.3" height="1" fill="url(#er118)" shape-rendering="crispEdges"/>
<rect x="266.3" y="341" width="138.3" height="1" fill="url(#er119)" shape-rendering="crispEdges"/>
<rect x="266.3" y="342" width="138.3" height="1" fill="url(#er120)" shape-rendering="crispEdges"/>
<rect x="266.3" y="343" width="138.3" height="1" fill="url(#er121)" shape-rendering="crispEdges"/>
<rect x="266.3" y="344" width="138.3" height="1" fill="url(#er122)" shape-rendering="crispEdges"/>
<rect x="266.3" y="345" width="138.3" height="1" fill="url(#er123)" shape-rendering="crispEdges"/>
<rect x="266.3" y="346" width="138.3" height="1" fill="url(#er124)" shape-rendering="crispEdges"/>
<rect x="266.3" y="347" width="138.3" height="1" fill="url(#er125)" shape-rendering="crispEdges"/>
<rect x="266.3" y="348" width="138.3" height="1" fill="url(#er126)" shape-rendering="crispEdges"/>
<rect x="266.3" y="349" width="138.3" height="1" fill="url(#er127)" shape-rendering="crispEdges"/>
<rect x="266.3" y="350" width="138.3" height="1" fill="url(#er128)" shape-rendering="crispEdges"/>
<rect x="266.3" y="351" width="138.3" height="1" fill="url(#er129)" shape-rendering="crispEdges"/>
<rect x="266.3" y="352" width="138.3" height="1" fill="url(#er130)" shape-rendering="crispEdges"/>
<rect x="266.3" y="353" width="138.3" height="1" fill="url(#er131)" shape-rendering="crispEdges"/>
<rect x="266.3" y="354" width="138.3" height="1" fill="url(#er132)" shape-rendering="crispEdges"/>
<rect x="266.3" y="355" width="138.3" height="1" fill="url(#er133)" shape-rendering="crispEdges"/>
<rect x="266.3" y="356" width="138.3" height="1" fill="url(#er134)" shape-rendering="crispEdges"/>
<rect x="266.3" y="357" width="138.3" height="1" fill="url(#er135)" shape-rendering="crispEdges"/>
<rect x="266.3" y="358" width="138.3" height="1" fill="url(#er136)" shape-rendering="crispEdges"/>
</g>
<g clip-path="url(#clipe)">
<path d="M266.30,223.25 L267.29,224.19 L268.28,225.11 L269.26,226.02 L270.25,226.91 L271.24,227.80 L272.23,228.66 L273.22,229.52 L274.20,230.36 L275.19,231.19 L276.18,232.00 L277.17,232.80 L278.15,233.59 L279.14,234.36 L280.13,235.12 L281.12,235.87 L282.11,236.60 L283.09,237.32 L284.08,238.03 L285.07,238.72 L286.06,239.40 L287.05,240.07 L288.03,240.72 L289.02,241.36 L290.01,241.98 L291.00,242.60 L291.98,243.19 L292.97,243.78 L293.96,244.35 L294.95,244.91 L295.94,245.45 L296.92,245.98 L297.91,246.50 L298.90,247.01 L299.89,247.50 L300.88,247.98 L301.86,248.44 L302.85,248.89 L303.84,249.33 L304.83,249.75 L305.81,250.16 L306.80,250.56 L307.79,250.94 L308.78,251.31 L309.77,251.67 L310.75,252.01 L311.74,252.34 L312.73,252.65 L313.72,252.96 L314.71,253.24 L315.69,253.52 L316.68,253.78 L317.67,254.03 L318.66,254.27 L319.64,254.49 L320.63,254.70 L321.62,254.89 L322.61,255.07 L323.60,255.24 L324.58,255.39 L325.57,255.53 L326.56,255.66 L327.55,255.77 L328.54,255.87 L329.52,255.96 L330.51,256.04 L331.50,256.09 L332.49,256.14 L333.47,256.17 L334.46,256.19 L335.45,256.20 L336.44,256.19 L337.43,256.17 L338.41,256.14 L339.40,256.09 L340.39,256.03 L341.38,255.95 L342.37,255.87 L343.35,255.76 L344.34,255.65 L345.33,255.52 L346.32,255.38 L347.30,255.22 L348.29,255.05 L349.28,254.87 L350.27,254.67 L351.26,254.47 L352.24,254.24 L353.23,254.01 L354.22,253.76 L355.21,253.49 L356.20,253.22 L357.18,252.93 L358.17,252.62 L359.16,252.31 L360.15,251.97 L361.13,251.63 L362.12,251.27 L363.11,250.90 L364.10,250.52 L365.09,250.12 L366.07,249.71 L367.06,249.28 L368.05,248.84 L369.04,248.39 L370.03,247.93 L371.01,247.45 L372.00,246.96 L372.99,246.45 L373.98,245.93 L374.96,245.40 L375.95,244.85 L376.94,244.29 L377.93,243.72 L378.92,243.13 L379.90,242.53 L380.89,241.92 L381.88,241.29 L382.87,240.65 L383.86,240.00 L384.84,239.33 L385.83,238.65 L386.82,237.96 L387.81,237.25 L388.79,236.53 L389.78,235.79 L390.77,235.05 L391.76,234.28 L392.75,233.51 L393.73,232.72 L394.72,231.92 L395.71,231.10 L396.70,230.27 L397.69,229.43 L398.67,228.58 L399.66,227.71 L400.65,226.82 L401.64,225.93 L402.62,225.02 L403.61,224.10 L404.60,223.16" fill="none" stroke="#ece4e4" stroke-width="1.3" stroke-linejoin="round" stroke-dasharray="4,3.2" stroke-linecap="butt"/>
<path d="M266.30,272.45 L267.29,273.39 L268.28,274.31 L269.26,275.22 L270.25,276.11 L271.24,277.00 L272.23,277.86 L273.22,278.72 L274.20,279.56 L275.19,280.39 L276.18,281.20 L277.17,282.00 L278.15,282.79 L279.14,283.56 L280.13,284.32 L281.12,285.07 L282.11,285.80 L283.09,286.52 L284.08,287.23 L285.07,287.92 L286.06,288.60 L287.05,289.27 L288.03,289.92 L289.02,290.56 L290.01,291.18 L291.00,291.80 L291.98,292.39 L292.97,292.98 L293.96,293.55 L294.95,294.11 L295.94,294.65 L296.92,295.18 L297.91,295.70 L298.90,296.21 L299.89,296.70 L300.88,297.18 L301.86,297.64 L302.85,298.09 L303.84,298.53 L304.83,298.95 L305.81,299.36 L306.80,299.76 L307.79,300.14 L308.78,300.51 L309.77,300.87 L310.75,301.21 L311.74,301.54 L312.73,301.85 L313.72,302.16 L314.71,302.44 L315.69,302.72 L316.68,302.98 L317.67,303.23 L318.66,303.47 L319.64,303.69 L320.63,303.90 L321.62,304.09 L322.61,304.27 L323.60,304.44 L324.58,304.59 L325.57,304.73 L326.56,304.86 L327.55,304.97 L328.54,305.07 L329.52,305.16 L330.51,305.24 L331.50,305.29 L332.49,305.34 L333.47,305.37 L334.46,305.39 L335.45,305.40 L336.44,305.39 L337.43,305.37 L338.41,305.34 L339.40,305.29 L340.39,305.23 L341.38,305.15 L342.37,305.07 L343.35,304.96 L344.34,304.85 L345.33,304.72 L346.32,304.58 L347.30,304.42 L348.29,304.25 L349.28,304.07 L350.27,303.87 L351.26,303.67 L352.24,303.44 L353.23,303.21 L354.22,302.96 L355.21,302.69 L356.20,302.42 L357.18,302.13 L358.17,301.82 L359.16,301.51 L360.15,301.17 L361.13,300.83 L362.12,300.47 L363.11,300.10 L364.10,299.72 L365.09,299.32 L366.07,298.91 L367.06,298.48 L368.05,298.04 L369.04,297.59 L370.03,297.13 L371.01,296.65 L372.00,296.16 L372.99,295.65 L373.98,295.13 L374.96,294.60 L375.95,294.05 L376.94,293.49 L377.93,292.92 L378.92,292.33 L379.90,291.73 L380.89,291.12 L381.88,290.49 L382.87,289.85 L383.86,289.20 L384.84,288.53 L385.83,287.85 L386.82,287.16 L387.81,286.45 L388.79,285.73 L389.78,284.99 L390.77,284.25 L391.76,283.48 L392.75,282.71 L393.73,281.92 L394.72,281.12 L395.71,280.30 L396.70,279.47 L397.69,278.63 L398.67,277.78 L399.66,276.91 L400.65,276.02 L401.64,275.13 L402.62,274.22 L403.61,273.30 L404.60,272.36" fill="none" stroke="#ece4e4" stroke-width="1.3" stroke-linejoin="round" stroke-dasharray="4,3.2" stroke-linecap="butt"/>
<path d="M266.30,320.55 L267.29,321.49 L268.28,322.41 L269.26,323.32 L270.25,324.21 L271.24,325.10 L272.23,325.96 L273.22,326.82 L274.20,327.66 L275.19,328.49 L276.18,329.30 L277.17,330.10 L278.15,330.89 L279.14,331.66 L280.13,332.42 L281.12,333.17 L282.11,333.90 L283.09,334.62 L284.08,335.33 L285.07,336.02 L286.06,336.70 L287.05,337.37 L288.03,338.02 L289.02,338.66 L290.01,339.28 L291.00,339.90 L291.98,340.49 L292.97,341.08 L293.96,341.65 L294.95,342.21 L295.94,342.75 L296.92,343.28 L297.91,343.80 L298.90,344.31 L299.89,344.80 L300.88,345.28 L301.86,345.74 L302.85,346.19 L303.84,346.63 L304.83,347.05 L305.81,347.46 L306.80,347.86 L307.79,348.24 L308.78,348.61 L309.77,348.97 L310.75,349.31 L311.74,349.64 L312.73,349.95 L313.72,350.26 L314.71,350.54 L315.69,350.82 L316.68,351.08 L317.67,351.33 L318.66,351.57 L319.64,351.79 L320.63,352.00 L321.62,352.19 L322.61,352.37 L323.60,352.54 L324.58,352.69 L325.57,352.83 L326.56,352.96 L327.55,353.07 L328.54,353.17 L329.52,353.26 L330.51,353.34 L331.50,353.39 L332.49,353.44 L333.47,353.47 L334.46,353.49 L335.45,353.50 L336.44,353.49 L337.43,353.47 L338.41,353.44 L339.40,353.39 L340.39,353.33 L341.38,353.25 L342.37,353.17 L343.35,353.06 L344.34,352.95 L345.33,352.82 L346.32,352.68 L347.30,352.52 L348.29,352.35 L349.28,352.17 L350.27,351.97 L351.26,351.77 L352.24,351.54 L353.23,351.31 L354.22,351.06 L355.21,350.79 L356.20,350.52 L357.18,350.23 L358.17,349.92 L359.16,349.61 L360.15,349.27 L361.13,348.93 L362.12,348.57 L363.11,348.20 L364.10,347.82 L365.09,347.42 L366.07,347.01 L367.06,346.58 L368.05,346.14 L369.04,345.69 L370.03,345.23 L371.01,344.75 L372.00,344.26 L372.99,343.75 L373.98,343.23 L374.96,342.70 L375.95,342.15 L376.94,341.59 L377.93,341.02 L378.92,340.43 L379.90,339.83 L380.89,339.22 L381.88,338.59 L382.87,337.95 L383.86,337.30 L384.84,336.63 L385.83,335.95 L386.82,335.26 L387.81,334.55 L388.79,333.83 L389.78,333.09 L390.77,332.35 L391.76,331.58 L392.75,330.81 L393.73,330.02 L394.72,329.22 L395.71,328.40 L396.70,327.57 L397.69,326.73 L398.67,325.88 L399.66,325.01 L400.65,324.12 L401.64,323.23 L402.62,322.32 L403.61,321.40 L404.60,320.46" fill="none" stroke="#ece4e4" stroke-width="1.3" stroke-linejoin="round" stroke-dasharray="4,3.2" stroke-linecap="butt"/>
</g>
<text x="336.40" y="244.30" font-size="8.8" text-anchor="middle" fill="#e6e2e2" textLength="27.0" lengthAdjust="spacingAndGlyphs"><tspan font-style="italic">m</tspan> = 76</text>
<text x="336.40" y="288.90" font-size="8.8" text-anchor="middle" fill="#e6e2e2" textLength="27.0" lengthAdjust="spacingAndGlyphs"><tspan font-style="italic">m</tspan> = 75</text>
<text x="336.20" y="338.90" font-size="8.8" text-anchor="middle" fill="#e6e2e2" textLength="26.6" lengthAdjust="spacingAndGlyphs"><tspan font-style="italic">m</tspan> = 74</text>
<line x1="266.30" y1="358.60" x2="266.30" y2="360.60" stroke="#3a3a3a" stroke-width="1" />
<text x="266.30" y="372.50" font-size="10.4" text-anchor="middle" fill="#231f20" >-6</text>
<line x1="289.36" y1="358.60" x2="289.36" y2="360.60" stroke="#3a3a3a" stroke-width="1" />
<text x="289.36" y="372.50" font-size="10.4" text-anchor="middle" fill="#231f20" >-4</text>
<line x1="312.42" y1="358.60" x2="312.42" y2="360.60" stroke="#3a3a3a" stroke-width="1" />
<text x="312.42" y="372.50" font-size="10.4" text-anchor="middle" fill="#231f20" >-2</text>
<line x1="335.48" y1="358.60" x2="335.48" y2="360.60" stroke="#3a3a3a" stroke-width="1" />
<text x="335.48" y="372.50" font-size="10.4" text-anchor="middle" fill="#231f20" >0</text>
<line x1="358.54" y1="358.60" x2="358.54" y2="360.60" stroke="#3a3a3a" stroke-width="1" />
<text x="358.54" y="372.50" font-size="10.4" text-anchor="middle" fill="#231f20" >2</text>
<line x1="381.60" y1="358.60" x2="381.60" y2="360.60" stroke="#3a3a3a" stroke-width="1" />
<text x="381.60" y="372.50" font-size="10.4" text-anchor="middle" fill="#231f20" >4</text>
<line x1="404.66" y1="358.60" x2="404.66" y2="360.60" stroke="#3a3a3a" stroke-width="1" />
<text x="404.16" y="372.50" font-size="10.4" text-anchor="middle" fill="#231f20" >6</text>
<text x="335.60" y="387.40" font-size="10.4" text-anchor="middle" fill="#231f20" >Position (μm)</text>
<rect x="407.40" y="222.70" width="28.40" height="135.50" fill="none" stroke="#3a3a3a" stroke-width="1" />
<line x1="407.50" y1="222.20" x2="407.50" y2="358.70" stroke="#8a8a8a" stroke-width="1.1" />
<line x1="435.80" y1="227.50" x2="433.80" y2="227.50" stroke="#3a3a3a" stroke-width="1" />
<line x1="435.80" y1="253.00" x2="433.80" y2="253.00" stroke="#3a3a3a" stroke-width="1" />
<line x1="435.80" y1="278.50" x2="433.80" y2="278.50" stroke="#3a3a3a" stroke-width="1" />
<line x1="435.80" y1="304.00" x2="433.80" y2="304.00" stroke="#3a3a3a" stroke-width="1" />
<line x1="435.80" y1="329.50" x2="433.80" y2="329.50" stroke="#3a3a3a" stroke-width="1" />
<line x1="435.80" y1="355.00" x2="433.80" y2="355.00" stroke="#3a3a3a" stroke-width="1" />
<text x="439.60" y="256.70" font-size="10.4" text-anchor="start" fill="#231f20" >1.44</text>
<text x="439.60" y="307.70" font-size="10.4" text-anchor="start" fill="#231f20" >1.42</text>
<text x="439.60" y="358.70" font-size="10.4" text-anchor="start" fill="#231f20" >1.40</text>
<text x="408.60" y="372.30" font-size="10.4" text-anchor="start" fill="#231f20" >Intensity</text>
<text x="428.40" y="384.30" font-size="10.4" text-anchor="middle" fill="#231f20" >(a. u.)</text>
<text transform="translate(467.8,291) rotate(90)" font-size="10.2" text-anchor="middle" fill="#231f20">Energy (eV)</text>
<path d="M409.69,223.00 L409.17,223.60 L410.53,224.20 L408.64,224.80 L409.56,225.40 L408.19,226.00 L410.49,226.60 L410.98,227.20 L412.32,227.80 L411.43,228.40 L411.79,229.00 L411.42,229.60 L410.86,230.20 L411.40,230.80 L410.49,231.40 L410.85,232.00 L412.05,232.60 L412.19,233.20 L411.90,233.80 L414.13,234.40 L413.49,235.00 L412.60,235.60 L412.82,236.20 L412.37,236.80 L412.27,237.40 L412.27,238.00 L414.42,238.60 L413.82,239.20 L413.62,239.80 L413.96,240.40 L415.35,241.00 L414.08,241.60 L413.02,242.20 L415.20,242.80 L412.86,243.40 L412.56,244.00 L413.34,244.60 L415.25,245.20 L413.43,245.80 L411.15,246.40 L412.74,247.00 L412.61,247.60 L412.70,248.20 L413.55,248.80 L413.80,249.40 L413.99,250.00 L413.40,250.60 L414.58,251.20 L415.39,251.80 L414.51,252.40 L413.65,253.00 L414.39,253.60 L414.87,254.20 L414.33,254.80 L415.58,255.40 L419.47,256.00 L423.77,256.60 L429.41,257.20 L431.02,257.80 L425.47,258.40 L419.99,259.00 L414.90,259.60 L415.34,260.20 L414.10,260.80 L412.36,261.40 L412.99,262.00 L412.67,262.60 L412.18,263.20 L412.79,263.80 L414.19,264.40 L413.39,265.00 L413.86,265.60 L414.61,266.20 L412.15,266.80 L411.23,267.40 L411.88,268.00 L410.00,268.60 L410.25,269.20 L411.78,269.80 L412.40,270.40 L412.32,271.00 L410.04,271.60 L412.61,272.20 L412.39,272.80 L412.47,273.40 L412.27,274.00 L410.16,274.60 L409.26,275.20 L408.95,275.80 L411.61,276.40 L410.59,277.00 L410.57,277.60 L410.54,278.20 L411.27,278.80 L411.61,279.40 L411.58,280.00 L410.19,280.60 L407.74,281.20 L409.37,281.80 L410.36,282.40 L411.77,283.00 L411.34,283.60 L410.65,284.20 L411.20,284.80 L409.73,285.40 L409.38,286.00 L409.23,286.60 L410.31,287.20 L412.53,287.80 L412.56,288.40 L412.91,289.00 L412.30,289.60 L412.00,290.20 L411.19,290.80 L410.89,291.40 L408.80,292.00 L408.76,292.60 L408.66,293.20 L410.53,293.80 L411.40,294.40 L412.32,295.00 L413.21,295.60 L412.03,296.20 L412.62,296.80 L413.77,297.40 L412.65,298.00 L413.04,298.60 L412.16,299.20 L410.42,299.80 L411.08,300.40 L410.68,301.00 L411.45,301.60 L411.61,302.20 L412.87,302.80 L412.35,303.40 L418.04,304.00 L423.25,304.60 L420.89,305.20 L415.54,305.80 L413.49,306.40 L413.16,307.00 L412.79,307.60 L412.55,308.20 L410.28,308.80 L409.76,309.40 L411.69,310.00 L411.74,310.60 L410.17,311.20 L409.89,311.80 L409.21,312.40 L409.21,313.00 L411.19,313.60 L411.02,314.20 L412.14,314.80 L411.90,315.40 L410.23,316.00 L410.09,316.60 L412.69,317.20 L411.34,317.80 L410.33,318.40 L411.87,319.00 L411.66,319.60 L411.46,320.20 L412.70,320.80 L410.43,321.40 L411.18,322.00 L410.24,322.60 L409.41,323.20 L409.49,323.80 L411.34,324.40 L411.17,325.00 L409.52,325.60 L409.29,326.20 L411.58,326.80 L412.38,327.40 L410.87,328.00 L413.28,328.60 L412.04,329.20 L410.60,329.80 L410.78,330.40 L411.87,331.00 L413.09,331.60 L413.23,332.20 L411.97,332.80 L411.15,333.40 L409.89,334.00 L410.46,334.60 L410.30,335.20 L410.99,335.80 L409.98,336.40 L410.11,337.00 L409.86,337.60 L409.42,338.20 L409.21,338.80 L409.24,339.40 L409.11,340.00 L410.66,340.60 L411.08,341.20 L410.02,341.80 L411.12,342.40 L411.53,343.00 L412.84,343.60 L412.05,344.20 L411.61,344.80 L410.94,345.40 L411.33,346.00 L411.90,346.60 L411.95,347.20 L411.61,347.80 L412.21,348.40 L412.16,349.00 L412.35,349.60 L411.47,350.20 L412.19,350.80 L411.75,351.40 L412.11,352.00 L414.14,352.60 L418.88,353.20 L423.59,353.80 L425.26,354.40 L420.50,355.00 L417.35,355.60 L416.11,356.20 L415.36,356.80 L413.65,357.40" fill="none" stroke="#c41e2a" stroke-width="1.15" stroke-linejoin="round" />
<rect x="551.70" y="222.50" width="62.40" height="135.00" fill="#fbf1f2" stroke="none" stroke-width="1" />
<rect x="614.10" y="222.50" width="70.50" height="135.00" fill="#fbe6ea" stroke="none" stroke-width="1" />
<g clip-path="url(#clipf)">
<path d="M508.60,242.92 L508.82,244.05 L509.12,244.37 L509.48,245.71 L509.87,246.59 L510.27,246.05 L510.66,246.37 L511.00,248.24 L511.31,246.58 L511.60,245.77 L511.89,246.44 L512.16,244.14 L512.44,243.76 L512.72,241.87 L513.00,241.31 L513.28,239.42 L513.56,239.68 L513.83,239.41 L514.11,237.92 L514.39,237.77 L514.69,237.12 L515.00,235.44 L515.33,236.80 L515.68,236.41 L516.04,235.87 L516.40,235.48 L516.77,237.60 L517.14,237.07 L517.50,237.98 L517.86,238.60 L518.22,238.39 L518.59,239.01 L518.95,238.17 L519.31,239.68 L519.66,239.95 L520.00,242.66 L520.33,244.70 L520.64,245.55 L520.95,248.60 L521.25,252.46 L521.56,256.93 L521.87,260.49 L522.20,265.13 L522.54,270.30 L522.89,277.30 L523.25,284.57 L523.61,291.84 L523.97,298.59 L524.33,303.62 L524.70,306.80 L525.07,306.89 L525.45,305.37 L525.83,302.08 L526.22,298.16 L526.59,293.56 L526.95,289.15 L527.30,286.96 L527.63,285.14 L527.94,283.55 L528.23,281.94 L528.53,280.87 L528.81,279.06 L529.10,278.12 L529.40,275.87 L529.69,273.11 L529.98,270.07 L530.26,267.79 L530.54,264.73 L530.84,260.62 L531.16,258.21 L531.50,254.91 L531.88,251.56 L532.29,247.95 L532.73,245.42 L533.17,242.38 L533.61,237.92 L534.02,237.54 L534.40,236.00 L534.74,238.52 L535.04,239.73 L535.33,243.91 L535.61,247.90 L535.89,251.33 L536.18,256.91 L536.50,261.81 L536.85,268.62 L537.23,278.05 L537.63,287.34 L538.02,297.38 L538.41,306.56 L538.77,313.91 L539.10,317.86 L539.39,319.10 L539.65,318.97 L539.88,315.73 L540.10,312.58 L540.33,308.20 L540.55,303.44 L540.80,299.96 L541.05,296.89 L541.29,293.71 L541.53,290.23 L541.78,286.66 L542.05,283.13 L542.35,279.83 L542.70,275.81 L543.09,272.02 L543.52,268.39 L543.98,263.92 L544.47,260.05 L544.97,256.96 L545.48,253.05 L546.00,250.05 L546.53,246.27 L547.09,244.76 L547.67,242.97 L548.25,239.86 L548.83,239.58 L549.38,238.30 L549.90,236.03 L550.39,236.61 L550.86,235.93 L551.32,236.37 L551.76,235.88 L552.18,237.11 L552.60,237.79 L553.00,236.95 L553.39,238.01 L553.76,240.64 L554.12,242.77 L554.47,242.83 L554.82,244.92 L555.16,246.80 L555.50,247.60 L555.84,249.13 L556.16,250.83 L556.48,252.48 L556.80,254.17 L557.12,255.04 L557.45,255.84 L557.80,256.37 L558.16,255.03 L558.51,254.35 L558.88,252.83 L559.25,250.46 L559.64,248.00 L560.06,247.33 L560.50,244.43 L560.98,242.79 L561.51,241.73 L562.06,240.72 L562.62,237.91 L563.18,237.06 L563.71,236.00 L564.20,236.33 L564.65,235.04 L565.07,235.79 L565.47,234.35 L565.86,234.99 L566.24,236.11 L566.62,237.19 L567.00,236.89 L567.37,237.38 L567.73,238.56 L568.08,241.08 L568.43,241.96 L568.79,244.71 L569.18,245.74 L569.60,244.60 L570.07,244.28 L570.58,244.21 L571.11,242.16 L571.66,240.63 L572.20,237.78 L572.72,235.77 L573.20,235.14 L573.64,235.81 L574.06,234.56 L574.47,234.86 L574.86,235.32 L575.24,235.70 L575.62,236.04 L576.00,237.43 L576.39,235.72 L576.78,235.11 L577.17,236.83 L577.55,236.51 L577.91,236.93 L578.27,236.49 L578.60,239.19 L578.91,241.54 L579.19,243.03 L579.46,247.78 L579.72,251.61 L579.97,255.81 L580.23,260.28 L580.50,264.79 L580.78,269.89 L581.06,275.28 L581.34,280.93 L581.62,287.45 L581.91,293.18 L582.20,299.63 L582.50,304.55 L582.80,311.37 L583.11,317.70 L583.42,324.57 L583.74,330.82 L584.06,336.24 L584.38,340.00 L584.70,341.71 L585.02,342.61 L585.33,340.39 L585.64,337.56 L585.96,334.10 L586.29,329.75 L586.63,325.50 L587.00,322.44 L587.39,318.94 L587.79,315.44 L588.21,312.05 L588.64,309.27 L589.09,305.38 L589.54,302.06 L590.00,297.85 L590.49,293.60 L591.01,289.49 L591.54,285.14 L592.08,279.86 L592.59,276.02 L593.07,272.03 L593.50,268.31 L593.87,265.29 L594.19,261.89 L594.48,260.24 L594.75,258.42 L595.00,255.64 L595.25,253.88 L595.50,251.77 L595.75,249.65 L595.99,246.77 L596.22,244.18 L596.44,242.31 L596.66,238.41 L596.88,236.90 L597.10,236.18 L597.32,236.14 L597.54,236.68 L597.77,239.88 L597.98,241.20 L598.20,241.34 L598.40,244.16 L598.60,245.59 L598.78,247.27 L598.95,248.98 L599.10,251.17 L599.26,253.06 L599.42,255.15 L599.60,257.81 L599.80,261.43 L600.03,265.63 L600.27,271.37 L600.53,277.41 L600.80,283.20 L601.07,288.96 L601.34,294.72 L601.60,299.87 L601.86,304.72 L602.11,309.58 L602.37,313.66 L602.63,318.11 L602.89,321.24 L603.14,323.36 L603.40,324.37 L603.66,324.01 L603.91,322.30 L604.17,319.08 L604.43,315.78 L604.69,311.73 L604.94,307.85 L605.20,305.04 L605.44,302.67 L605.66,299.77 L605.88,297.92 L606.10,295.64 L606.35,293.56 L606.65,290.66 L607.00,286.57 L607.42,282.72 L607.90,277.44 L608.42,271.27 L608.96,265.70 L609.52,259.76 L610.07,255.36 L610.60,250.96 L611.11,248.05 L611.63,244.54 L612.14,241.34 L612.66,239.01 L613.17,236.70 L613.69,234.36 L614.20,234.79 L614.71,233.99 L615.23,235.95 L615.74,239.72 L616.26,240.80 L616.77,243.44 L617.29,245.40 L617.80,248.04 L618.31,246.28 L618.83,244.94 L619.34,245.23 L619.86,241.85 L620.37,241.63 L620.89,239.68 L621.40,238.94 L621.91,238.50 L622.43,237.12 L622.94,237.20 L623.46,235.27 L623.97,236.77 L624.49,236.24 L625.00,236.87 L625.51,236.02 L626.00,238.28 L626.49,239.73 L626.99,238.90 L627.50,240.45 L628.03,241.67 L628.60,242.52 L629.21,240.97 L629.87,240.13 L630.55,239.31 L631.25,239.03 L631.93,238.29 L632.59,236.65 L633.20,236.11 L633.78,235.93 L634.33,235.64 L634.87,235.73 L635.38,235.13 L635.87,236.43 L636.35,238.16 L636.80,238.01 L637.22,240.26 L637.62,240.87 L637.99,244.27 L638.35,246.89 L638.69,249.34 L639.04,251.69 L639.40,254.38 L639.76,257.44 L640.11,260.89 L640.46,263.50 L640.81,266.82 L641.17,270.71 L641.53,273.86 L641.90,276.02 L642.28,278.29 L642.65,280.90 L643.04,282.54 L643.43,284.45 L643.83,285.74 L644.26,286.85 L644.70,286.51 L645.17,285.31 L645.67,283.65 L646.19,281.11 L646.72,277.27 L647.25,274.44 L647.78,271.15 L648.30,269.15 L648.81,266.97 L649.33,264.96 L649.84,263.39 L650.36,261.78 L650.87,260.86 L651.39,259.36 L651.90,257.67 L652.42,256.29 L652.95,254.63 L653.47,253.46 L654.00,251.22 L654.52,250.51 L655.02,248.51 L655.50,247.42 L655.97,245.88 L656.42,245.51 L656.86,244.38 L657.29,242.77 L657.70,241.65 L658.11,241.29 L658.50,240.78 L658.87,238.98 L659.22,238.91 L659.56,238.65 L659.89,236.93 L660.22,235.94 L660.55,235.73 L660.90,236.88 L661.26,237.04 L661.63,237.97 L662.01,238.24 L662.38,237.69 L662.76,238.78 L663.13,240.68 L663.50,242.91 L663.87,247.28 L664.23,251.22 L664.60,255.85 L664.96,260.15 L665.32,265.81 L665.66,270.21 L666.00,274.92 L666.31,280.01 L666.59,284.69 L666.85,290.13 L667.12,295.98 L667.40,299.79 L667.72,303.02 L668.10,304.78 L668.54,304.49 L669.02,301.80 L669.54,298.91 L670.08,295.04 L670.63,290.83 L671.17,286.43 L671.70,283.29 L672.22,280.43 L672.75,276.46 L673.29,273.15 L673.82,269.36 L674.34,266.38 L674.83,264.01 L675.30,261.21 L675.74,260.33 L676.16,259.18 L676.56,257.56 L676.94,257.85 L677.31,256.85 L677.66,256.82 L678.00,256.26 L678.32,255.22 L678.61,255.14 L678.88,254.71 L679.14,254.47 L679.41,253.51 L679.69,253.49 L680.00,253.06 L680.34,252.01 L680.70,251.02 L681.07,249.67 L681.45,249.07 L681.82,247.74 L682.18,247.51 L682.50,246.39 L682.81,245.03 L683.12,242.93 L683.41,242.65 L683.69,241.35 L683.94,239.19 L684.14,239.77 L684.30,238.54" fill="none" stroke="#cf2e38" stroke-width="1.1" stroke-linejoin="round" />
</g>
<rect x="508.40" y="222.50" width="176.20" height="135.00" fill="none" stroke="#3a3a3a" stroke-width="1" />
<line x1="535.90" y1="357.50" x2="535.90" y2="355.00" stroke="#3a3a3a" stroke-width="1" />
<text x="535.90" y="369.40" font-size="10.4" text-anchor="middle" fill="#231f20" >1485</text>
<line x1="570.40" y1="357.50" x2="570.40" y2="355.00" stroke="#3a3a3a" stroke-width="1" />
<text x="570.40" y="369.40" font-size="10.4" text-anchor="middle" fill="#231f20" >1490</text>
<line x1="604.90" y1="357.50" x2="604.90" y2="355.00" stroke="#3a3a3a" stroke-width="1" />
<text x="604.90" y="369.40" font-size="10.4" text-anchor="middle" fill="#231f20" >1495</text>
<line x1="639.40" y1="357.50" x2="639.40" y2="355.00" stroke="#3a3a3a" stroke-width="1" />
<text x="639.40" y="369.40" font-size="10.4" text-anchor="middle" fill="#231f20" >1500</text>
<line x1="673.90" y1="357.50" x2="673.90" y2="355.00" stroke="#3a3a3a" stroke-width="1" />
<text x="673.90" y="369.40" font-size="10.4" text-anchor="middle" fill="#231f20" >1505</text>
<line x1="518.65" y1="357.50" x2="518.65" y2="355.70" stroke="#3a3a3a" stroke-width="1" />
<line x1="553.15" y1="357.50" x2="553.15" y2="355.70" stroke="#3a3a3a" stroke-width="1" />
<line x1="587.65" y1="357.50" x2="587.65" y2="355.70" stroke="#3a3a3a" stroke-width="1" />
<line x1="622.15" y1="357.50" x2="622.15" y2="355.70" stroke="#3a3a3a" stroke-width="1" />
<line x1="656.65" y1="357.50" x2="656.65" y2="355.70" stroke="#3a3a3a" stroke-width="1" />
<text x="596.40" y="384.60" font-size="10.4" text-anchor="middle" fill="#231f20" >Wavelength (nm)</text>
<text transform="translate(501.9,289.5) rotate(-90)" font-size="10.4" text-anchor="middle" fill="#231f20">Transmission (a. u.)</text>
<text x="511.2" y="232.8" font-size="8.6" fill="#231f20"><tspan font-style="italic">m</tspan> = 161</text>
<text x="567.3" y="232.8" font-size="8.6" fill="#231f20"><tspan font-style="italic">m</tspan> = 160</text>
<text x="633.6" y="232.8" font-size="8.6" fill="#231f20"><tspan font-style="italic">m</tspan> = 159</text>
<text x="511.80" y="329.90" font-size="9" text-anchor="start" fill="#231f20" >Q = 1485.6</text>
<text x="560.60" y="352.90" font-size="10.2" text-anchor="start" fill="#231f20" >Q = 1606.1</text>
<text x="627.80" y="323.00" font-size="9" text-anchor="start" fill="#231f20" >Q = 1121.3</text>
</svg></body></html>
